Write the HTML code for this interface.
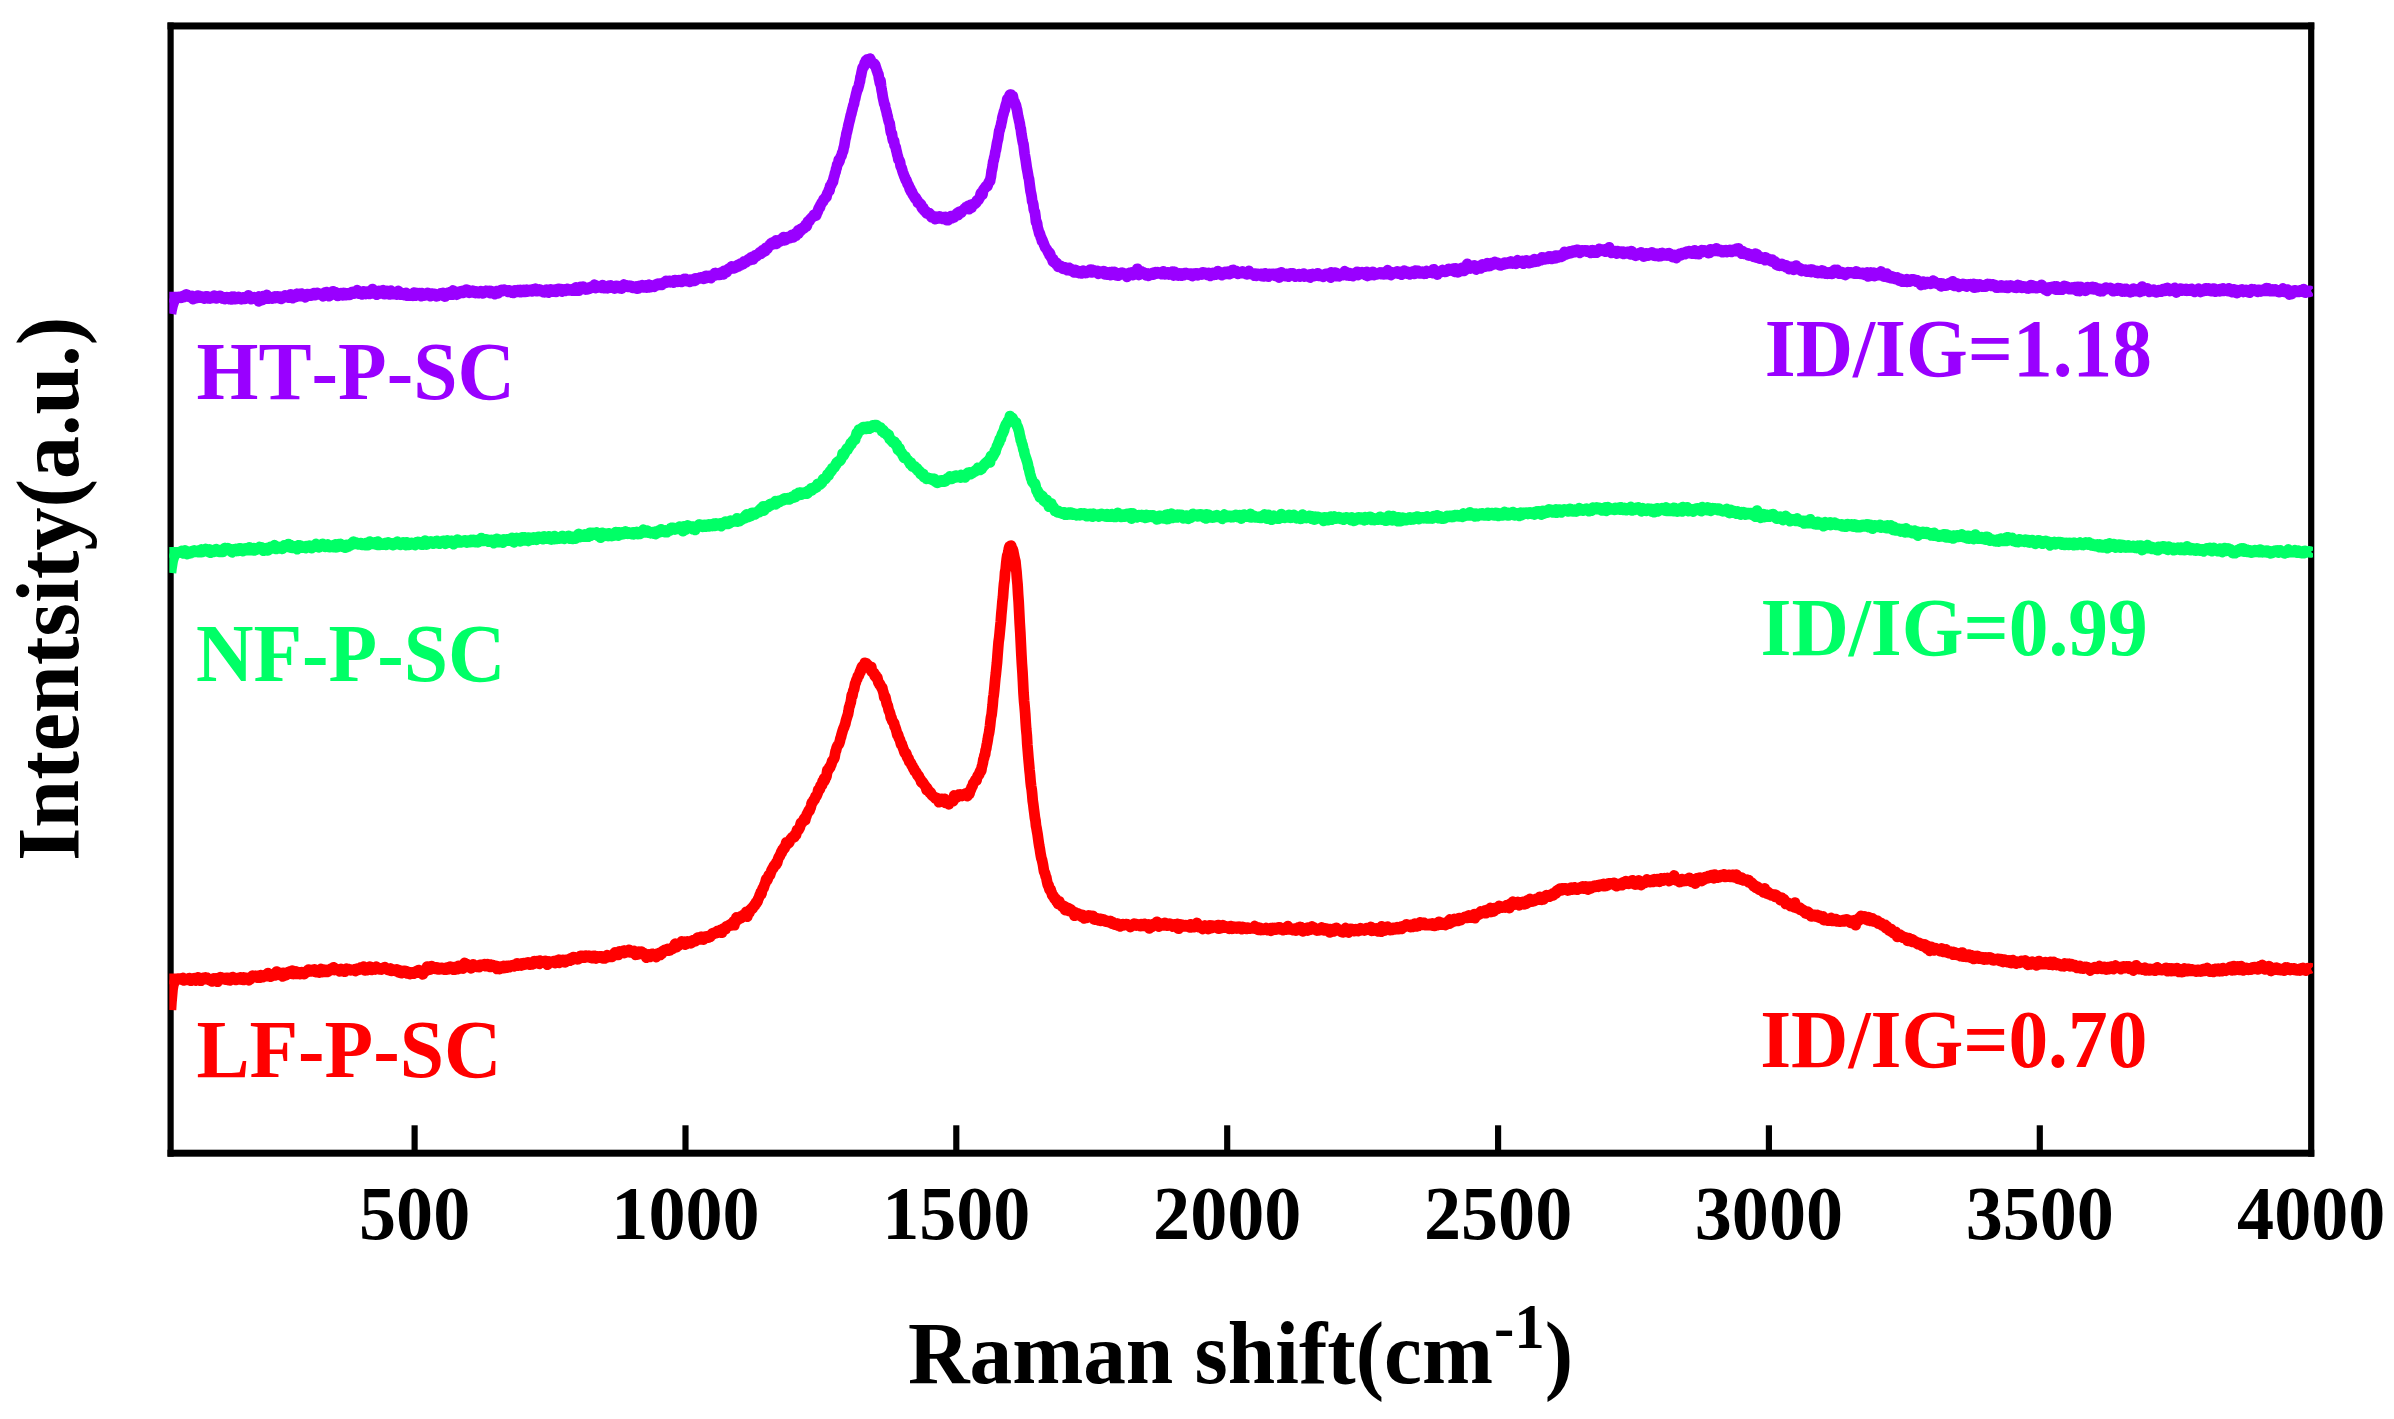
<!DOCTYPE html>
<html lang="en">
<head>
<meta charset="utf-8">
<title>Raman spectra</title>
<style>
html,body{margin:0;padding:0;background:#fff;}
body{width:2394px;height:1419px;overflow:hidden;}
svg{display:block;}
svg text{font-family:"Liberation Serif",serif;font-weight:bold;font-kerning:none;}
</style>
</head>
<body>
<svg width="2394" height="1419" viewBox="0 0 2394 1419">
<rect x="0" y="0" width="2394" height="1419" fill="#ffffff"/>
<rect x="167.50" y="22.45" width="2146.80" height="7.0" fill="#000"/>
<rect x="167.50" y="1149.70" width="2146.80" height="7.0" fill="#000"/>
<rect x="167.50" y="22.45" width="6.2" height="1134.25" fill="#000"/>
<rect x="2308.10" y="22.45" width="6.2" height="1134.25" fill="#000"/>
<rect x="411.53" y="1125.3" width="6.15" height="27.90" fill="#000"/>
<rect x="682.42" y="1125.3" width="6.15" height="27.90" fill="#000"/>
<rect x="953.22" y="1125.3" width="6.15" height="27.90" fill="#000"/>
<rect x="1224.12" y="1125.3" width="6.15" height="27.90" fill="#000"/>
<rect x="1495.02" y="1125.3" width="6.15" height="27.90" fill="#000"/>
<rect x="1765.83" y="1125.3" width="6.15" height="27.90" fill="#000"/>
<rect x="2036.72" y="1125.3" width="6.15" height="27.90" fill="#000"/>
<defs><clipPath id="plotclip"><rect x="169.3" y="20" width="2143.7" height="1140"/></clipPath></defs>
<g clip-path="url(#plotclip)">
<polyline id="red" fill="none" stroke="#ff0000" stroke-width="10.8" stroke-linejoin="round" stroke-linecap="butt" points="170.9,1010.0 171.4,1002.2 172.0,995.2 172.5,989.5 173.1,985.8 173.6,984.1 174.2,982.7 174.7,981.5 175.2,980.7 175.8,980.1 176.3,979.7 176.9,979.5 177.4,979.2 177.9,979.1 178.5,978.9 179.0,978.8 179.6,978.8 180.1,978.8 180.7,978.8 181.2,979.3 181.7,978.9 182.3,978.7 182.8,978.0 183.4,978.9 183.9,980.4 184.4,980.0 185.0,978.9 185.5,979.7 186.1,979.8 186.6,979.8 187.2,979.1 187.7,979.1 188.2,979.3 188.8,978.8 189.3,978.1 189.9,978.1 190.4,979.0 190.9,980.7 191.5,978.8 192.0,979.6 192.6,979.6 193.1,979.3 193.7,978.7 194.2,978.2 194.7,979.3 195.3,978.7 195.8,980.6 196.4,979.2 196.9,978.8 197.4,978.1 198.0,977.3 198.5,979.9 199.1,980.0 199.6,978.9 200.2,980.6 200.7,979.5 201.2,980.7 201.8,978.5 202.3,978.3 202.9,978.0 203.4,979.3 203.9,978.6 204.5,978.1 205.0,978.2 205.6,977.5 206.1,977.6 206.7,977.6 207.2,979.4 207.7,978.9 208.3,979.1 208.8,980.0 209.4,980.1 209.9,979.8 210.4,980.2 211.0,980.6 211.5,980.1 212.1,981.4 212.6,979.9 213.2,980.2 213.7,978.5 214.2,980.0 214.8,978.8 215.3,979.0 215.9,978.5 216.4,979.5 216.9,979.6 217.5,981.7 218.0,978.9 218.6,978.0 219.1,980.1 219.7,978.3 220.2,977.2 220.7,979.2 221.3,979.3 221.8,979.2 222.4,979.2 222.9,977.9 223.4,978.1 224.0,978.8 224.5,979.2 225.1,979.5 225.6,979.2 226.2,979.2 226.7,977.9 227.2,977.8 227.8,977.8 228.3,980.0 228.9,979.8 229.4,979.1 229.9,980.4 230.5,979.4 231.0,979.3 231.6,977.6 232.1,977.5 232.7,977.1 233.2,977.8 233.7,978.3 234.3,978.3 234.8,978.2 235.4,979.7 235.9,979.9 236.4,979.7 237.0,978.2 237.5,979.0 238.1,978.9 238.6,979.4 239.2,978.8 239.7,978.2 240.2,977.4 240.8,977.5 241.3,978.4 241.9,979.7 242.4,979.0 242.9,979.7 243.5,977.4 244.0,979.9 244.6,978.3 245.1,979.3 245.7,978.8 246.2,978.4 246.7,978.0 247.3,978.1 247.8,978.8 248.4,979.8 248.9,980.3 249.4,977.8 250.0,977.4 250.5,979.2 251.1,976.8 251.6,977.1 252.2,976.0 252.7,975.7 253.2,976.4 253.8,977.1 254.3,976.1 254.9,976.0 255.4,976.9 255.9,975.8 256.5,976.8 257.0,976.3 257.6,977.6 258.1,976.8 258.7,975.6 259.2,976.8 259.7,977.7 260.3,977.2 260.8,975.2 261.4,975.9 261.9,977.0 262.4,976.7 263.0,977.0 263.5,976.6 264.1,975.5 264.6,975.2 265.2,975.2 265.7,975.9 266.2,975.2 266.8,976.2 267.3,974.7 267.9,973.1 268.4,975.6 268.9,975.3 269.5,976.0 270.0,976.3 270.6,976.6 271.1,975.5 271.7,976.3 272.2,974.8 272.7,975.1 273.3,975.4 273.8,974.4 274.4,974.4 274.9,973.6 275.4,975.4 276.0,974.4 276.5,971.6 277.1,974.4 277.6,973.8 278.2,973.2 278.7,972.6 279.2,973.0 279.8,974.6 280.3,975.0 280.9,974.5 281.4,975.4 281.9,974.6 282.5,976.4 283.0,972.9 283.6,974.3 284.1,974.5 284.7,974.3 285.2,973.1 285.7,975.3 286.3,974.2 286.8,974.3 287.4,974.3 287.9,973.7 288.4,972.9 289.0,971.7 289.5,971.6 290.1,973.0 290.6,972.7 291.2,972.6 291.7,972.5 292.2,970.7 292.8,973.9 293.3,974.0 293.9,973.9 294.4,973.9 294.9,972.8 295.5,972.6 296.0,971.4 296.6,973.4 297.1,973.8 297.7,972.8 298.2,973.5 298.7,972.6 299.3,973.0 299.8,972.4 300.4,974.0 300.9,973.2 301.4,973.4 302.0,972.2 302.5,972.3 303.1,972.3 303.6,973.1 304.2,974.1 304.7,972.2 305.2,972.7 305.8,972.1 306.3,972.3 306.9,972.1 307.4,971.9 308.0,970.0 308.5,969.6 309.0,970.8 309.6,970.5 310.1,971.0 310.7,971.4 311.2,971.3 311.7,970.1 312.3,969.9 312.8,971.1 313.4,970.7 313.9,970.5 314.5,969.5 315.0,971.3 315.5,972.0 316.1,970.7 316.6,970.5 317.2,970.7 317.7,970.3 318.2,971.3 318.8,972.3 319.3,972.6 319.9,970.3 320.4,971.9 321.0,969.0 321.5,971.0 322.0,969.4 322.6,972.0 323.1,970.3 323.7,969.6 324.2,970.2 324.7,970.8 325.3,971.9 325.8,970.3 326.4,970.8 326.9,970.0 327.5,971.9 328.0,970.0 328.5,971.2 329.1,970.1 329.6,970.0 330.2,969.4 330.7,969.4 331.2,968.7 331.8,969.8 332.3,969.2 332.9,969.2 333.4,967.3 334.0,969.4 334.5,970.0 335.0,969.9 335.6,969.7 336.1,969.0 336.7,969.6 337.2,969.4 337.7,969.5 338.3,969.9 338.8,970.7 339.4,971.2 339.9,971.4 340.5,969.3 341.0,968.8 341.5,970.3 342.1,971.0 342.6,970.7 343.2,970.9 343.7,970.6 344.2,971.3 344.8,971.7 345.3,969.4 345.9,970.4 346.4,968.7 347.0,969.0 347.5,969.9 348.0,968.9 348.6,969.1 349.1,969.7 349.7,969.5 350.2,969.9 350.7,970.2 351.3,969.8 351.8,969.8 352.4,970.1 352.9,969.8 353.5,970.0 354.0,969.6 354.5,970.3 355.1,969.1 355.6,971.1 356.2,968.9 356.7,969.4 357.2,969.1 357.8,968.7 358.3,969.2 358.9,969.8 359.4,969.2 360.0,968.8 360.5,968.9 361.0,967.3 361.6,969.2 362.1,968.4 362.7,969.2 363.2,967.4 363.7,966.7 364.3,968.3 364.8,970.4 365.4,968.6 365.9,970.1 366.5,969.0 367.0,969.8 367.5,970.2 368.1,969.2 368.6,968.8 369.2,968.4 369.7,966.6 370.2,969.3 370.8,969.0 371.3,969.5 371.9,969.8 372.4,968.9 373.0,968.3 373.5,969.4 374.0,968.2 374.6,967.4 375.1,969.5 375.7,967.5 376.2,966.6 376.7,967.8 377.3,968.3 377.8,968.1 378.4,968.6 378.9,968.8 379.5,969.3 380.0,968.4 380.5,969.4 381.1,969.5 381.6,969.1 382.2,968.7 382.7,967.9 383.2,968.1 383.8,968.6 384.3,967.5 384.9,967.2 385.4,968.1 386.0,968.1 386.5,969.1 387.0,969.0 387.6,969.7 388.1,969.9 388.7,969.1 389.2,969.0 389.7,968.7 390.3,968.5 390.8,969.3 391.4,970.9 391.9,970.9 392.5,970.0 393.0,970.1 393.5,969.8 394.1,969.6 394.6,970.9 395.2,970.5 395.7,971.0 396.2,970.5 396.8,969.4 397.3,969.7 397.9,970.7 398.4,972.3 399.0,971.2 399.5,972.2 400.0,972.0 400.6,970.7 401.1,973.0 401.7,973.1 402.2,973.0 402.7,971.4 403.3,972.4 403.8,970.9 404.4,970.9 404.9,970.9 405.5,972.7 406.0,971.2 406.5,971.6 407.1,973.3 407.6,972.9 408.2,973.6 408.7,973.0 409.2,972.1 409.8,974.0 410.3,973.1 410.9,972.4 411.4,973.4 412.0,973.2 412.5,972.5 413.0,972.3 413.6,973.7 414.1,972.2 414.7,973.0 415.2,972.0 415.7,972.4 416.3,971.3 416.8,971.8 417.4,971.9 417.9,972.6 418.5,970.1 419.0,971.1 419.5,970.3 420.1,971.2 420.6,971.4 421.2,971.9 421.7,972.1 422.2,973.0 422.8,974.4 423.3,972.3 423.9,971.3 424.4,972.1 425.0,971.1 425.5,971.3 426.0,969.8 426.6,969.7 427.1,966.7 427.7,968.9 428.2,969.8 428.7,969.8 429.3,968.2 429.8,968.0 430.4,969.5 430.9,967.8 431.5,966.1 432.0,968.6 432.5,966.6 433.1,968.2 433.6,968.5 434.2,967.5 434.7,968.6 435.2,968.0 435.8,968.9 436.3,968.4 436.9,967.3 437.4,968.8 438.0,969.3 438.5,969.2 439.0,969.2 439.6,969.3 440.1,968.6 440.7,968.9 441.2,967.9 441.7,968.4 442.3,967.8 442.8,968.7 443.4,969.1 443.9,968.3 444.5,969.6 445.0,968.7 445.5,969.5 446.1,969.6 446.6,967.7 447.2,968.9 447.7,969.4 448.3,968.2 448.8,968.2 449.3,967.2 449.9,967.7 450.4,966.6 451.0,967.3 451.5,967.5 452.0,968.4 452.6,968.7 453.1,969.6 453.7,969.3 454.2,967.1 454.8,968.5 455.3,969.5 455.8,967.2 456.4,968.7 456.9,968.0 457.5,968.8 458.0,969.2 458.5,965.8 459.1,967.2 459.6,968.3 460.2,967.6 460.7,967.9 461.3,967.5 461.8,967.8 462.3,968.4 462.9,968.5 463.4,966.2 464.0,965.2 464.5,963.0 465.0,966.4 465.6,966.4 466.1,965.6 466.7,964.1 467.2,965.2 467.8,965.1 468.3,967.1 468.8,966.3 469.4,966.5 469.9,966.1 470.5,966.1 471.0,968.3 471.5,967.4 472.1,966.4 472.6,965.6 473.2,964.4 473.7,966.8 474.3,965.4 474.8,965.5 475.3,966.1 475.9,966.2 476.4,965.8 477.0,966.9 477.5,966.2 478.0,965.5 478.6,966.6 479.1,967.1 479.7,965.6 480.2,965.0 480.8,966.0 481.3,965.9 481.8,964.8 482.4,965.3 482.9,965.6 483.5,965.3 484.0,964.6 484.5,964.3 485.1,964.7 485.6,966.2 486.2,965.2 486.7,964.5 487.3,964.2 487.8,965.6 488.3,965.2 488.9,965.6 489.4,966.0 490.0,966.9 490.5,964.6 491.0,965.7 491.6,965.7 492.1,964.8 492.7,965.1 493.2,965.3 493.8,966.8 494.3,966.9 494.8,966.2 495.4,966.5 495.9,965.8 496.5,966.4 497.0,968.9 497.5,966.4 498.1,968.4 498.6,966.7 499.2,969.0 499.7,969.0 500.3,966.6 500.8,968.4 501.3,967.1 501.9,966.7 502.4,967.7 503.0,966.8 503.5,966.0 504.0,968.1 504.6,966.3 505.1,967.9 505.7,966.1 506.2,967.5 506.8,967.7 507.3,966.3 507.8,965.9 508.4,966.8 508.9,966.0 509.5,967.2 510.0,966.0 510.5,965.7 511.1,965.5 511.6,965.5 512.2,965.5 512.7,966.0 513.3,965.1 513.8,966.4 514.3,965.6 514.9,965.4 515.4,965.0 516.0,964.9 516.5,964.7 517.0,963.3 517.6,965.7 518.1,964.3 518.7,965.1 519.2,964.9 519.8,964.5 520.3,964.2 520.8,963.7 521.4,965.5 521.9,964.2 522.5,963.5 523.0,964.9 523.5,963.2 524.1,964.3 524.6,964.5 525.2,963.7 525.7,963.7 526.3,962.9 526.8,963.9 527.3,963.9 527.9,962.3 528.4,964.1 529.0,963.6 529.5,963.1 530.0,964.6 530.6,963.0 531.1,964.3 531.7,963.3 532.2,964.4 532.8,962.9 533.3,964.1 533.8,963.1 534.4,961.1 534.9,961.4 535.5,963.1 536.0,961.5 536.5,961.3 537.1,962.2 537.6,963.1 538.2,962.6 538.7,962.4 539.3,963.9 539.8,960.6 540.3,960.9 540.9,962.5 541.4,961.2 542.0,962.7 542.5,962.0 543.0,962.3 543.6,961.5 544.1,961.9 544.7,962.4 545.2,960.8 545.8,961.1 546.3,961.2 546.8,961.8 547.4,964.6 547.9,961.6 548.5,961.7 549.0,961.4 549.5,962.3 550.1,962.1 550.6,962.5 551.2,962.3 551.7,961.7 552.3,961.7 552.8,961.5 553.3,961.3 553.9,961.2 554.4,961.1 555.0,963.1 555.5,962.1 556.0,961.4 556.6,960.5 557.1,961.1 557.7,960.7 558.2,961.1 558.8,959.7 559.3,962.8 559.8,962.3 560.4,960.3 560.9,960.6 561.5,960.5 562.0,960.5 562.5,960.0 563.1,960.0 563.6,962.1 564.2,960.3 564.7,961.9 565.3,962.3 565.8,960.0 566.3,961.1 566.9,959.8 567.4,960.8 568.0,960.8 568.5,959.5 569.0,960.4 569.6,958.9 570.1,960.7 570.7,958.5 571.2,958.2 571.8,959.9 572.3,958.2 572.8,957.8 573.4,957.1 573.9,958.5 574.5,958.7 575.0,957.6 575.5,958.2 576.1,957.7 576.6,958.6 577.2,959.2 577.7,958.8 578.3,959.1 578.8,957.4 579.3,956.9 579.9,956.7 580.4,955.9 581.0,956.5 581.5,957.2 582.1,955.8 582.6,956.1 583.1,956.9 583.7,956.5 584.2,957.7 584.8,957.3 585.3,956.1 585.8,955.7 586.4,957.0 586.9,957.0 587.5,957.2 588.0,956.9 588.6,955.9 589.1,956.5 589.6,955.8 590.2,957.5 590.7,957.2 591.3,958.0 591.8,956.2 592.3,956.1 592.9,956.0 593.4,958.1 594.0,957.8 594.5,955.8 595.1,958.2 595.6,957.0 596.1,958.5 596.7,957.2 597.2,957.4 597.8,956.3 598.3,956.9 598.8,956.8 599.4,956.9 599.9,956.3 600.5,957.0 601.0,957.8 601.6,956.3 602.1,957.9 602.6,958.2 603.2,957.6 603.7,957.2 604.3,957.3 604.8,958.3 605.3,956.9 605.9,956.1 606.4,957.1 607.0,955.2 607.5,957.3 608.1,955.6 608.6,955.6 609.1,956.5 609.7,956.5 610.2,956.7 610.8,956.2 611.3,955.4 611.8,956.9 612.4,956.2 612.9,954.3 613.5,955.1 614.0,953.6 614.6,954.6 615.1,952.4 615.6,952.7 616.2,953.5 616.7,954.8 617.3,953.0 617.8,954.6 618.3,954.7 618.9,952.7 619.4,951.3 620.0,952.9 620.5,952.5 621.1,951.8 621.6,951.6 622.1,952.1 622.7,952.7 623.2,952.5 623.8,950.7 624.3,953.0 624.8,950.7 625.4,951.3 625.9,951.1 626.5,952.1 627.0,951.1 627.6,951.4 628.1,950.6 628.6,950.8 629.2,949.8 629.7,952.0 630.3,952.0 630.8,952.3 631.3,951.8 631.9,950.9 632.4,952.4 633.0,951.2 633.5,953.1 634.1,951.0 634.6,952.6 635.1,953.0 635.7,954.7 636.2,954.6 636.8,952.2 637.3,954.5 637.8,954.1 638.4,953.9 638.9,951.7 639.5,952.6 640.0,952.2 640.6,953.8 641.1,953.6 641.6,951.7 642.2,952.5 642.7,953.2 643.3,953.3 643.8,953.0 644.3,955.1 644.9,954.0 645.4,954.1 646.0,955.5 646.5,957.7 647.1,956.5 647.6,955.2 648.1,954.5 648.7,955.0 649.2,956.0 649.8,956.9 650.3,956.0 650.8,955.0 651.4,955.9 651.9,953.8 652.5,954.0 653.0,955.5 653.6,954.2 654.1,955.1 654.6,954.8 655.2,955.0 655.7,955.9 656.3,957.0 656.8,954.0 657.3,954.8 657.9,953.4 658.4,955.5 659.0,954.7 659.5,952.8 660.1,953.7 660.6,954.9 661.1,953.1 661.7,953.8 662.2,952.9 662.8,951.0 663.3,950.8 663.8,950.6 664.4,950.6 664.9,950.0 665.5,950.8 666.0,949.8 666.6,949.9 667.1,950.7 667.6,948.9 668.2,949.6 668.7,950.6 669.3,950.4 669.8,949.8 670.3,950.3 670.9,949.7 671.4,948.7 672.0,948.9 672.5,948.9 673.1,947.1 673.6,947.2 674.1,946.7 674.7,944.9 675.2,943.7 675.8,947.3 676.3,947.3 676.8,944.7 677.4,945.9 677.9,945.0 678.5,945.7 679.0,944.5 679.6,944.6 680.1,943.3 680.6,943.9 681.2,943.3 681.7,941.4 682.3,942.2 682.8,942.4 683.3,943.8 683.9,943.0 684.4,941.7 685.0,944.6 685.5,944.0 686.1,944.1 686.6,942.8 687.1,941.9 687.7,941.5 688.2,941.6 688.8,941.7 689.3,942.3 689.8,941.8 690.4,942.0 690.9,943.3 691.5,941.9 692.0,940.6 692.6,941.9 693.1,940.2 693.6,941.4 694.2,939.9 694.7,940.7 695.3,941.2 695.8,941.0 696.3,940.2 696.9,939.5 697.4,937.9 698.0,937.6 698.5,937.5 699.1,938.4 699.6,939.4 700.1,938.0 700.7,936.9 701.2,937.7 701.8,936.9 702.3,937.9 702.8,937.2 703.4,939.6 703.9,937.0 704.5,937.9 705.0,938.2 705.6,938.1 706.1,936.7 706.6,936.3 707.2,936.3 707.7,937.1 708.3,936.2 708.8,937.5 709.3,936.6 709.9,936.4 710.4,936.7 711.0,936.0 711.5,934.5 712.1,933.6 712.6,933.8 713.1,933.1 713.7,933.8 714.2,932.9 714.8,933.1 715.3,932.8 715.9,933.0 716.4,931.7 716.9,932.4 717.5,930.8 718.0,932.5 718.6,932.3 719.1,930.7 719.6,931.4 720.2,930.0 720.7,930.7 721.3,930.0 721.8,932.7 722.4,929.3 722.9,929.3 723.4,928.7 724.0,928.4 724.5,928.8 725.1,927.9 725.6,929.2 726.1,926.7 726.7,926.1 727.2,926.8 727.8,926.7 728.3,925.7 728.9,925.4 729.4,925.2 729.9,924.5 730.5,925.1 731.0,925.4 731.6,923.5 732.1,923.3 732.6,923.0 733.2,922.8 733.7,921.3 734.3,925.2 734.8,921.3 735.4,922.4 735.9,921.0 736.4,917.5 737.0,919.8 737.5,919.5 738.1,918.3 738.6,919.4 739.1,918.0 739.7,917.5 740.2,916.5 740.8,917.6 741.3,917.8 741.9,917.5 742.4,917.0 742.9,915.1 743.5,915.8 744.0,915.0 744.6,915.7 745.1,916.4 745.6,915.5 746.2,912.0 746.7,915.4 747.3,916.6 747.8,914.1 748.4,912.9 748.9,911.9 749.4,912.7 750.0,910.2 750.5,910.4 751.1,908.9 751.6,908.4 752.1,908.3 752.7,908.4 753.2,906.4 753.8,906.7 754.3,905.0 754.9,905.5 755.4,903.9 755.9,902.5 756.5,903.1 757.0,901.8 757.6,901.5 758.1,899.0 758.6,898.4 759.2,896.8 759.7,895.2 760.3,895.1 760.8,892.2 761.4,894.0 761.9,891.2 762.4,889.4 763.0,887.8 763.5,888.2 764.1,886.4 764.6,884.3 765.1,883.6 765.7,881.3 766.2,879.2 766.8,878.9 767.3,880.2 767.9,878.3 768.4,876.2 768.9,875.1 769.5,874.5 770.0,875.1 770.6,872.8 771.1,871.8 771.6,870.3 772.2,869.3 772.7,868.1 773.3,868.3 773.8,865.9 774.4,866.3 774.9,864.7 775.4,864.7 776.0,864.8 776.5,862.1 777.1,862.9 777.6,860.8 778.1,859.2 778.7,857.4 779.2,856.7 779.8,856.2 780.3,854.6 780.9,853.6 781.4,851.5 781.9,852.5 782.5,849.6 783.0,849.9 783.6,849.4 784.1,847.4 784.6,848.0 785.2,846.1 785.7,845.0 786.3,842.4 786.8,843.7 787.4,844.3 787.9,843.2 788.4,841.8 789.0,842.8 789.5,841.8 790.1,840.5 790.6,839.2 791.1,838.8 791.7,838.1 792.2,837.3 792.8,836.9 793.3,837.5 793.9,836.9 794.4,836.9 794.9,834.6 795.5,834.2 796.0,834.9 796.6,831.8 797.1,830.1 797.6,830.8 798.2,830.3 798.7,829.8 799.3,828.1 799.8,827.6 800.4,825.0 800.9,822.9 801.4,823.1 802.0,823.0 802.5,822.2 803.1,820.9 803.6,820.2 804.1,818.7 804.7,818.1 805.2,820.2 805.8,817.3 806.3,816.5 806.9,813.9 807.4,813.7 807.9,812.3 808.5,811.1 809.0,810.2 809.6,810.5 810.1,808.6 810.6,807.8 811.2,805.5 811.7,802.9 812.3,802.7 812.8,802.1 813.4,800.5 813.9,799.6 814.4,800.0 815.0,798.2 815.5,796.4 816.1,796.6 816.6,795.7 817.1,794.6 817.7,793.1 818.2,790.0 818.8,790.2 819.3,790.0 819.9,789.0 820.4,786.2 820.9,786.2 821.5,784.9 822.0,785.2 822.6,781.3 823.1,782.6 823.6,780.1 824.2,778.3 824.7,780.7 825.3,778.5 825.8,777.2 826.4,776.8 826.9,773.4 827.4,770.0 828.0,770.5 828.5,769.4 829.1,767.7 829.6,768.2 830.1,767.4 830.7,765.4 831.2,764.9 831.8,762.6 832.3,760.8 832.9,760.3 833.4,759.5 833.9,758.8 834.5,757.4 835.0,754.4 835.6,751.2 836.1,750.4 836.6,747.9 837.2,746.4 837.7,745.7 838.3,744.6 838.8,744.2 839.4,742.7 839.9,741.1 840.4,738.5 841.0,737.0 841.5,734.8 842.1,732.8 842.6,730.9 843.1,729.4 843.7,728.0 844.2,727.0 844.8,725.0 845.3,723.9 845.9,720.8 846.4,719.2 846.9,717.5 847.5,715.6 848.0,714.3 848.6,710.9 849.1,707.3 849.7,705.9 850.2,703.9 850.7,702.6 851.3,698.7 851.8,695.0 852.4,695.8 852.9,692.7 853.4,690.5 854.0,689.5 854.5,687.2 855.1,683.5 855.6,683.1 856.2,680.8 856.7,679.5 857.2,678.9 857.8,676.4 858.3,675.6 858.9,675.5 859.4,673.8 859.9,671.9 860.5,672.0 861.0,669.3 861.6,667.9 862.1,666.6 862.7,666.1 863.2,668.2 863.7,666.2 864.3,664.7 864.8,662.9 865.4,662.9 865.9,663.7 866.4,663.3 867.0,664.5 867.5,664.5 868.1,665.3 868.6,667.1 869.2,667.7 869.7,668.1 870.2,668.6 870.8,670.0 871.3,667.1 871.9,672.1 872.4,672.3 872.9,671.9 873.5,673.4 874.0,672.9 874.6,675.6 875.1,675.6 875.7,675.2 876.2,677.7 876.7,678.0 877.3,677.6 877.8,679.9 878.4,682.4 878.9,682.5 879.4,684.2 880.0,684.1 880.5,685.4 881.1,686.6 881.6,687.8 882.2,687.6 882.7,690.3 883.2,691.7 883.8,694.0 884.3,697.4 884.9,696.2 885.4,697.3 885.9,699.7 886.5,702.7 887.0,704.8 887.6,705.1 888.1,707.2 888.7,710.3 889.2,711.1 889.7,712.3 890.3,714.3 890.8,717.6 891.4,717.4 891.9,719.8 892.4,721.3 893.0,721.5 893.5,722.6 894.1,723.2 894.6,726.4 895.2,727.1 895.7,728.5 896.2,730.2 896.8,732.5 897.3,735.0 897.9,734.4 898.4,735.8 898.9,738.3 899.5,739.0 900.0,740.0 900.6,742.4 901.1,744.4 901.7,743.8 902.2,745.9 902.7,746.9 903.3,748.6 903.8,749.9 904.4,752.0 904.9,753.2 905.4,752.7 906.0,753.2 906.5,754.3 907.1,757.2 907.6,757.1 908.2,759.0 908.7,759.0 909.2,761.5 909.8,761.6 910.3,762.7 910.9,762.9 911.4,764.7 911.9,765.8 912.5,766.1 913.0,767.7 913.6,769.0 914.1,768.8 914.7,771.1 915.2,770.9 915.7,772.1 916.3,772.4 916.8,773.5 917.4,775.1 917.9,775.9 918.4,775.6 919.0,776.5 919.5,778.1 920.1,778.9 920.6,779.5 921.2,781.8 921.7,782.7 922.2,781.6 922.8,782.5 923.3,783.0 923.9,784.5 924.4,784.7 924.9,785.7 925.5,786.3 926.0,787.7 926.6,790.0 927.1,787.9 927.7,789.7 928.2,790.2 928.7,790.6 929.3,791.6 929.8,792.8 930.4,792.3 930.9,793.0 931.4,794.5 932.0,795.3 932.5,795.9 933.1,796.0 933.6,796.7 934.2,796.8 934.7,797.6 935.2,798.5 935.8,798.5 936.3,798.4 936.9,797.8 937.4,798.9 937.9,800.5 938.5,799.5 939.0,802.2 939.6,799.2 940.1,800.0 940.7,800.7 941.2,798.8 941.7,800.1 942.3,800.8 942.8,801.1 943.4,801.0 943.9,801.7 944.4,798.8 945.0,801.4 945.5,802.7 946.1,802.6 946.6,803.0 947.2,803.0 947.7,803.3 948.2,802.9 948.8,804.3 949.3,800.8 949.9,801.3 950.4,801.1 950.9,800.7 951.5,800.5 952.0,800.5 952.6,800.2 953.1,801.2 953.7,799.9 954.2,795.5 954.7,797.0 955.3,797.5 955.8,797.4 956.4,795.9 956.9,797.3 957.4,796.0 958.0,795.1 958.5,794.7 959.1,794.6 959.6,795.6 960.2,794.5 960.7,795.0 961.2,794.7 961.8,795.2 962.3,795.8 962.9,795.4 963.4,795.2 963.9,795.4 964.5,794.0 965.0,794.2 965.6,793.6 966.1,793.9 966.7,793.6 967.2,796.1 967.7,793.2 968.3,792.5 968.8,791.9 969.4,793.9 969.9,791.9 970.4,790.4 971.0,789.5 971.5,787.6 972.1,786.6 972.6,785.8 973.2,783.5 973.7,782.8 974.2,782.3 974.8,781.7 975.3,779.8 975.9,779.6 976.4,780.7 976.9,778.6 977.5,776.5 978.0,775.5 978.6,774.5 979.1,774.7 979.7,772.4 980.2,771.0 980.7,771.7 981.3,770.3 981.8,767.0 982.4,764.8 982.9,762.7 983.4,759.3 984.0,758.1 984.5,755.1 985.1,754.6 985.6,750.4 986.2,748.7 986.7,745.2 987.2,743.0 987.8,739.5 988.3,736.0 988.9,733.7 989.4,730.6 990.0,726.1 990.5,721.4 991.0,717.4 991.6,714.8 992.1,710.1 992.7,704.6 993.2,698.0 993.7,695.2 994.3,689.7 994.8,684.1 995.4,677.6 995.9,673.5 996.5,667.4 997.0,662.6 997.5,655.8 998.1,648.1 998.6,641.9 999.2,637.7 999.7,632.7 1000.2,627.2 1000.8,621.5 1001.3,614.4 1001.9,608.3 1002.4,601.8 1003.0,597.0 1003.5,589.5 1004.0,584.1 1004.6,579.7 1005.1,572.2 1005.7,569.2 1006.2,563.7 1006.7,559.4 1007.3,555.3 1007.8,554.4 1008.4,551.8 1008.9,548.6 1009.5,546.6 1010.0,546.4 1010.5,545.9 1011.1,545.6 1011.6,547.5 1012.2,548.5 1012.7,549.4 1013.2,551.1 1013.8,554.4 1014.3,556.8 1014.9,559.6 1015.4,561.3 1016.0,567.5 1016.5,571.9 1017.0,578.6 1017.6,585.1 1018.1,594.2 1018.7,602.4 1019.2,612.5 1019.7,622.8 1020.3,632.3 1020.8,642.7 1021.4,654.9 1021.9,664.0 1022.5,672.5 1023.0,682.0 1023.5,692.7 1024.1,701.2 1024.6,706.3 1025.2,713.6 1025.7,722.2 1026.2,729.3 1026.8,735.3 1027.3,744.4 1027.9,751.2 1028.4,757.7 1029.0,764.0 1029.5,769.8 1030.0,774.3 1030.6,781.6 1031.1,786.1 1031.7,789.6 1032.2,794.4 1032.7,800.6 1033.3,804.5 1033.8,808.8 1034.4,813.4 1034.9,817.6 1035.5,820.6 1036.0,825.8 1036.5,828.0 1037.1,831.6 1037.6,834.4 1038.2,838.9 1038.7,842.4 1039.2,845.7 1039.8,848.8 1040.3,852.2 1040.9,855.9 1041.4,858.4 1042.0,860.0 1042.5,862.3 1043.0,864.8 1043.6,868.7 1044.1,871.6 1044.7,872.7 1045.2,874.0 1045.7,876.6 1046.3,877.3 1046.8,880.3 1047.4,883.2 1047.9,885.2 1048.5,885.0 1049.0,887.4 1049.5,889.4 1050.1,890.2 1050.6,889.4 1051.2,892.2 1051.7,892.8 1052.2,895.1 1052.8,896.0 1053.3,895.6 1053.9,897.1 1054.4,898.6 1055.0,898.6 1055.5,899.5 1056.0,898.8 1056.6,901.6 1057.1,902.0 1057.7,902.9 1058.2,904.0 1058.7,901.6 1059.3,901.4 1059.8,903.4 1060.4,903.6 1060.9,904.7 1061.5,905.9 1062.0,906.4 1062.5,906.7 1063.1,907.0 1063.6,907.8 1064.2,906.0 1064.7,907.7 1065.2,910.0 1065.8,907.6 1066.3,908.1 1066.9,908.3 1067.4,908.6 1068.0,909.9 1068.5,908.2 1069.0,909.1 1069.6,911.1 1070.1,911.1 1070.7,909.3 1071.2,910.3 1071.7,910.4 1072.3,911.6 1072.8,912.7 1073.4,913.0 1073.9,913.6 1074.5,915.7 1075.0,912.3 1075.5,914.3 1076.1,915.0 1076.6,915.1 1077.2,915.0 1077.7,913.4 1078.2,913.9 1078.8,914.2 1079.3,914.2 1079.9,915.0 1080.4,915.7 1081.0,915.1 1081.5,916.7 1082.0,915.5 1082.6,914.9 1083.1,916.5 1083.7,916.8 1084.2,918.4 1084.7,917.6 1085.3,918.0 1085.8,917.0 1086.4,916.9 1086.9,917.8 1087.5,916.0 1088.0,917.0 1088.5,915.5 1089.1,915.9 1089.6,916.9 1090.2,916.0 1090.7,917.3 1091.2,915.8 1091.8,917.2 1092.3,917.3 1092.9,916.0 1093.4,917.7 1094.0,919.3 1094.5,919.5 1095.0,918.1 1095.6,918.8 1096.1,919.1 1096.7,919.0 1097.2,919.1 1097.7,918.7 1098.3,919.3 1098.8,920.4 1099.4,919.6 1099.9,918.8 1100.5,920.9 1101.0,919.0 1101.5,919.7 1102.1,919.8 1102.6,919.9 1103.2,919.5 1103.7,919.6 1104.2,919.9 1104.8,920.5 1105.3,921.5 1105.9,920.6 1106.4,920.8 1107.0,921.0 1107.5,921.4 1108.0,921.6 1108.6,922.1 1109.1,921.3 1109.7,921.2 1110.2,922.6 1110.7,921.2 1111.3,922.7 1111.8,923.6 1112.4,922.0 1112.9,922.3 1113.5,923.7 1114.0,924.0 1114.5,924.6 1115.1,923.8 1115.6,924.1 1116.2,923.7 1116.7,923.6 1117.2,925.0 1117.8,923.7 1118.3,925.5 1118.9,925.5 1119.4,925.1 1120.0,926.3 1120.5,925.7 1121.0,925.0 1121.6,925.5 1122.1,924.9 1122.7,924.2 1123.2,924.2 1123.8,925.3 1124.3,925.0 1124.8,925.1 1125.4,924.4 1125.9,924.1 1126.5,924.2 1127.0,924.2 1127.5,924.6 1128.1,925.2 1128.6,925.3 1129.2,924.8 1129.7,925.5 1130.3,927.0 1130.8,925.3 1131.3,925.3 1131.9,925.5 1132.4,925.3 1133.0,924.6 1133.5,925.3 1134.0,923.7 1134.6,924.0 1135.1,924.0 1135.7,924.8 1136.2,925.6 1136.8,924.2 1137.3,925.1 1137.8,925.2 1138.4,925.1 1138.9,925.4 1139.5,925.2 1140.0,925.7 1140.5,926.2 1141.1,924.2 1141.6,924.8 1142.2,924.9 1142.7,925.2 1143.3,925.6 1143.8,925.8 1144.3,923.8 1144.9,924.5 1145.4,925.4 1146.0,925.3 1146.5,926.3 1147.0,925.3 1147.6,925.7 1148.1,924.4 1148.7,925.2 1149.2,928.4 1149.8,925.2 1150.3,925.0 1150.8,925.2 1151.4,926.1 1151.9,926.8 1152.5,925.1 1153.0,924.7 1153.5,923.9 1154.1,925.2 1154.6,924.6 1155.2,923.6 1155.7,924.4 1156.3,924.8 1156.8,921.8 1157.3,925.1 1157.9,924.9 1158.4,926.1 1159.0,926.6 1159.5,924.3 1160.0,924.5 1160.6,924.0 1161.1,923.8 1161.7,924.3 1162.2,924.6 1162.8,924.4 1163.3,925.4 1163.8,924.2 1164.4,923.8 1164.9,922.8 1165.5,924.3 1166.0,924.8 1166.5,924.4 1167.1,925.6 1167.6,923.7 1168.2,924.8 1168.7,924.6 1169.3,925.1 1169.8,924.8 1170.3,923.8 1170.9,924.0 1171.4,924.9 1172.0,925.6 1172.5,926.5 1173.0,924.9 1173.6,925.1 1174.1,924.4 1174.7,924.4 1175.2,925.8 1175.8,925.6 1176.3,924.2 1176.8,925.3 1177.4,925.5 1177.9,924.0 1178.5,928.7 1179.0,926.9 1179.5,926.6 1180.1,924.4 1180.6,925.9 1181.2,926.2 1181.7,926.6 1182.3,925.0 1182.8,926.5 1183.3,925.1 1183.9,926.0 1184.4,926.0 1185.0,926.4 1185.5,925.1 1186.0,925.4 1186.6,925.3 1187.1,926.1 1187.7,926.3 1188.2,926.4 1188.8,927.1 1189.3,926.7 1189.8,927.4 1190.4,924.4 1190.9,927.4 1191.5,926.2 1192.0,926.6 1192.5,926.5 1193.1,926.3 1193.6,925.0 1194.2,927.0 1194.7,926.4 1195.3,926.6 1195.8,925.3 1196.3,926.4 1196.9,923.0 1197.4,926.4 1198.0,926.5 1198.5,926.0 1199.0,927.2 1199.6,925.4 1200.1,926.0 1200.7,926.7 1201.2,926.3 1201.8,926.9 1202.3,926.7 1202.8,929.0 1203.4,927.2 1203.9,927.1 1204.5,927.0 1205.0,925.5 1205.5,926.1 1206.1,926.7 1206.6,928.1 1207.2,927.4 1207.7,926.2 1208.3,929.0 1208.8,926.6 1209.3,926.8 1209.9,925.3 1210.4,925.6 1211.0,928.1 1211.5,928.0 1212.0,927.8 1212.6,925.6 1213.1,927.6 1213.7,926.4 1214.2,926.7 1214.8,926.4 1215.3,927.4 1215.8,927.1 1216.4,926.8 1216.9,925.4 1217.5,927.5 1218.0,925.1 1218.5,928.7 1219.1,926.2 1219.6,925.9 1220.2,928.3 1220.7,927.0 1221.3,928.1 1221.8,926.1 1222.3,925.7 1222.9,925.1 1223.4,926.2 1224.0,927.5 1224.5,926.3 1225.0,927.1 1225.6,926.8 1226.1,926.6 1226.7,927.4 1227.2,926.7 1227.8,928.2 1228.3,928.3 1228.8,928.0 1229.4,928.8 1229.9,928.7 1230.5,926.1 1231.0,927.0 1231.5,927.9 1232.1,928.7 1232.6,928.6 1233.2,927.7 1233.7,926.7 1234.3,927.8 1234.8,927.2 1235.3,927.8 1235.9,928.3 1236.4,926.8 1237.0,928.5 1237.5,927.7 1238.0,927.1 1238.6,927.5 1239.1,926.8 1239.7,927.4 1240.2,926.8 1240.8,928.0 1241.3,927.7 1241.8,929.2 1242.4,927.7 1242.9,927.0 1243.5,927.3 1244.0,927.3 1244.5,928.1 1245.1,928.5 1245.6,928.3 1246.2,927.8 1246.7,928.9 1247.3,928.3 1247.8,927.8 1248.3,928.2 1248.9,928.7 1249.4,928.7 1250.0,928.5 1250.5,928.6 1251.0,928.4 1251.6,928.1 1252.1,928.2 1252.7,928.2 1253.2,928.3 1253.8,927.4 1254.3,928.6 1254.8,926.0 1255.4,927.8 1255.9,928.1 1256.5,927.3 1257.0,928.0 1257.6,928.1 1258.1,929.8 1258.6,927.6 1259.2,928.1 1259.7,928.1 1260.3,928.0 1260.8,930.1 1261.3,928.6 1261.9,929.4 1262.4,929.2 1263.0,929.1 1263.5,929.8 1264.1,929.0 1264.6,928.6 1265.1,928.8 1265.7,928.0 1266.2,928.9 1266.8,929.1 1267.3,930.0 1267.8,929.3 1268.4,929.4 1268.9,928.7 1269.5,929.2 1270.0,928.5 1270.6,928.1 1271.1,930.8 1271.6,929.3 1272.2,928.3 1272.7,928.0 1273.3,928.7 1273.8,928.3 1274.3,928.6 1274.9,928.0 1275.4,928.5 1276.0,929.5 1276.5,928.1 1277.1,928.0 1277.6,928.7 1278.1,927.5 1278.7,928.9 1279.2,927.5 1279.8,927.5 1280.3,927.9 1280.8,929.3 1281.4,928.3 1281.9,929.0 1282.5,928.8 1283.0,930.2 1283.6,929.0 1284.1,928.8 1284.6,928.4 1285.2,928.8 1285.7,928.7 1286.3,929.6 1286.8,927.0 1287.3,926.6 1287.9,926.1 1288.4,927.1 1289.0,929.2 1289.5,927.6 1290.1,929.3 1290.6,929.1 1291.1,929.5 1291.7,928.6 1292.2,928.9 1292.8,930.0 1293.3,928.8 1293.8,929.4 1294.4,928.8 1294.9,928.6 1295.5,928.5 1296.0,930.6 1296.6,928.7 1297.1,929.1 1297.6,928.2 1298.2,928.4 1298.7,927.4 1299.3,927.6 1299.8,927.4 1300.3,927.0 1300.9,927.2 1301.4,927.7 1302.0,929.7 1302.5,930.2 1303.1,931.3 1303.6,929.9 1304.1,930.7 1304.7,929.6 1305.2,929.0 1305.8,928.7 1306.3,928.1 1306.8,929.1 1307.4,927.7 1307.9,930.5 1308.5,929.7 1309.0,929.2 1309.6,928.5 1310.1,929.7 1310.6,929.1 1311.2,927.2 1311.7,926.5 1312.3,927.4 1312.8,927.3 1313.3,928.3 1313.9,927.4 1314.4,928.6 1315.0,928.6 1315.5,929.5 1316.1,930.0 1316.6,929.9 1317.1,930.5 1317.7,930.2 1318.2,929.4 1318.8,930.3 1319.3,928.7 1319.8,929.1 1320.4,928.8 1320.9,928.5 1321.5,927.5 1322.0,929.0 1322.6,928.8 1323.1,929.2 1323.6,930.3 1324.2,928.7 1324.7,929.5 1325.3,928.5 1325.8,930.2 1326.3,929.1 1326.9,928.9 1327.4,930.8 1328.0,929.0 1328.5,929.4 1329.1,929.8 1329.6,932.4 1330.1,929.2 1330.7,929.4 1331.2,930.2 1331.8,930.9 1332.3,931.6 1332.8,929.9 1333.4,929.8 1333.9,931.3 1334.5,930.6 1335.0,928.4 1335.6,929.3 1336.1,929.0 1336.6,927.9 1337.2,930.3 1337.7,928.9 1338.3,929.4 1338.8,930.1 1339.3,929.8 1339.9,930.4 1340.4,930.9 1341.0,931.6 1341.5,931.9 1342.1,932.0 1342.6,932.0 1343.1,932.4 1343.7,930.6 1344.2,930.3 1344.8,930.7 1345.3,930.7 1345.8,928.0 1346.4,929.7 1346.9,930.8 1347.5,931.0 1348.0,931.6 1348.6,932.5 1349.1,931.6 1349.6,929.5 1350.2,929.0 1350.7,929.0 1351.3,929.9 1351.8,930.9 1352.3,929.2 1352.9,930.1 1353.4,930.3 1354.0,930.4 1354.5,931.2 1355.1,929.5 1355.6,929.3 1356.1,930.1 1356.7,930.3 1357.2,930.4 1357.8,930.7 1358.3,931.0 1358.8,929.9 1359.4,930.6 1359.9,929.2 1360.5,928.3 1361.0,928.5 1361.6,929.1 1362.1,929.4 1362.6,929.0 1363.2,929.5 1363.7,930.3 1364.3,930.5 1364.8,930.3 1365.3,930.1 1365.9,929.9 1366.4,928.1 1367.0,929.5 1367.5,929.6 1368.1,928.8 1368.6,929.6 1369.1,928.9 1369.7,928.7 1370.2,930.0 1370.8,927.0 1371.3,930.8 1371.8,930.0 1372.4,927.9 1372.9,928.2 1373.5,930.6 1374.0,929.9 1374.6,930.0 1375.1,930.4 1375.6,930.3 1376.2,928.4 1376.7,930.1 1377.3,930.4 1377.8,931.3 1378.3,929.5 1378.9,930.6 1379.4,929.8 1380.0,929.3 1380.5,930.8 1381.1,931.7 1381.6,926.5 1382.1,929.8 1382.7,929.8 1383.2,928.1 1383.8,928.6 1384.3,930.3 1384.8,930.5 1385.4,927.9 1385.9,928.2 1386.5,928.6 1387.0,928.3 1387.6,926.6 1388.1,928.5 1388.6,927.6 1389.2,929.7 1389.7,929.9 1390.3,930.1 1390.8,929.3 1391.4,928.9 1391.9,929.9 1392.4,929.0 1393.0,927.9 1393.5,928.0 1394.1,928.5 1394.6,928.5 1395.1,929.3 1395.7,928.7 1396.2,927.5 1396.8,927.3 1397.3,927.9 1397.9,927.5 1398.4,929.1 1398.9,928.4 1399.5,928.2 1400.0,928.2 1400.6,927.1 1401.1,926.7 1401.6,928.9 1402.2,928.1 1402.7,926.8 1403.3,927.3 1403.8,925.8 1404.4,926.5 1404.9,926.9 1405.4,926.0 1406.0,925.9 1406.5,924.3 1407.1,925.5 1407.6,925.6 1408.1,925.7 1408.7,926.0 1409.2,925.8 1409.8,925.4 1410.3,927.0 1410.9,924.8 1411.4,924.9 1411.9,924.6 1412.5,926.9 1413.0,925.8 1413.6,926.0 1414.1,923.9 1414.6,923.7 1415.2,925.8 1415.7,925.3 1416.3,924.0 1416.8,926.4 1417.4,923.7 1417.9,925.7 1418.4,925.8 1419.0,924.7 1419.5,923.2 1420.1,922.4 1420.6,925.0 1421.1,923.6 1421.7,923.9 1422.2,923.8 1422.8,922.9 1423.3,924.9 1423.9,922.8 1424.4,923.0 1424.9,924.2 1425.5,925.1 1426.0,923.9 1426.6,923.8 1427.1,924.0 1427.6,924.6 1428.2,925.2 1428.7,924.2 1429.3,923.9 1429.8,924.2 1430.4,924.1 1430.9,924.0 1431.4,924.7 1432.0,925.5 1432.5,923.4 1433.1,924.3 1433.6,925.1 1434.1,925.9 1434.7,925.9 1435.2,924.3 1435.8,923.9 1436.3,924.4 1436.9,924.8 1437.4,925.1 1437.9,924.4 1438.5,922.4 1439.0,921.8 1439.6,922.4 1440.1,924.5 1440.6,923.1 1441.2,924.2 1441.7,924.3 1442.3,923.0 1442.8,924.7 1443.4,924.5 1443.9,923.5 1444.4,923.9 1445.0,923.1 1445.5,925.1 1446.1,922.8 1446.6,923.8 1447.1,922.8 1447.7,923.3 1448.2,921.6 1448.8,920.6 1449.3,923.6 1449.9,919.5 1450.4,920.0 1450.9,921.4 1451.5,922.5 1452.0,921.1 1452.6,921.6 1453.1,920.5 1453.6,920.3 1454.2,918.9 1454.7,921.3 1455.3,920.4 1455.8,920.6 1456.4,920.3 1456.9,920.4 1457.4,919.5 1458.0,918.8 1458.5,920.8 1459.1,918.1 1459.6,918.9 1460.1,919.7 1460.7,920.2 1461.2,919.6 1461.8,918.5 1462.3,918.6 1462.9,918.3 1463.4,917.8 1463.9,917.9 1464.5,917.4 1465.0,916.8 1465.6,917.4 1466.1,917.5 1466.6,917.7 1467.2,917.0 1467.7,917.8 1468.3,915.7 1468.8,915.5 1469.4,917.3 1469.9,916.6 1470.4,915.9 1471.0,916.7 1471.5,917.7 1472.1,917.1 1472.6,916.6 1473.1,915.9 1473.7,915.4 1474.2,914.1 1474.8,918.2 1475.3,916.1 1475.9,915.1 1476.4,915.0 1476.9,915.2 1477.5,914.0 1478.0,915.1 1478.6,913.4 1479.1,914.4 1479.6,913.6 1480.2,913.8 1480.7,911.5 1481.3,913.3 1481.8,912.9 1482.4,912.5 1482.9,912.2 1483.4,912.8 1484.0,911.7 1484.5,912.1 1485.1,910.4 1485.6,913.2 1486.1,911.0 1486.7,911.2 1487.2,911.1 1487.8,911.5 1488.3,909.5 1488.9,911.8 1489.4,910.4 1489.9,911.3 1490.5,908.0 1491.0,912.0 1491.6,909.9 1492.1,909.4 1492.6,910.1 1493.2,908.9 1493.7,911.4 1494.3,908.1 1494.8,908.9 1495.4,909.5 1495.9,908.9 1496.4,908.7 1497.0,908.0 1497.5,909.0 1498.1,907.6 1498.6,907.8 1499.1,905.9 1499.7,907.7 1500.2,907.7 1500.8,907.0 1501.3,907.1 1501.9,906.9 1502.4,907.4 1502.9,907.5 1503.5,907.4 1504.0,906.7 1504.6,906.8 1505.1,907.6 1505.6,906.0 1506.2,907.1 1506.7,905.1 1507.3,905.7 1507.8,905.3 1508.4,904.8 1508.9,905.7 1509.4,908.0 1510.0,904.7 1510.5,903.7 1511.1,904.0 1511.6,903.9 1512.1,902.7 1512.7,901.7 1513.2,904.1 1513.8,903.1 1514.3,904.3 1514.9,904.5 1515.4,903.3 1515.9,902.9 1516.5,903.0 1517.0,902.3 1517.6,902.1 1518.1,902.9 1518.6,902.2 1519.2,905.3 1519.7,902.4 1520.3,903.0 1520.8,903.2 1521.4,904.3 1521.9,902.9 1522.4,902.6 1523.0,901.9 1523.5,903.6 1524.1,904.3 1524.6,903.0 1525.1,903.6 1525.7,903.8 1526.2,903.0 1526.8,903.3 1527.3,900.5 1527.9,901.1 1528.4,900.0 1528.9,902.2 1529.5,900.8 1530.0,899.0 1530.6,900.9 1531.1,901.0 1531.7,901.6 1532.2,900.7 1532.7,900.3 1533.3,900.3 1533.8,900.6 1534.4,901.0 1534.9,899.6 1535.4,899.4 1536.0,899.0 1536.5,899.0 1537.1,899.5 1537.6,898.8 1538.2,899.5 1538.7,899.2 1539.2,898.6 1539.8,896.8 1540.3,897.9 1540.9,898.4 1541.4,897.2 1541.9,899.8 1542.5,898.9 1543.0,899.0 1543.6,899.3 1544.1,898.3 1544.7,898.1 1545.2,896.8 1545.7,896.5 1546.3,895.2 1546.8,896.0 1547.4,896.1 1547.9,895.8 1548.4,895.7 1549.0,896.4 1549.5,896.7 1550.1,895.0 1550.6,894.8 1551.2,895.7 1551.7,895.3 1552.2,894.1 1552.8,893.5 1553.3,895.3 1553.9,894.5 1554.4,893.0 1554.9,893.4 1555.5,893.1 1556.0,893.4 1556.6,890.9 1557.1,891.0 1557.7,891.6 1558.2,889.9 1558.7,889.4 1559.3,890.4 1559.8,888.7 1560.4,890.0 1560.9,889.1 1561.4,888.7 1562.0,890.3 1562.5,888.4 1563.1,888.3 1563.6,888.5 1564.2,889.7 1564.7,888.5 1565.2,888.7 1565.8,888.4 1566.3,889.7 1566.9,889.8 1567.4,889.5 1567.9,890.5 1568.5,890.3 1569.0,889.7 1569.6,888.9 1570.1,888.5 1570.7,889.2 1571.2,887.7 1571.7,889.5 1572.3,889.6 1572.8,888.9 1573.4,887.9 1573.9,889.4 1574.4,887.3 1575.0,888.3 1575.5,888.6 1576.1,887.8 1576.6,888.3 1577.2,889.7 1577.7,888.9 1578.2,888.0 1578.8,888.4 1579.3,887.8 1579.9,888.2 1580.4,888.5 1580.9,887.3 1581.5,887.1 1582.0,888.0 1582.6,886.4 1583.1,887.8 1583.7,888.6 1584.2,887.8 1584.7,887.9 1585.3,886.3 1585.8,887.1 1586.4,887.7 1586.9,887.1 1587.4,887.3 1588.0,889.5 1588.5,888.4 1589.1,887.4 1589.6,886.7 1590.2,888.7 1590.7,888.1 1591.2,887.6 1591.8,887.8 1592.3,886.3 1592.9,886.8 1593.4,887.0 1593.9,886.0 1594.5,885.7 1595.0,886.4 1595.6,886.9 1596.1,885.6 1596.7,886.4 1597.2,885.7 1597.7,886.6 1598.3,886.7 1598.8,885.7 1599.4,885.0 1599.9,885.5 1600.4,885.0 1601.0,885.5 1601.5,885.3 1602.1,885.0 1602.6,885.6 1603.2,885.9 1603.7,884.0 1604.2,886.2 1604.8,885.8 1605.3,885.6 1605.9,884.2 1606.4,885.9 1606.9,884.7 1607.5,884.1 1608.0,885.2 1608.6,883.3 1609.1,883.8 1609.7,884.1 1610.2,883.4 1610.7,884.2 1611.3,883.5 1611.8,884.2 1612.4,883.8 1612.9,883.7 1613.4,883.3 1614.0,882.8 1614.5,883.6 1615.1,885.3 1615.6,884.1 1616.2,884.7 1616.7,886.2 1617.2,884.9 1617.8,884.6 1618.3,884.6 1618.9,884.4 1619.4,883.8 1619.9,884.3 1620.5,884.4 1621.0,883.4 1621.6,884.1 1622.1,885.1 1622.7,883.1 1623.2,882.4 1623.7,883.3 1624.3,882.3 1624.8,883.7 1625.4,883.1 1625.9,881.2 1626.4,883.5 1627.0,882.3 1627.5,883.6 1628.1,883.7 1628.6,882.0 1629.2,883.0 1629.7,883.5 1630.2,882.3 1630.8,883.3 1631.3,883.0 1631.9,882.9 1632.4,880.3 1632.9,882.8 1633.5,883.4 1634.0,883.5 1634.6,884.3 1635.1,884.5 1635.7,883.0 1636.2,884.4 1636.7,882.8 1637.3,881.7 1637.8,881.0 1638.4,881.9 1638.9,880.5 1639.4,881.2 1640.0,882.1 1640.5,882.8 1641.1,885.0 1641.6,882.8 1642.2,882.2 1642.7,882.7 1643.2,882.7 1643.8,882.8 1644.3,881.6 1644.9,882.9 1645.4,881.2 1645.9,880.9 1646.5,881.4 1647.0,879.4 1647.6,881.5 1648.1,881.2 1648.7,881.0 1649.2,881.3 1649.7,882.1 1650.3,882.1 1650.8,881.3 1651.4,880.2 1651.9,881.1 1652.4,881.5 1653.0,881.4 1653.5,881.8 1654.1,880.2 1654.6,879.3 1655.2,879.5 1655.7,881.0 1656.2,881.4 1656.8,880.3 1657.3,879.1 1657.9,881.0 1658.4,880.5 1658.9,881.2 1659.5,881.8 1660.0,879.7 1660.6,879.5 1661.1,879.4 1661.7,878.3 1662.2,878.7 1662.7,879.4 1663.3,880.5 1663.8,879.5 1664.4,878.2 1664.9,879.0 1665.5,878.9 1666.0,878.3 1666.5,878.3 1667.1,878.1 1667.6,879.1 1668.2,879.5 1668.7,879.6 1669.2,881.0 1669.8,879.0 1670.3,878.7 1670.9,878.5 1671.4,878.7 1672.0,879.4 1672.5,879.2 1673.0,879.7 1673.6,879.2 1674.1,875.5 1674.7,879.8 1675.2,879.1 1675.7,879.2 1676.3,880.4 1676.8,879.9 1677.4,880.8 1677.9,880.0 1678.5,880.5 1679.0,879.4 1679.5,882.0 1680.1,880.0 1680.6,881.8 1681.2,881.1 1681.7,879.1 1682.2,881.1 1682.8,881.1 1683.3,880.0 1683.9,881.1 1684.4,880.6 1685.0,880.2 1685.5,879.5 1686.0,879.8 1686.6,880.8 1687.1,880.7 1687.7,879.4 1688.2,880.2 1688.7,879.1 1689.3,877.9 1689.8,879.3 1690.4,879.5 1690.9,881.4 1691.5,881.8 1692.0,880.6 1692.5,881.4 1693.1,881.3 1693.6,881.2 1694.2,880.3 1694.7,881.2 1695.2,883.5 1695.8,878.9 1696.3,878.5 1696.9,878.3 1697.4,878.2 1698.0,879.4 1698.5,879.5 1699.0,878.3 1699.6,878.5 1700.1,877.6 1700.7,878.8 1701.2,880.0 1701.7,881.0 1702.3,879.5 1702.8,878.7 1703.4,879.9 1703.9,879.1 1704.5,878.1 1705.0,877.1 1705.5,877.4 1706.1,876.9 1706.6,877.2 1707.2,877.1 1707.7,878.3 1708.2,877.9 1708.8,875.8 1709.3,876.6 1709.9,876.4 1710.4,876.8 1711.0,877.5 1711.5,875.1 1712.0,877.0 1712.6,877.0 1713.1,877.4 1713.7,878.3 1714.2,875.8 1714.7,874.6 1715.3,876.0 1715.8,875.1 1716.4,875.6 1716.9,875.5 1717.5,877.2 1718.0,877.6 1718.5,876.6 1719.1,876.0 1719.6,877.1 1720.2,875.9 1720.7,875.3 1721.2,875.5 1721.8,875.9 1722.3,875.4 1722.9,875.2 1723.4,875.1 1724.0,874.3 1724.5,876.8 1725.0,875.5 1725.6,875.5 1726.1,876.8 1726.7,875.4 1727.2,875.9 1727.7,875.4 1728.3,875.1 1728.8,875.7 1729.4,874.8 1729.9,876.9 1730.5,876.0 1731.0,876.0 1731.5,875.2 1732.1,874.9 1732.6,876.9 1733.2,875.5 1733.7,874.8 1734.2,876.6 1734.8,877.4 1735.3,874.8 1735.9,876.5 1736.4,874.6 1737.0,875.5 1737.5,877.0 1738.0,878.8 1738.6,877.6 1739.1,878.4 1739.7,878.3 1740.2,879.0 1740.7,879.6 1741.3,878.5 1741.8,877.6 1742.4,879.4 1742.9,880.0 1743.5,880.3 1744.0,880.3 1744.5,879.8 1745.1,880.0 1745.6,880.2 1746.2,879.8 1746.7,879.7 1747.2,880.7 1747.8,880.6 1748.3,882.1 1748.9,880.2 1749.4,882.1 1750.0,881.6 1750.5,882.8 1751.0,882.8 1751.6,882.6 1752.1,884.4 1752.7,884.9 1753.2,884.1 1753.7,886.1 1754.3,886.2 1754.8,886.3 1755.4,885.9 1755.9,887.7 1756.5,886.5 1757.0,887.0 1757.5,886.8 1758.1,888.8 1758.6,888.4 1759.2,889.7 1759.7,888.4 1760.2,889.3 1760.8,889.4 1761.3,890.0 1761.9,889.0 1762.4,891.2 1763.0,891.6 1763.5,892.3 1764.0,890.5 1764.6,888.5 1765.1,892.0 1765.7,892.4 1766.2,891.1 1766.7,893.4 1767.3,892.0 1767.8,892.0 1768.4,893.7 1768.9,892.8 1769.5,894.4 1770.0,894.3 1770.5,894.8 1771.1,895.2 1771.6,894.9 1772.2,895.2 1772.7,894.3 1773.2,895.2 1773.8,894.7 1774.3,894.8 1774.9,896.8 1775.4,894.7 1776.0,896.0 1776.5,895.3 1777.0,895.9 1777.6,897.2 1778.1,896.9 1778.7,898.1 1779.2,898.3 1779.7,898.6 1780.3,900.2 1780.8,898.5 1781.4,897.6 1781.9,898.1 1782.5,898.6 1783.0,899.6 1783.5,900.0 1784.1,899.3 1784.6,901.0 1785.2,901.4 1785.7,903.9 1786.2,902.5 1786.8,902.3 1787.3,903.6 1787.9,903.8 1788.4,903.0 1789.0,904.3 1789.5,904.3 1790.0,905.5 1790.6,906.0 1791.1,904.7 1791.7,905.2 1792.2,903.8 1792.7,905.7 1793.3,905.2 1793.8,903.4 1794.4,907.3 1794.9,902.6 1795.5,905.6 1796.0,907.5 1796.5,908.0 1797.1,907.6 1797.6,907.8 1798.2,907.9 1798.7,908.9 1799.3,908.4 1799.8,907.7 1800.3,909.8 1800.9,908.4 1801.4,909.0 1802.0,909.7 1802.5,909.8 1803.0,909.8 1803.6,911.5 1804.1,912.1 1804.7,911.6 1805.2,912.3 1805.8,913.5 1806.3,912.5 1806.8,912.5 1807.4,912.2 1807.9,911.7 1808.5,913.6 1809.0,912.7 1809.5,913.4 1810.1,914.3 1810.6,914.1 1811.2,916.4 1811.7,915.9 1812.3,915.3 1812.8,914.7 1813.3,914.9 1813.9,914.9 1814.4,915.1 1815.0,914.8 1815.5,916.3 1816.0,915.5 1816.6,915.7 1817.1,915.0 1817.7,917.1 1818.2,915.7 1818.8,916.7 1819.3,915.7 1819.8,917.8 1820.4,916.9 1820.9,916.5 1821.5,916.3 1822.0,918.1 1822.5,917.8 1823.1,916.5 1823.6,920.0 1824.2,918.2 1824.7,920.1 1825.3,918.7 1825.8,919.4 1826.3,919.4 1826.9,920.0 1827.4,919.0 1828.0,920.7 1828.5,919.5 1829.0,920.5 1829.6,920.5 1830.1,919.7 1830.7,919.9 1831.2,918.0 1831.8,919.0 1832.3,918.6 1832.8,920.9 1833.4,919.3 1833.9,920.8 1834.5,919.6 1835.0,920.7 1835.5,920.0 1836.1,919.2 1836.6,920.0 1837.2,921.4 1837.7,921.0 1838.3,920.8 1838.8,921.0 1839.3,921.6 1839.9,920.6 1840.4,920.8 1841.0,921.5 1841.5,921.3 1842.0,920.5 1842.6,920.2 1843.1,920.1 1843.7,920.0 1844.2,920.4 1844.8,921.4 1845.3,920.2 1845.8,920.1 1846.4,920.4 1846.9,919.3 1847.5,920.1 1848.0,920.6 1848.5,920.1 1849.1,921.1 1849.6,920.4 1850.2,920.9 1850.7,922.9 1851.3,921.4 1851.8,921.3 1852.3,921.4 1852.9,921.2 1853.4,920.5 1854.0,920.3 1854.5,920.7 1855.0,921.0 1855.6,925.2 1856.1,920.2 1856.7,921.0 1857.2,921.1 1857.8,920.0 1858.3,919.7 1858.8,920.7 1859.4,917.8 1859.9,917.2 1860.5,918.0 1861.0,916.0 1861.5,918.6 1862.1,917.9 1862.6,916.4 1863.2,916.7 1863.7,918.1 1864.3,916.3 1864.8,916.8 1865.3,917.7 1865.9,919.5 1866.4,918.1 1867.0,918.8 1867.5,917.3 1868.0,920.4 1868.6,917.2 1869.1,917.4 1869.7,918.6 1870.2,917.9 1870.8,920.9 1871.3,919.0 1871.8,919.0 1872.4,918.5 1872.9,919.9 1873.5,921.4 1874.0,921.5 1874.5,919.7 1875.1,921.4 1875.6,921.0 1876.2,920.9 1876.7,922.4 1877.3,920.6 1877.8,922.0 1878.3,923.5 1878.9,923.5 1879.4,922.3 1880.0,924.1 1880.5,924.1 1881.0,922.9 1881.6,923.8 1882.1,925.5 1882.7,925.6 1883.2,924.7 1883.8,925.3 1884.3,925.0 1884.8,925.7 1885.4,925.0 1885.9,928.1 1886.5,927.5 1887.0,926.2 1887.5,927.5 1888.1,928.6 1888.6,930.2 1889.2,929.1 1889.7,929.8 1890.3,931.1 1890.8,928.9 1891.3,929.2 1891.9,930.8 1892.4,931.2 1893.0,932.6 1893.5,932.5 1894.0,933.5 1894.6,933.0 1895.1,932.5 1895.7,931.8 1896.2,933.2 1896.8,933.6 1897.3,936.8 1897.8,934.4 1898.4,934.7 1898.9,935.7 1899.5,934.9 1900.0,934.7 1900.5,935.1 1901.1,935.9 1901.6,936.7 1902.2,936.2 1902.7,937.5 1903.3,937.3 1903.8,937.7 1904.3,937.9 1904.9,937.2 1905.4,937.4 1906.0,938.2 1906.5,939.6 1907.0,939.4 1907.6,940.9 1908.1,940.3 1908.7,938.2 1909.2,938.2 1909.8,938.8 1910.3,939.3 1910.8,939.6 1911.4,941.3 1911.9,941.9 1912.5,939.5 1913.0,941.3 1913.5,941.6 1914.1,941.2 1914.6,942.1 1915.2,941.3 1915.7,942.2 1916.3,943.1 1916.8,942.6 1917.3,943.2 1917.9,944.2 1918.4,943.7 1919.0,942.9 1919.5,944.5 1920.0,944.6 1920.6,944.9 1921.1,943.7 1921.7,945.6 1922.2,944.5 1922.8,944.7 1923.3,944.4 1923.8,946.3 1924.4,946.6 1924.9,944.5 1925.5,945.8 1926.0,946.8 1926.5,948.3 1927.1,947.7 1927.6,946.0 1928.2,948.2 1928.7,949.1 1929.3,947.5 1929.8,950.8 1930.3,948.3 1930.9,947.6 1931.4,946.9 1932.0,949.4 1932.5,948.1 1933.1,949.7 1933.6,948.9 1934.1,950.3 1934.7,949.8 1935.2,948.8 1935.8,948.2 1936.3,948.9 1936.8,949.2 1937.4,949.9 1937.9,949.9 1938.5,950.1 1939.0,949.9 1939.6,950.4 1940.1,951.1 1940.6,950.5 1941.2,951.1 1941.7,948.5 1942.3,951.2 1942.8,951.8 1943.3,950.1 1943.9,950.9 1944.4,951.2 1945.0,951.9 1945.5,951.4 1946.1,949.5 1946.6,952.3 1947.1,951.7 1947.7,952.7 1948.2,951.3 1948.8,951.5 1949.3,953.2 1949.8,951.7 1950.4,952.1 1950.9,952.2 1951.5,952.0 1952.0,952.6 1952.6,953.0 1953.1,954.6 1953.6,952.0 1954.2,952.3 1954.7,952.3 1955.3,954.2 1955.8,954.6 1956.3,953.8 1956.9,954.9 1957.4,954.5 1958.0,955.2 1958.5,953.6 1959.1,954.7 1959.6,954.7 1960.1,953.2 1960.7,956.2 1961.2,954.3 1961.8,956.0 1962.3,952.7 1962.8,956.1 1963.4,956.7 1963.9,955.7 1964.5,956.4 1965.0,955.9 1965.6,956.1 1966.1,955.8 1966.6,956.9 1967.2,956.2 1967.7,956.6 1968.3,955.8 1968.8,954.6 1969.3,956.4 1969.9,956.2 1970.4,955.6 1971.0,957.8 1971.5,955.4 1972.1,957.5 1972.6,957.3 1973.1,956.0 1973.7,958.9 1974.2,956.9 1974.8,956.6 1975.3,956.2 1975.8,956.8 1976.4,956.5 1976.9,957.5 1977.5,956.0 1978.0,956.4 1978.6,958.7 1979.1,957.2 1979.6,957.1 1980.2,957.4 1980.7,957.7 1981.3,957.7 1981.8,957.2 1982.3,958.9 1982.9,957.8 1983.4,957.4 1984.0,959.6 1984.5,958.6 1985.1,957.6 1985.6,957.5 1986.1,959.3 1986.7,958.4 1987.2,958.2 1987.8,959.3 1988.3,959.2 1988.8,957.5 1989.4,958.9 1989.9,957.9 1990.5,957.6 1991.0,957.7 1991.6,958.7 1992.1,958.8 1992.6,960.0 1993.2,959.9 1993.7,960.3 1994.3,959.2 1994.8,959.2 1995.3,960.1 1995.9,959.3 1996.4,959.4 1997.0,959.0 1997.5,959.6 1998.1,958.9 1998.6,959.0 1999.1,960.0 1999.7,960.8 2000.2,959.8 2000.8,959.1 2001.3,959.8 2001.8,960.5 2002.4,961.0 2002.9,962.0 2003.5,960.9 2004.0,960.6 2004.6,959.6 2005.1,960.1 2005.6,960.2 2006.2,961.1 2006.7,961.0 2007.3,962.1 2007.8,961.4 2008.3,961.4 2008.9,960.4 2009.4,962.2 2010.0,962.8 2010.5,962.1 2011.1,963.0 2011.6,961.4 2012.1,962.7 2012.7,960.1 2013.2,960.5 2013.8,962.1 2014.3,962.9 2014.8,961.8 2015.4,962.4 2015.9,963.5 2016.5,961.7 2017.0,961.7 2017.6,963.1 2018.1,961.8 2018.6,962.3 2019.2,961.9 2019.7,962.8 2020.3,962.2 2020.8,961.8 2021.3,960.9 2021.9,961.4 2022.4,961.9 2023.0,962.1 2023.5,962.0 2024.1,962.3 2024.6,961.6 2025.1,960.5 2025.7,960.8 2026.2,962.3 2026.8,961.4 2027.3,964.0 2027.8,964.9 2028.4,963.8 2028.9,964.6 2029.5,963.7 2030.0,964.1 2030.6,964.3 2031.1,963.0 2031.6,963.7 2032.2,961.6 2032.7,962.6 2033.3,962.4 2033.8,962.2 2034.3,963.4 2034.9,962.9 2035.4,963.7 2036.0,964.7 2036.5,965.4 2037.1,963.8 2037.6,964.5 2038.1,963.6 2038.7,961.1 2039.2,964.4 2039.8,962.0 2040.3,962.0 2040.8,962.8 2041.4,962.8 2041.9,964.2 2042.5,963.7 2043.0,963.7 2043.6,964.0 2044.1,964.1 2044.6,962.9 2045.2,962.1 2045.7,962.1 2046.3,962.9 2046.8,963.2 2047.3,963.1 2047.9,963.5 2048.4,963.5 2049.0,964.6 2049.5,963.3 2050.1,962.6 2050.6,961.9 2051.1,964.7 2051.7,963.6 2052.2,963.3 2052.8,965.0 2053.3,962.8 2053.8,962.0 2054.4,962.9 2054.9,964.5 2055.5,964.2 2056.0,964.3 2056.6,965.0 2057.1,964.2 2057.6,963.7 2058.2,964.8 2058.7,964.0 2059.3,964.8 2059.8,965.2 2060.3,964.6 2060.9,965.6 2061.4,966.2 2062.0,964.5 2062.5,965.7 2063.1,965.1 2063.6,964.4 2064.1,966.3 2064.7,963.5 2065.2,964.2 2065.8,963.9 2066.3,965.5 2066.8,965.0 2067.4,963.8 2067.9,964.2 2068.5,963.8 2069.0,965.2 2069.6,964.0 2070.1,966.3 2070.6,966.1 2071.2,965.1 2071.7,964.2 2072.3,965.0 2072.8,966.3 2073.4,966.0 2073.9,965.6 2074.4,966.0 2075.0,965.2 2075.5,966.4 2076.1,966.2 2076.6,966.2 2077.1,967.9 2077.7,966.5 2078.2,967.7 2078.8,966.8 2079.3,967.0 2079.9,965.9 2080.4,967.3 2080.9,968.3 2081.5,967.8 2082.0,966.9 2082.6,967.6 2083.1,968.6 2083.6,967.6 2084.2,967.4 2084.7,966.8 2085.3,968.0 2085.8,967.5 2086.4,967.2 2086.9,968.0 2087.4,967.1 2088.0,967.8 2088.5,969.0 2089.1,968.1 2089.6,969.6 2090.1,970.5 2090.7,969.4 2091.2,968.3 2091.8,969.2 2092.3,968.7 2092.9,968.0 2093.4,968.8 2093.9,967.7 2094.5,968.2 2095.0,967.1 2095.6,968.5 2096.1,967.7 2096.6,968.1 2097.2,968.8 2097.7,967.2 2098.3,968.0 2098.8,966.9 2099.4,966.2 2099.9,966.5 2100.4,968.1 2101.0,968.0 2101.5,968.6 2102.1,968.8 2102.6,968.5 2103.1,968.2 2103.7,967.6 2104.2,967.2 2104.8,967.7 2105.3,968.6 2105.9,967.2 2106.4,969.5 2106.9,969.4 2107.5,967.2 2108.0,968.6 2108.6,968.7 2109.1,969.1 2109.6,968.3 2110.2,967.9 2110.7,966.6 2111.3,968.6 2111.8,966.6 2112.4,967.7 2112.9,967.2 2113.4,969.2 2114.0,967.2 2114.5,968.2 2115.1,967.0 2115.6,965.5 2116.1,966.9 2116.7,966.9 2117.2,967.3 2117.8,967.9 2118.3,967.8 2118.9,967.2 2119.4,967.2 2119.9,967.6 2120.5,967.6 2121.0,969.1 2121.6,968.7 2122.1,967.3 2122.6,966.7 2123.2,967.0 2123.7,966.4 2124.3,967.8 2124.8,968.2 2125.4,967.2 2125.9,966.7 2126.4,966.4 2127.0,966.4 2127.5,966.9 2128.1,966.7 2128.6,967.5 2129.1,966.5 2129.7,968.8 2130.2,968.8 2130.8,967.9 2131.3,967.9 2131.9,967.7 2132.4,969.0 2132.9,968.2 2133.5,970.5 2134.0,968.2 2134.6,968.3 2135.1,967.8 2135.6,968.4 2136.2,965.3 2136.7,966.0 2137.3,967.4 2137.8,967.5 2138.4,968.7 2138.9,969.0 2139.4,969.1 2140.0,968.0 2140.5,968.6 2141.1,968.8 2141.6,968.9 2142.1,968.7 2142.7,969.7 2143.2,968.9 2143.8,968.1 2144.3,969.2 2144.9,967.7 2145.4,968.8 2145.9,970.4 2146.5,968.6 2147.0,969.3 2147.6,968.6 2148.1,969.9 2148.6,968.8 2149.2,970.4 2149.7,969.6 2150.3,969.8 2150.8,969.1 2151.4,969.3 2151.9,969.9 2152.4,969.7 2153.0,969.7 2153.5,969.0 2154.1,970.0 2154.6,970.5 2155.1,970.7 2155.7,969.0 2156.2,968.8 2156.8,970.0 2157.3,967.4 2157.9,969.0 2158.4,969.0 2158.9,969.5 2159.5,969.0 2160.0,969.9 2160.6,969.4 2161.1,969.4 2161.6,969.2 2162.2,970.2 2162.7,969.2 2163.3,969.3 2163.8,969.6 2164.4,968.8 2164.9,969.1 2165.4,969.7 2166.0,967.9 2166.5,970.0 2167.1,969.5 2167.6,971.2 2168.1,970.2 2168.7,970.0 2169.2,969.3 2169.8,968.3 2170.3,969.1 2170.9,970.6 2171.4,971.2 2171.9,968.5 2172.5,969.8 2173.0,969.6 2173.6,968.7 2174.1,969.3 2174.6,970.1 2175.2,970.4 2175.7,970.9 2176.3,969.4 2176.8,968.1 2177.4,968.7 2177.9,969.8 2178.4,969.0 2179.0,971.9 2179.5,971.2 2180.1,971.7 2180.6,969.5 2181.1,970.6 2181.7,972.0 2182.2,972.0 2182.8,971.0 2183.3,971.9 2183.9,970.7 2184.4,968.5 2184.9,971.1 2185.5,970.4 2186.0,969.7 2186.6,969.2 2187.1,969.1 2187.6,971.1 2188.2,969.8 2188.7,969.0 2189.3,969.9 2189.8,970.1 2190.4,969.4 2190.9,970.9 2191.4,969.3 2192.0,970.9 2192.5,969.5 2193.1,970.7 2193.6,970.6 2194.1,970.0 2194.7,970.7 2195.2,970.2 2195.8,971.5 2196.3,971.1 2196.9,970.7 2197.4,969.9 2197.9,970.2 2198.5,969.9 2199.0,971.4 2199.6,970.9 2200.1,971.4 2200.6,971.5 2201.2,970.6 2201.7,971.4 2202.3,970.0 2202.8,969.2 2203.4,970.4 2203.9,969.3 2204.4,970.8 2205.0,968.9 2205.5,968.9 2206.1,970.5 2206.6,969.4 2207.2,967.9 2207.7,969.4 2208.2,969.3 2208.8,970.7 2209.3,971.4 2209.9,971.6 2210.4,971.5 2210.9,970.6 2211.5,970.3 2212.0,971.3 2212.6,971.3 2213.1,970.0 2213.7,971.8 2214.2,969.1 2214.7,969.7 2215.3,969.6 2215.8,968.8 2216.4,970.0 2216.9,970.0 2217.4,970.8 2218.0,971.1 2218.5,968.7 2219.1,970.8 2219.6,971.3 2220.2,970.7 2220.7,970.4 2221.2,970.7 2221.8,971.1 2222.3,970.8 2222.9,968.1 2223.4,969.0 2223.9,969.5 2224.5,969.3 2225.0,970.1 2225.6,970.6 2226.1,970.7 2226.7,969.6 2227.2,969.7 2227.7,969.7 2228.3,968.6 2228.8,968.5 2229.4,968.9 2229.9,967.2 2230.4,966.9 2231.0,969.3 2231.5,969.9 2232.1,970.4 2232.6,969.6 2233.2,970.1 2233.7,966.1 2234.2,969.9 2234.8,970.0 2235.3,967.7 2235.9,967.1 2236.4,968.0 2236.9,967.8 2237.5,966.5 2238.0,968.3 2238.6,968.9 2239.1,969.0 2239.7,969.9 2240.2,967.6 2240.7,968.1 2241.3,966.1 2241.8,968.0 2242.4,969.7 2242.9,968.8 2243.4,970.3 2244.0,968.4 2244.5,968.9 2245.1,968.5 2245.6,969.7 2246.2,967.9 2246.7,968.5 2247.2,968.3 2247.8,969.0 2248.3,969.8 2248.9,968.4 2249.4,968.6 2249.9,969.3 2250.5,969.1 2251.0,969.7 2251.6,968.1 2252.1,968.2 2252.7,967.5 2253.2,968.4 2253.7,967.5 2254.3,967.1 2254.8,968.1 2255.4,968.9 2255.9,967.8 2256.4,968.2 2257.0,967.6 2257.5,968.5 2258.1,969.4 2258.6,969.1 2259.2,968.3 2259.7,966.2 2260.2,966.7 2260.8,967.6 2261.3,967.6 2261.9,966.4 2262.4,965.0 2262.9,968.3 2263.5,967.7 2264.0,967.9 2264.6,968.3 2265.1,969.4 2265.7,966.9 2266.2,968.5 2266.7,968.7 2267.3,967.6 2267.8,966.9 2268.4,968.2 2268.9,966.2 2269.4,968.6 2270.0,968.9 2270.5,970.2 2271.1,971.0 2271.6,970.4 2272.2,969.8 2272.7,968.3 2273.2,968.1 2273.8,968.3 2274.3,968.8 2274.9,968.7 2275.4,968.2 2275.9,969.6 2276.5,967.6 2277.0,968.5 2277.6,968.5 2278.1,968.2 2278.7,969.8 2279.2,969.1 2279.7,968.6 2280.3,969.4 2280.8,969.8 2281.4,970.2 2281.9,970.1 2282.4,969.6 2283.0,969.3 2283.5,970.0 2284.1,970.7 2284.6,968.4 2285.2,967.9 2285.7,967.5 2286.2,968.1 2286.8,968.8 2287.3,967.5 2287.9,968.4 2288.4,968.3 2288.9,969.1 2289.5,969.0 2290.0,970.0 2290.6,968.9 2291.1,969.6 2291.7,968.4 2292.2,968.8 2292.7,969.7 2293.3,968.5 2293.8,969.8 2294.4,968.4 2294.9,969.4 2295.4,969.0 2296.0,970.3 2296.5,969.8 2297.1,970.4 2297.6,969.9 2298.2,970.4 2298.7,969.9 2299.2,970.3 2299.8,970.5 2300.3,968.7 2300.9,969.7 2301.4,970.1 2301.9,969.2 2302.5,968.4 2303.0,967.9 2303.6,968.6 2304.1,969.4 2304.7,968.4 2305.2,968.8 2305.7,970.7 2306.3,969.3 2306.8,968.5 2307.4,968.6 2307.9,968.2 2308.4,968.6 2309.0,968.6 2309.5,968.5 2310.1,968.5 2310.6,968.2 2311.2,968.7"/>
<polyline fill="none" stroke="#ff0000" stroke-width="10.8" points="168,978.8 181,978.8"/>
<polyline id="green" fill="none" stroke="#00ff66" stroke-width="10.8" stroke-linejoin="round" stroke-linecap="butt" points="170.9,573.0 171.4,568.7 172.0,564.9 172.5,561.6 173.1,559.2 173.6,557.7 174.2,556.3 174.7,555.2 175.2,554.3 175.8,553.6 176.3,553.2 176.9,553.0 177.4,552.7 177.9,552.6 178.5,552.4 179.0,552.3 179.6,552.3 180.1,552.3 180.7,552.3 181.2,551.8 181.7,550.9 182.3,552.5 182.8,551.7 183.4,553.4 183.9,551.3 184.4,551.0 185.0,550.4 185.5,552.3 186.1,551.8 186.6,553.0 187.2,554.1 187.7,551.5 188.2,553.5 188.8,551.9 189.3,553.3 189.9,552.4 190.4,552.7 190.9,553.0 191.5,552.5 192.0,552.5 192.6,551.0 193.1,551.9 193.7,550.7 194.2,550.5 194.7,551.7 195.3,551.9 195.8,551.5 196.4,551.9 196.9,551.7 197.4,551.8 198.0,552.0 198.5,552.1 199.1,550.5 199.6,551.1 200.2,552.2 200.7,550.5 201.2,549.5 201.8,552.1 202.3,551.6 202.9,551.6 203.4,551.3 203.9,549.7 204.5,550.4 205.0,549.6 205.6,549.0 206.1,550.1 206.7,551.1 207.2,550.9 207.7,551.1 208.3,549.8 208.8,552.0 209.4,549.4 209.9,551.8 210.4,552.7 211.0,551.2 211.5,551.4 212.1,550.6 212.6,551.1 213.2,550.2 213.7,551.5 214.2,551.7 214.8,551.2 215.3,551.1 215.9,551.1 216.4,549.2 216.9,550.4 217.5,551.0 218.0,551.2 218.6,551.5 219.1,551.8 219.7,550.2 220.2,551.8 220.7,550.8 221.3,550.4 221.8,550.5 222.4,551.0 222.9,551.8 223.4,549.5 224.0,549.8 224.5,548.2 225.1,549.2 225.6,548.2 226.2,549.3 226.7,550.0 227.2,549.5 227.8,548.2 228.3,549.7 228.9,548.9 229.4,549.9 229.9,549.7 230.5,549.7 231.0,551.1 231.6,551.2 232.1,552.3 232.7,551.0 233.2,549.4 233.7,549.6 234.3,550.0 234.8,549.6 235.4,549.4 235.9,548.9 236.4,551.0 237.0,550.4 237.5,550.5 238.1,550.6 238.6,550.8 239.2,548.5 239.7,548.8 240.2,548.6 240.8,549.5 241.3,549.9 241.9,548.7 242.4,550.5 242.9,551.2 243.5,549.1 244.0,549.9 244.6,550.5 245.1,549.6 245.7,548.4 246.2,550.2 246.7,549.0 247.3,549.2 247.8,548.8 248.4,550.1 248.9,548.4 249.4,547.4 250.0,549.0 250.5,550.2 251.1,549.5 251.6,549.3 252.2,549.3 252.7,549.7 253.2,550.1 253.8,548.2 254.3,550.4 254.9,549.9 255.4,550.0 255.9,549.2 256.5,548.9 257.0,549.2 257.6,549.1 258.1,549.0 258.7,548.7 259.2,547.4 259.7,547.0 260.3,548.5 260.8,547.9 261.4,547.4 261.9,549.2 262.4,549.0 263.0,549.0 263.5,550.7 264.1,549.3 264.6,549.1 265.2,549.2 265.7,548.4 266.2,548.3 266.8,549.3 267.3,549.4 267.9,550.4 268.4,548.0 268.9,549.1 269.5,548.7 270.0,548.8 270.6,547.0 271.1,547.0 271.7,548.3 272.2,547.4 272.7,548.4 273.3,547.9 273.8,546.6 274.4,545.2 274.9,546.2 275.4,548.0 276.0,548.9 276.5,546.6 277.1,547.4 277.6,546.6 278.2,548.1 278.7,546.9 279.2,548.1 279.8,548.2 280.3,547.2 280.9,547.9 281.4,548.2 281.9,547.2 282.5,548.8 283.0,547.8 283.6,545.9 284.1,545.5 284.7,546.5 285.2,546.3 285.7,546.3 286.3,545.9 286.8,544.9 287.4,544.9 287.9,545.3 288.4,544.1 289.0,547.0 289.5,545.9 290.1,544.8 290.6,547.6 291.2,545.8 291.7,547.4 292.2,547.9 292.8,546.8 293.3,547.2 293.9,547.5 294.4,546.5 294.9,547.0 295.5,548.1 296.0,547.6 296.6,548.3 297.1,549.2 297.7,547.3 298.2,546.2 298.7,545.3 299.3,546.3 299.8,546.7 300.4,545.7 300.9,546.2 301.4,547.5 302.0,547.6 302.5,546.4 303.1,547.1 303.6,547.3 304.2,546.8 304.7,546.9 305.2,547.7 305.8,548.1 306.3,546.2 306.9,546.5 307.4,546.7 308.0,547.0 308.5,546.1 309.0,546.9 309.6,545.7 310.1,547.0 310.7,547.5 311.2,547.6 311.7,548.2 312.3,546.4 312.8,546.5 313.4,546.5 313.9,545.5 314.5,545.8 315.0,545.0 315.5,546.3 316.1,543.9 316.6,545.4 317.2,545.6 317.7,546.9 318.2,545.3 318.8,547.3 319.3,545.3 319.9,546.9 320.4,545.6 321.0,545.5 321.5,546.2 322.0,545.6 322.6,543.8 323.1,544.4 323.7,546.0 324.2,545.0 324.7,546.4 325.3,546.9 325.8,546.1 326.4,545.3 326.9,545.3 327.5,544.5 328.0,545.2 328.5,545.8 329.1,546.1 329.6,547.1 330.2,546.9 330.7,546.4 331.2,546.7 331.8,546.2 332.3,545.7 332.9,545.3 333.4,547.0 334.0,547.0 334.5,544.9 335.0,545.2 335.6,544.4 336.1,547.3 336.7,546.9 337.2,545.6 337.7,547.0 338.3,546.3 338.8,544.1 339.4,544.2 339.9,544.3 340.5,544.0 341.0,544.8 341.5,545.2 342.1,545.2 342.6,546.7 343.2,545.5 343.7,545.5 344.2,545.7 344.8,546.0 345.3,547.6 345.9,547.5 346.4,544.8 347.0,546.0 347.5,546.4 348.0,546.5 348.6,545.2 349.1,545.6 349.7,545.0 350.2,545.5 350.7,545.3 351.3,544.0 351.8,543.3 352.4,542.9 352.9,542.2 353.5,541.6 354.0,544.0 354.5,543.9 355.1,543.1 355.6,542.3 356.2,543.4 356.7,543.4 357.2,543.2 357.8,543.3 358.3,544.3 358.9,543.8 359.4,544.0 360.0,543.2 360.5,543.2 361.0,543.1 361.6,543.5 362.1,544.7 362.7,544.6 363.2,544.4 363.7,544.8 364.3,544.4 364.8,544.3 365.4,545.1 365.9,544.6 366.5,543.0 367.0,545.0 367.5,545.0 368.1,545.0 368.6,543.5 369.2,543.7 369.7,541.6 370.2,543.3 370.8,543.2 371.3,543.6 371.9,543.5 372.4,543.6 373.0,543.8 373.5,543.3 374.0,544.0 374.6,542.5 375.1,544.1 375.7,542.9 376.2,544.6 376.7,542.1 377.3,544.8 377.8,541.7 378.4,542.0 378.9,543.5 379.5,543.9 380.0,543.8 380.5,544.6 381.1,544.3 381.6,544.6 382.2,544.6 382.7,544.5 383.2,544.4 383.8,543.6 384.3,544.7 384.9,543.2 385.4,544.2 386.0,544.9 386.5,542.8 387.0,543.6 387.6,544.1 388.1,542.5 388.7,543.8 389.2,544.0 389.7,544.0 390.3,543.2 390.8,544.0 391.4,543.6 391.9,544.6 392.5,544.8 393.0,543.6 393.5,545.0 394.1,544.0 394.6,544.1 395.2,543.8 395.7,543.9 396.2,544.1 396.8,542.8 397.3,541.7 397.9,544.0 398.4,543.4 399.0,544.1 399.5,543.3 400.0,544.3 400.6,544.8 401.1,543.4 401.7,543.8 402.2,542.6 402.7,543.6 403.3,542.4 403.8,543.9 404.4,544.5 404.9,544.1 405.5,544.2 406.0,545.1 406.5,542.4 407.1,543.1 407.6,543.6 408.2,543.1 408.7,544.9 409.2,543.1 409.8,544.7 410.3,544.2 410.9,544.3 411.4,542.8 412.0,543.0 412.5,543.4 413.0,543.5 413.6,543.6 414.1,543.4 414.7,543.2 415.2,545.0 415.7,543.0 416.3,542.5 416.8,542.1 417.4,542.8 417.9,541.9 418.5,542.1 419.0,543.5 419.5,542.7 420.1,543.5 420.6,542.4 421.2,544.6 421.7,543.2 422.2,544.0 422.8,544.6 423.3,544.5 423.9,542.8 424.4,542.7 425.0,540.6 425.5,543.3 426.0,541.4 426.6,544.5 427.1,541.5 427.7,541.8 428.2,542.0 428.7,542.1 429.3,543.0 429.8,541.9 430.4,542.0 430.9,541.5 431.5,543.2 432.0,542.1 432.5,543.5 433.1,543.7 433.6,541.9 434.2,542.6 434.7,542.9 435.2,543.0 435.8,541.7 436.3,542.6 436.9,540.9 437.4,542.4 438.0,543.1 438.5,542.2 439.0,541.6 439.6,543.7 440.1,542.8 440.7,542.2 441.2,542.3 441.7,541.6 442.3,541.3 442.8,541.1 443.4,541.9 443.9,541.7 444.5,541.2 445.0,541.3 445.5,543.8 446.1,542.3 446.6,541.5 447.2,540.5 447.7,541.7 448.3,542.6 448.8,541.6 449.3,541.5 449.9,542.0 450.4,542.0 451.0,540.9 451.5,541.9 452.0,541.0 452.6,542.5 453.1,541.3 453.7,544.1 454.2,541.5 454.8,542.9 455.3,541.6 455.8,540.9 456.4,541.4 456.9,540.8 457.5,539.6 458.0,542.1 458.5,542.2 459.1,540.3 459.6,542.0 460.2,541.4 460.7,542.4 461.3,541.5 461.8,541.6 462.3,541.1 462.9,541.8 463.4,541.9 464.0,541.8 464.5,540.8 465.0,540.4 465.6,541.1 466.1,541.6 466.7,542.5 467.2,542.0 467.8,540.7 468.3,541.5 468.8,541.7 469.4,542.1 469.9,542.2 470.5,541.5 471.0,540.0 471.5,541.7 472.1,541.4 472.6,541.7 473.2,540.9 473.7,539.9 474.3,541.3 474.8,542.0 475.3,541.2 475.9,540.8 476.4,540.5 477.0,540.1 477.5,541.5 478.0,542.1 478.6,541.8 479.1,540.6 479.7,541.1 480.2,539.1 480.8,539.3 481.3,538.1 481.8,540.9 482.4,540.6 482.9,540.2 483.5,540.9 484.0,540.8 484.5,539.5 485.1,540.4 485.6,539.3 486.2,539.3 486.7,540.6 487.3,540.3 487.8,540.7 488.3,541.7 488.9,541.3 489.4,541.6 490.0,541.3 490.5,540.1 491.0,540.0 491.6,541.4 492.1,540.4 492.7,541.0 493.2,541.3 493.8,543.1 494.3,541.2 494.8,541.7 495.4,539.4 495.9,539.6 496.5,539.5 497.0,538.8 497.5,539.1 498.1,540.7 498.6,540.7 499.2,542.2 499.7,539.8 500.3,540.8 500.8,541.2 501.3,541.5 501.9,541.3 502.4,541.7 503.0,542.6 503.5,540.5 504.0,539.4 504.6,540.5 505.1,540.6 505.7,540.9 506.2,539.5 506.8,540.3 507.3,540.5 507.8,539.4 508.4,540.6 508.9,539.6 509.5,540.3 510.0,539.8 510.5,538.7 511.1,540.1 511.6,539.1 512.2,537.8 512.7,540.1 513.3,538.7 513.8,542.3 514.3,539.5 514.9,538.6 515.4,539.0 516.0,539.1 516.5,538.0 517.0,538.5 517.6,540.6 518.1,538.7 518.7,539.0 519.2,539.8 519.8,538.9 520.3,541.3 520.8,538.4 521.4,538.3 521.9,537.5 522.5,538.1 523.0,537.5 523.5,537.6 524.1,540.4 524.6,537.4 525.2,538.7 525.7,537.8 526.3,538.2 526.8,539.1 527.3,540.0 527.9,537.6 528.4,541.0 529.0,539.4 529.5,538.5 530.0,539.4 530.6,539.5 531.1,538.8 531.7,537.9 532.2,538.4 532.8,539.6 533.3,538.4 533.8,537.5 534.4,537.8 534.9,538.7 535.5,538.2 536.0,539.3 536.5,539.6 537.1,539.0 537.6,539.1 538.2,536.8 538.7,536.9 539.3,537.2 539.8,537.7 540.3,537.5 540.9,537.8 541.4,537.7 542.0,538.6 542.5,538.0 543.0,539.1 543.6,538.0 544.1,536.4 544.7,538.0 545.2,537.5 545.8,537.5 546.3,538.7 546.8,537.5 547.4,538.6 547.9,538.0 548.5,537.0 549.0,536.3 549.5,537.1 550.1,536.8 550.6,539.3 551.2,539.5 551.7,537.4 552.3,538.1 552.8,538.0 553.3,537.7 553.9,539.2 554.4,536.2 555.0,538.1 555.5,538.4 556.0,536.8 556.6,538.8 557.1,538.6 557.7,537.4 558.2,538.1 558.8,538.3 559.3,538.6 559.8,537.7 560.4,538.4 560.9,537.0 561.5,536.9 562.0,536.2 562.5,537.3 563.1,536.2 563.6,536.8 564.2,538.8 564.7,538.4 565.3,537.0 565.8,537.2 566.3,537.9 566.9,537.2 567.4,537.2 568.0,537.3 568.5,535.9 569.0,537.1 569.6,537.0 570.1,538.7 570.7,537.9 571.2,537.2 571.8,536.8 572.3,538.9 572.8,537.8 573.4,537.4 573.9,537.6 574.5,537.4 575.0,537.9 575.5,538.6 576.1,537.7 576.6,537.4 577.2,536.7 577.7,536.3 578.3,534.3 578.8,533.8 579.3,535.9 579.9,535.5 580.4,537.0 581.0,536.2 581.5,535.6 582.1,536.3 582.6,535.8 583.1,535.1 583.7,536.5 584.2,534.8 584.8,534.5 585.3,535.9 585.8,536.4 586.4,536.0 586.9,534.8 587.5,535.8 588.0,535.0 588.6,536.7 589.1,534.7 589.6,532.8 590.2,534.0 590.7,535.7 591.3,535.1 591.8,533.3 592.3,534.6 592.9,532.9 593.4,533.2 594.0,534.1 594.5,533.2 595.1,534.6 595.6,534.8 596.1,534.7 596.7,532.5 597.2,534.7 597.8,535.0 598.3,535.8 598.8,535.7 599.4,534.1 599.9,534.0 600.5,537.7 601.0,534.4 601.6,535.1 602.1,532.8 602.6,533.5 603.2,534.1 603.7,533.6 604.3,533.5 604.8,535.8 605.3,535.2 605.9,534.2 606.4,534.5 607.0,534.9 607.5,534.6 608.1,536.1 608.6,533.4 609.1,535.3 609.7,534.7 610.2,535.1 610.8,534.1 611.3,534.8 611.8,536.0 612.4,534.5 612.9,535.6 613.5,535.6 614.0,533.5 614.6,533.6 615.1,533.4 615.6,532.1 616.2,533.5 616.7,533.2 617.3,534.1 617.8,532.4 618.3,535.6 618.9,534.4 619.4,532.5 620.0,533.2 620.5,533.1 621.1,532.7 621.6,534.4 622.1,532.5 622.7,534.0 623.2,533.3 623.8,534.0 624.3,532.7 624.8,532.8 625.4,531.4 625.9,532.4 626.5,532.0 627.0,533.5 627.6,533.7 628.1,532.8 628.6,532.8 629.2,532.5 629.7,533.7 630.3,533.0 630.8,533.3 631.3,534.0 631.9,533.1 632.4,533.6 633.0,532.4 633.5,534.3 634.1,532.4 634.6,532.9 635.1,532.8 635.7,533.1 636.2,532.5 636.8,531.9 637.3,533.9 637.8,534.0 638.4,533.6 638.9,533.0 639.5,532.5 640.0,533.9 640.6,532.6 641.1,531.9 641.6,531.8 642.2,532.5 642.7,532.4 643.3,529.7 643.8,530.2 644.3,532.4 644.9,532.3 645.4,531.5 646.0,531.2 646.5,532.4 647.1,530.6 647.6,532.4 648.1,531.0 648.7,532.0 649.2,532.8 649.8,533.0 650.3,532.5 650.8,533.2 651.4,533.0 651.9,533.1 652.5,532.2 653.0,533.2 653.6,532.6 654.1,533.6 654.6,533.4 655.2,532.1 655.7,534.0 656.3,531.3 656.8,531.5 657.3,532.4 657.9,531.7 658.4,531.6 659.0,530.5 659.5,532.2 660.1,530.7 660.6,530.1 661.1,529.5 661.7,531.2 662.2,531.7 662.8,531.1 663.3,530.8 663.8,530.6 664.4,532.1 664.9,530.8 665.5,530.4 666.0,530.6 666.6,531.0 667.1,532.2 667.6,531.2 668.2,530.3 668.7,530.0 669.3,529.8 669.8,530.5 670.3,530.1 670.9,528.0 671.4,527.9 672.0,528.7 672.5,528.7 673.1,527.9 673.6,528.5 674.1,529.1 674.7,529.4 675.2,528.6 675.8,529.2 676.3,529.0 676.8,528.9 677.4,528.7 677.9,527.7 678.5,528.2 679.0,527.5 679.6,526.7 680.1,527.9 680.6,528.6 681.2,528.0 681.7,528.1 682.3,528.2 682.8,531.2 683.3,527.6 683.9,526.4 684.4,528.1 685.0,527.4 685.5,527.9 686.1,529.4 686.6,528.1 687.1,528.4 687.7,525.5 688.2,527.6 688.8,526.3 689.3,527.1 689.8,527.1 690.4,526.8 690.9,528.2 691.5,526.6 692.0,527.4 692.6,529.0 693.1,526.6 693.6,528.1 694.2,527.8 694.7,527.1 695.3,529.9 695.8,528.0 696.3,526.9 696.9,526.8 697.4,526.8 698.0,526.3 698.5,525.6 699.1,524.6 699.6,525.6 700.1,524.7 700.7,526.0 701.2,524.8 701.8,526.5 702.3,526.7 702.8,526.3 703.4,526.2 703.9,525.6 704.5,525.0 705.0,525.0 705.6,526.6 706.1,526.0 706.6,525.2 707.2,526.2 707.7,525.7 708.3,525.9 708.8,524.4 709.3,526.3 709.9,525.6 710.4,525.2 711.0,525.8 711.5,524.8 712.1,526.0 712.6,524.2 713.1,524.7 713.7,523.7 714.2,525.7 714.8,525.8 715.3,524.8 715.9,523.5 716.4,523.8 716.9,524.1 717.5,525.2 718.0,524.8 718.6,525.1 719.1,524.3 719.6,525.4 720.2,523.5 720.7,524.8 721.3,526.1 721.8,524.8 722.4,524.7 722.9,523.5 723.4,522.7 724.0,523.3 724.5,524.1 725.1,523.4 725.6,521.7 726.1,521.7 726.7,522.7 727.2,523.8 727.8,522.3 728.3,523.9 728.9,521.5 729.4,521.6 729.9,523.1 730.5,522.0 731.0,520.8 731.6,520.9 732.1,521.2 732.6,521.7 733.2,521.4 733.7,521.4 734.3,520.8 734.8,520.6 735.4,519.9 735.9,521.2 736.4,519.7 737.0,518.3 737.5,521.7 738.1,520.2 738.6,519.0 739.1,520.2 739.7,521.1 740.2,518.9 740.8,520.2 741.3,519.9 741.9,518.9 742.4,519.3 742.9,518.1 743.5,518.6 744.0,518.3 744.6,517.6 745.1,518.2 745.6,515.5 746.2,516.2 746.7,514.5 747.3,517.2 747.8,515.8 748.4,516.5 748.9,516.9 749.4,515.5 750.0,515.0 750.5,515.6 751.1,515.7 751.6,514.5 752.1,512.8 752.7,513.0 753.2,513.0 753.8,512.9 754.3,513.7 754.9,512.6 755.4,514.4 755.9,513.1 756.5,512.4 757.0,512.3 757.6,511.9 758.1,511.3 758.6,511.5 759.2,512.1 759.7,509.7 760.3,509.8 760.8,508.8 761.4,508.0 761.9,509.0 762.4,508.0 763.0,506.4 763.5,508.9 764.1,510.5 764.6,509.0 765.1,506.7 765.7,507.6 766.2,507.7 766.8,506.4 767.3,506.5 767.9,507.3 768.4,505.6 768.9,505.8 769.5,504.5 770.0,504.1 770.6,505.6 771.1,504.2 771.6,503.6 772.2,504.1 772.7,503.5 773.3,503.9 773.8,503.2 774.4,504.2 774.9,503.7 775.4,501.2 776.0,504.3 776.5,502.8 777.1,501.7 777.6,501.3 778.1,500.8 778.7,501.8 779.2,501.6 779.8,501.9 780.3,501.3 780.9,501.0 781.4,500.9 781.9,499.9 782.5,499.7 783.0,499.7 783.6,500.1 784.1,498.6 784.6,498.5 785.2,499.1 785.7,498.6 786.3,498.4 786.8,498.9 787.4,499.4 787.9,499.2 788.4,498.1 789.0,497.8 789.5,499.4 790.1,498.0 790.6,497.8 791.1,497.4 791.7,497.6 792.2,496.8 792.8,497.7 793.3,497.0 793.9,497.4 794.4,496.9 794.9,496.9 795.5,496.8 796.0,494.4 796.6,494.3 797.1,494.2 797.6,493.9 798.2,494.0 798.7,492.8 799.3,494.8 799.8,493.5 800.4,493.4 800.9,492.6 801.4,494.6 802.0,494.2 802.5,493.5 803.1,493.6 803.6,492.7 804.1,493.6 804.7,493.2 805.2,492.6 805.8,493.1 806.3,492.4 806.9,493.7 807.4,493.4 807.9,491.3 808.5,490.6 809.0,491.2 809.6,490.9 810.1,489.8 810.6,489.6 811.2,488.4 811.7,490.6 812.3,489.3 812.8,489.4 813.4,489.0 813.9,488.1 814.4,487.4 815.0,488.1 815.5,486.8 816.1,486.1 816.6,487.3 817.1,486.2 817.7,484.0 818.2,484.4 818.8,484.7 819.3,483.9 819.9,484.6 820.4,483.5 820.9,483.9 821.5,482.1 822.0,482.6 822.6,481.2 823.1,479.1 823.6,479.6 824.2,478.8 824.7,479.3 825.3,479.2 825.8,478.3 826.4,476.8 826.9,476.5 827.4,474.5 828.0,475.3 828.5,475.7 829.1,473.3 829.6,473.1 830.1,471.1 830.7,472.1 831.2,470.3 831.8,470.6 832.3,468.4 832.9,468.4 833.4,468.1 833.9,467.4 834.5,467.4 835.0,466.1 835.6,464.7 836.1,464.7 836.6,462.7 837.2,463.0 837.7,461.9 838.3,461.9 838.8,461.1 839.4,460.7 839.9,461.0 840.4,460.0 841.0,459.4 841.5,457.9 842.1,457.1 842.6,453.7 843.1,453.8 843.7,455.4 844.2,454.0 844.8,453.3 845.3,451.9 845.9,450.9 846.4,449.8 846.9,448.6 847.5,449.9 848.0,448.3 848.6,447.7 849.1,447.0 849.7,445.6 850.2,445.1 850.7,443.3 851.3,444.3 851.8,442.8 852.4,441.5 852.9,441.5 853.4,440.2 854.0,440.0 854.5,439.3 855.1,439.8 855.6,437.0 856.2,435.6 856.7,433.0 857.2,434.8 857.8,432.5 858.3,432.3 858.9,429.7 859.4,431.4 859.9,429.6 860.5,429.8 861.0,429.9 861.6,429.2 862.1,427.8 862.7,429.1 863.2,427.1 863.7,427.4 864.3,427.7 864.8,427.3 865.4,427.1 865.9,428.5 866.4,428.8 867.0,427.7 867.5,426.6 868.1,426.6 868.6,427.9 869.2,427.2 869.7,428.6 870.2,427.1 870.8,427.9 871.3,427.3 871.9,426.6 872.4,425.9 872.9,425.3 873.5,425.8 874.0,426.1 874.6,425.2 875.1,425.2 875.7,425.2 876.2,425.2 876.7,427.2 877.3,425.9 877.8,426.2 878.4,426.7 878.9,427.5 879.4,427.4 880.0,427.7 880.5,427.6 881.1,428.9 881.6,429.3 882.2,431.4 882.7,430.3 883.2,430.0 883.8,432.0 884.3,433.0 884.9,432.3 885.4,433.3 885.9,433.2 886.5,434.3 887.0,433.7 887.6,435.6 888.1,435.9 888.7,434.9 889.2,436.7 889.7,439.0 890.3,438.7 890.8,440.0 891.4,439.8 891.9,441.3 892.4,441.5 893.0,442.4 893.5,442.7 894.1,442.7 894.6,441.9 895.2,443.5 895.7,444.9 896.2,445.3 896.8,444.4 897.3,447.0 897.9,449.7 898.4,449.0 898.9,449.7 899.5,448.2 900.0,450.5 900.6,452.0 901.1,452.0 901.7,452.9 902.2,453.6 902.7,455.3 903.3,456.1 903.8,457.6 904.4,457.4 904.9,457.9 905.4,456.6 906.0,458.3 906.5,458.8 907.1,459.6 907.6,459.7 908.2,460.4 908.7,461.6 909.2,461.7 909.8,462.7 910.3,464.3 910.9,462.6 911.4,464.3 911.9,464.5 912.5,466.6 913.0,465.6 913.6,465.9 914.1,466.2 914.7,466.3 915.2,467.5 915.7,467.7 916.3,469.0 916.8,468.1 917.4,469.1 917.9,470.9 918.4,470.6 919.0,471.4 919.5,471.1 920.1,472.7 920.6,474.0 921.2,473.1 921.7,473.3 922.2,473.9 922.8,475.6 923.3,473.9 923.9,477.1 924.4,476.1 924.9,476.7 925.5,476.9 926.0,477.7 926.6,478.8 927.1,478.1 927.7,478.4 928.2,477.9 928.7,478.0 929.3,478.2 929.8,478.9 930.4,479.0 930.9,478.7 931.4,479.1 932.0,479.7 932.5,479.3 933.1,478.9 933.6,480.5 934.2,478.8 934.7,479.9 935.2,479.5 935.8,482.0 936.3,480.3 936.9,482.5 937.4,482.8 937.9,482.5 938.5,481.6 939.0,480.9 939.6,482.0 940.1,480.9 940.7,480.9 941.2,480.6 941.7,481.1 942.3,480.8 942.8,481.5 943.4,481.0 943.9,480.5 944.4,481.2 945.0,481.5 945.5,480.4 946.1,480.4 946.6,480.0 947.2,478.4 947.7,479.7 948.2,478.9 948.8,478.1 949.3,478.9 949.9,476.4 950.4,477.3 950.9,477.9 951.5,477.9 952.0,478.8 952.6,477.9 953.1,476.7 953.7,476.9 954.2,476.9 954.7,476.1 955.3,477.6 955.8,475.6 956.4,477.2 956.9,477.1 957.4,476.8 958.0,477.1 958.5,476.0 959.1,476.8 959.6,477.0 960.2,476.7 960.7,477.6 961.2,475.0 961.8,475.7 962.3,475.5 962.9,476.8 963.4,476.0 963.9,476.1 964.5,476.4 965.0,477.4 965.6,476.1 966.1,474.3 966.7,474.5 967.2,474.7 967.7,474.5 968.3,472.6 968.8,474.6 969.4,472.4 969.9,473.0 970.4,474.2 971.0,473.8 971.5,473.7 972.1,473.2 972.6,473.0 973.2,472.2 973.7,471.8 974.2,471.9 974.8,471.7 975.3,470.5 975.9,470.7 976.4,470.6 976.9,469.5 977.5,468.7 978.0,467.8 978.6,469.1 979.1,469.8 979.7,468.6 980.2,469.9 980.7,468.9 981.3,469.4 981.8,468.3 982.4,467.9 982.9,466.4 983.4,466.6 984.0,464.7 984.5,465.4 985.1,463.4 985.6,463.9 986.2,463.6 986.7,462.0 987.2,462.3 987.8,460.9 988.3,461.2 988.9,460.6 989.4,459.3 990.0,462.4 990.5,458.6 991.0,456.0 991.6,455.9 992.1,456.7 992.7,456.9 993.2,455.6 993.7,454.8 994.3,453.8 994.8,450.9 995.4,452.1 995.9,449.7 996.5,448.1 997.0,446.2 997.5,445.4 998.1,444.5 998.6,442.3 999.2,442.5 999.7,439.4 1000.2,439.4 1000.8,438.9 1001.3,436.5 1001.9,434.7 1002.4,433.3 1003.0,433.0 1003.5,431.2 1004.0,430.5 1004.6,427.7 1005.1,426.5 1005.7,425.0 1006.2,423.9 1006.7,423.7 1007.3,422.9 1007.8,421.3 1008.4,421.2 1008.9,420.2 1009.5,418.6 1010.0,416.1 1010.5,417.3 1011.1,418.6 1011.6,418.3 1012.2,417.8 1012.7,418.4 1013.2,420.2 1013.8,420.4 1014.3,421.8 1014.9,422.7 1015.4,422.9 1016.0,422.3 1016.5,425.0 1017.0,425.9 1017.6,426.5 1018.1,428.4 1018.7,430.1 1019.2,431.9 1019.7,435.0 1020.3,437.2 1020.8,440.3 1021.4,441.3 1021.9,444.0 1022.5,444.7 1023.0,447.5 1023.5,449.8 1024.1,450.9 1024.6,454.2 1025.2,455.9 1025.7,457.3 1026.2,458.7 1026.8,460.6 1027.3,462.1 1027.9,464.5 1028.4,467.9 1029.0,468.7 1029.5,471.5 1030.0,473.7 1030.6,475.7 1031.1,478.0 1031.7,478.9 1032.2,481.4 1032.7,482.4 1033.3,482.4 1033.8,483.6 1034.4,484.5 1034.9,483.5 1035.5,485.6 1036.0,488.0 1036.5,490.4 1037.1,491.6 1037.6,490.7 1038.2,494.2 1038.7,492.6 1039.2,494.3 1039.8,497.3 1040.3,494.7 1040.9,494.9 1041.4,497.0 1042.0,495.9 1042.5,496.2 1043.0,499.0 1043.6,500.7 1044.1,499.7 1044.7,498.9 1045.2,501.8 1045.7,501.7 1046.3,500.8 1046.8,499.9 1047.4,502.0 1047.9,502.3 1048.5,505.0 1049.0,506.7 1049.5,505.9 1050.1,505.7 1050.6,505.5 1051.2,503.4 1051.7,507.2 1052.2,505.3 1052.8,507.5 1053.3,507.1 1053.9,507.8 1054.4,509.5 1055.0,510.9 1055.5,510.8 1056.0,510.7 1056.6,511.6 1057.1,511.2 1057.7,512.3 1058.2,510.8 1058.7,511.5 1059.3,512.0 1059.8,512.0 1060.4,512.6 1060.9,513.2 1061.5,512.6 1062.0,513.5 1062.5,512.8 1063.1,512.4 1063.6,512.6 1064.2,512.4 1064.7,512.5 1065.2,514.7 1065.8,514.1 1066.3,514.5 1066.9,514.6 1067.4,512.9 1068.0,513.0 1068.5,512.7 1069.0,512.6 1069.6,512.7 1070.1,514.1 1070.7,514.4 1071.2,512.6 1071.7,513.4 1072.3,513.1 1072.8,514.6 1073.4,514.5 1073.9,514.6 1074.5,513.9 1075.0,514.4 1075.5,514.0 1076.1,514.4 1076.6,515.3 1077.2,514.3 1077.7,514.2 1078.2,514.8 1078.8,514.8 1079.3,513.8 1079.9,515.3 1080.4,513.3 1081.0,514.6 1081.5,513.8 1082.0,514.9 1082.6,514.4 1083.1,514.3 1083.7,514.4 1084.2,513.4 1084.7,514.4 1085.3,515.4 1085.8,513.8 1086.4,514.5 1086.9,516.2 1087.5,515.2 1088.0,515.5 1088.5,514.7 1089.1,514.5 1089.6,515.2 1090.2,513.8 1090.7,515.9 1091.2,515.4 1091.8,514.6 1092.3,516.7 1092.9,515.0 1093.4,513.7 1094.0,514.4 1094.5,514.7 1095.0,515.0 1095.6,515.9 1096.1,515.0 1096.7,515.5 1097.2,514.9 1097.7,515.4 1098.3,515.6 1098.8,516.5 1099.4,514.6 1099.9,514.4 1100.5,514.1 1101.0,514.2 1101.5,513.8 1102.1,515.2 1102.6,515.0 1103.2,515.9 1103.7,515.8 1104.2,514.7 1104.8,515.6 1105.3,516.4 1105.9,516.5 1106.4,514.5 1107.0,514.2 1107.5,516.7 1108.0,516.5 1108.6,515.1 1109.1,516.0 1109.7,516.5 1110.2,516.1 1110.7,516.0 1111.3,516.7 1111.8,514.2 1112.4,514.3 1112.9,514.5 1113.5,515.4 1114.0,515.2 1114.5,516.9 1115.1,515.7 1115.6,516.9 1116.2,514.6 1116.7,516.2 1117.2,515.4 1117.8,513.0 1118.3,515.5 1118.9,516.0 1119.4,515.1 1120.0,516.5 1120.5,515.8 1121.0,516.8 1121.6,515.8 1122.1,516.1 1122.7,515.8 1123.2,514.7 1123.8,514.8 1124.3,516.0 1124.8,516.7 1125.4,516.0 1125.9,515.7 1126.5,516.4 1127.0,513.8 1127.5,515.2 1128.1,513.9 1128.6,515.3 1129.2,515.6 1129.7,515.3 1130.3,513.4 1130.8,514.6 1131.3,518.6 1131.9,513.5 1132.4,514.9 1133.0,513.5 1133.5,514.7 1134.0,514.9 1134.6,515.0 1135.1,515.2 1135.7,516.9 1136.2,515.1 1136.8,517.4 1137.3,516.1 1137.8,516.8 1138.4,516.7 1138.9,515.2 1139.5,516.5 1140.0,515.9 1140.5,516.2 1141.1,515.2 1141.6,515.8 1142.2,515.1 1142.7,517.1 1143.3,515.9 1143.8,516.3 1144.3,515.8 1144.9,517.1 1145.4,517.9 1146.0,517.4 1146.5,515.0 1147.0,516.9 1147.6,517.2 1148.1,516.7 1148.7,515.4 1149.2,516.5 1149.8,516.6 1150.3,516.6 1150.8,515.3 1151.4,516.7 1151.9,516.6 1152.5,516.0 1153.0,515.4 1153.5,515.9 1154.1,516.2 1154.6,516.7 1155.2,517.2 1155.7,517.1 1156.3,518.6 1156.8,519.3 1157.3,518.4 1157.9,519.2 1158.4,517.3 1159.0,515.9 1159.5,518.3 1160.0,515.8 1160.6,517.3 1161.1,516.8 1161.7,517.7 1162.2,518.2 1162.8,516.4 1163.3,518.4 1163.8,516.5 1164.4,515.7 1164.9,517.4 1165.5,515.5 1166.0,514.9 1166.5,519.1 1167.1,514.7 1167.6,514.5 1168.2,515.1 1168.7,518.9 1169.3,517.7 1169.8,517.8 1170.3,515.6 1170.9,515.9 1171.4,513.7 1172.0,516.8 1172.5,517.9 1173.0,516.6 1173.6,516.9 1174.1,517.0 1174.7,517.3 1175.2,516.9 1175.8,516.1 1176.3,517.3 1176.8,514.8 1177.4,517.4 1177.9,515.0 1178.5,515.0 1179.0,516.8 1179.5,514.8 1180.1,515.4 1180.6,515.4 1181.2,515.1 1181.7,514.9 1182.3,515.6 1182.8,515.8 1183.3,518.3 1183.9,517.8 1184.4,516.7 1185.0,516.4 1185.5,515.9 1186.0,517.6 1186.6,516.4 1187.1,515.7 1187.7,518.5 1188.2,518.7 1188.8,518.3 1189.3,517.3 1189.8,517.5 1190.4,515.3 1190.9,517.6 1191.5,517.1 1192.0,515.7 1192.5,515.8 1193.1,513.8 1193.6,516.1 1194.2,515.8 1194.7,515.3 1195.3,515.5 1195.8,515.3 1196.3,515.1 1196.9,515.9 1197.4,515.0 1198.0,516.4 1198.5,515.9 1199.0,515.4 1199.6,515.5 1200.1,514.3 1200.7,514.3 1201.2,516.0 1201.8,515.2 1202.3,515.1 1202.8,514.8 1203.4,516.2 1203.9,514.9 1204.5,517.8 1205.0,515.7 1205.5,515.6 1206.1,518.4 1206.6,514.5 1207.2,516.2 1207.7,516.2 1208.3,514.7 1208.8,514.8 1209.3,515.8 1209.9,517.3 1210.4,516.6 1211.0,517.2 1211.5,517.4 1212.0,517.5 1212.6,516.6 1213.1,517.5 1213.7,517.4 1214.2,516.3 1214.8,516.5 1215.3,515.9 1215.8,516.5 1216.4,515.4 1216.9,515.2 1217.5,516.9 1218.0,516.6 1218.5,515.8 1219.1,516.4 1219.6,516.8 1220.2,516.9 1220.7,517.7 1221.3,516.8 1221.8,517.6 1222.3,518.9 1222.9,516.7 1223.4,517.0 1224.0,517.7 1224.5,514.5 1225.0,515.9 1225.6,515.7 1226.1,515.8 1226.7,517.0 1227.2,515.6 1227.8,516.4 1228.3,516.5 1228.8,516.9 1229.4,515.9 1229.9,515.8 1230.5,516.5 1231.0,517.2 1231.5,517.1 1232.1,516.5 1232.6,516.0 1233.2,516.9 1233.7,516.7 1234.3,515.7 1234.8,515.6 1235.3,516.0 1235.9,514.8 1236.4,515.1 1237.0,515.5 1237.5,516.6 1238.0,517.0 1238.6,516.9 1239.1,516.3 1239.7,515.2 1240.2,517.0 1240.8,516.1 1241.3,518.5 1241.8,517.1 1242.4,516.2 1242.9,515.9 1243.5,516.8 1244.0,514.6 1244.5,516.3 1245.1,515.3 1245.6,516.6 1246.2,516.7 1246.7,516.2 1247.3,515.7 1247.8,515.4 1248.3,516.1 1248.9,516.1 1249.4,516.4 1250.0,516.8 1250.5,514.0 1251.0,517.4 1251.6,517.4 1252.1,515.6 1252.7,516.8 1253.2,516.1 1253.8,516.1 1254.3,516.0 1254.8,516.5 1255.4,517.3 1255.9,516.7 1256.5,516.6 1257.0,517.0 1257.6,516.9 1258.1,517.5 1258.6,517.2 1259.2,516.8 1259.7,516.8 1260.3,517.9 1260.8,516.4 1261.3,517.9 1261.9,516.6 1262.4,515.9 1263.0,516.6 1263.5,516.5 1264.1,515.8 1264.6,514.5 1265.1,515.6 1265.7,515.6 1266.2,516.2 1266.8,518.5 1267.3,517.8 1267.8,516.3 1268.4,514.8 1268.9,516.0 1269.5,515.9 1270.0,516.5 1270.6,516.9 1271.1,517.2 1271.6,519.7 1272.2,517.3 1272.7,517.1 1273.3,516.9 1273.8,515.7 1274.3,517.8 1274.9,518.4 1275.4,518.3 1276.0,518.1 1276.5,518.2 1277.1,518.6 1277.6,517.0 1278.1,517.6 1278.7,516.9 1279.2,518.5 1279.8,517.2 1280.3,516.3 1280.8,516.0 1281.4,514.1 1281.9,515.9 1282.5,517.2 1283.0,516.0 1283.6,517.6 1284.1,516.1 1284.6,517.9 1285.2,517.3 1285.7,517.4 1286.3,516.0 1286.8,516.8 1287.3,516.3 1287.9,517.1 1288.4,517.2 1289.0,515.0 1289.5,517.5 1290.1,515.6 1290.6,517.8 1291.1,517.5 1291.7,517.0 1292.2,516.9 1292.8,517.3 1293.3,516.5 1293.8,514.9 1294.4,517.0 1294.9,516.4 1295.5,516.0 1296.0,517.7 1296.6,518.3 1297.1,516.7 1297.6,516.9 1298.2,517.1 1298.7,517.9 1299.3,517.3 1299.8,517.2 1300.3,516.8 1300.9,518.8 1301.4,518.7 1302.0,517.2 1302.5,514.6 1303.1,516.6 1303.6,517.7 1304.1,517.3 1304.7,516.7 1305.2,517.7 1305.8,516.8 1306.3,518.0 1306.8,516.8 1307.4,517.7 1307.9,516.3 1308.5,516.3 1309.0,516.7 1309.6,515.8 1310.1,517.7 1310.6,517.5 1311.2,517.6 1311.7,518.9 1312.3,516.4 1312.8,517.2 1313.3,517.5 1313.9,517.5 1314.4,519.6 1315.0,517.9 1315.5,516.7 1316.1,517.1 1316.6,518.0 1317.1,518.1 1317.7,517.0 1318.2,517.0 1318.8,517.6 1319.3,517.4 1319.8,518.4 1320.4,518.6 1320.9,518.6 1321.5,519.1 1322.0,518.4 1322.6,519.6 1323.1,520.1 1323.6,520.8 1324.2,518.6 1324.7,517.3 1325.3,519.0 1325.8,517.8 1326.3,518.5 1326.9,518.8 1327.4,518.8 1328.0,520.1 1328.5,517.3 1329.1,519.1 1329.6,517.9 1330.1,517.0 1330.7,516.6 1331.2,518.3 1331.8,519.6 1332.3,517.0 1332.8,518.8 1333.4,517.2 1333.9,516.5 1334.5,517.9 1335.0,518.4 1335.6,517.8 1336.1,518.6 1336.6,517.4 1337.2,517.7 1337.7,517.5 1338.3,518.4 1338.8,517.2 1339.3,517.2 1339.9,518.3 1340.4,518.9 1341.0,518.3 1341.5,517.9 1342.1,518.6 1342.6,518.6 1343.1,519.4 1343.7,519.7 1344.2,518.7 1344.8,517.8 1345.3,518.5 1345.8,518.1 1346.4,517.3 1346.9,518.1 1347.5,518.6 1348.0,517.7 1348.6,518.4 1349.1,518.4 1349.6,518.1 1350.2,518.4 1350.7,520.0 1351.3,518.4 1351.8,517.5 1352.3,518.9 1352.9,519.2 1353.4,519.5 1354.0,520.9 1354.5,518.8 1355.1,519.8 1355.6,518.1 1356.1,519.7 1356.7,519.3 1357.2,519.1 1357.8,518.9 1358.3,517.3 1358.8,518.8 1359.4,518.5 1359.9,519.0 1360.5,517.6 1361.0,519.3 1361.6,517.6 1362.1,518.6 1362.6,519.1 1363.2,518.8 1363.7,519.6 1364.3,520.2 1364.8,519.9 1365.3,517.2 1365.9,517.5 1366.4,519.7 1367.0,518.5 1367.5,519.0 1368.1,518.8 1368.6,517.5 1369.1,517.2 1369.7,516.8 1370.2,516.8 1370.8,517.2 1371.3,518.3 1371.8,519.8 1372.4,518.9 1372.9,518.2 1373.5,518.8 1374.0,519.6 1374.6,520.1 1375.1,519.2 1375.6,518.8 1376.2,519.7 1376.7,518.4 1377.3,519.4 1377.8,518.9 1378.3,519.5 1378.9,517.7 1379.4,519.3 1380.0,516.8 1380.5,518.7 1381.1,518.7 1381.6,518.3 1382.1,519.7 1382.7,519.3 1383.2,519.8 1383.8,518.0 1384.3,519.3 1384.8,520.0 1385.4,520.7 1385.9,519.0 1386.5,519.7 1387.0,520.4 1387.6,520.1 1388.1,519.1 1388.6,515.9 1389.2,519.0 1389.7,519.6 1390.3,519.0 1390.8,517.4 1391.4,518.4 1391.9,518.2 1392.4,520.3 1393.0,516.1 1393.5,518.1 1394.1,519.4 1394.6,518.8 1395.1,519.6 1395.7,519.4 1396.2,517.5 1396.8,518.7 1397.3,520.1 1397.9,521.2 1398.4,518.2 1398.9,517.3 1399.5,518.3 1400.0,517.6 1400.6,518.5 1401.1,521.0 1401.6,518.9 1402.2,519.5 1402.7,517.6 1403.3,517.9 1403.8,519.2 1404.4,519.4 1404.9,520.1 1405.4,519.0 1406.0,519.8 1406.5,520.1 1407.1,519.7 1407.6,518.7 1408.1,518.0 1408.7,517.9 1409.2,519.3 1409.8,517.3 1410.3,518.9 1410.9,519.7 1411.4,518.6 1411.9,518.0 1412.5,519.0 1413.0,519.0 1413.6,519.2 1414.1,518.4 1414.6,518.3 1415.2,517.3 1415.7,517.5 1416.3,517.6 1416.8,516.7 1417.4,516.6 1417.9,518.1 1418.4,518.0 1419.0,519.1 1419.5,518.6 1420.1,518.4 1420.6,517.4 1421.1,517.6 1421.7,517.8 1422.2,518.2 1422.8,517.5 1423.3,517.4 1423.9,518.0 1424.4,517.6 1424.9,517.2 1425.5,517.3 1426.0,517.3 1426.6,518.3 1427.1,516.5 1427.6,517.9 1428.2,518.3 1428.7,517.4 1429.3,518.0 1429.8,517.9 1430.4,517.6 1430.9,518.4 1431.4,518.1 1432.0,517.6 1432.5,518.4 1433.1,518.2 1433.6,516.1 1434.1,517.4 1434.7,516.8 1435.2,517.4 1435.8,516.2 1436.3,515.8 1436.9,515.4 1437.4,517.4 1437.9,516.6 1438.5,518.2 1439.0,517.2 1439.6,516.4 1440.1,516.7 1440.6,516.4 1441.2,518.1 1441.7,518.7 1442.3,518.0 1442.8,517.6 1443.4,518.2 1443.9,517.4 1444.4,518.4 1445.0,518.2 1445.5,517.2 1446.1,517.1 1446.6,517.3 1447.1,516.0 1447.7,516.5 1448.2,516.3 1448.8,516.8 1449.3,515.8 1449.9,515.8 1450.4,515.9 1450.9,516.1 1451.5,515.8 1452.0,517.0 1452.6,515.8 1453.1,516.8 1453.6,515.5 1454.2,516.5 1454.7,516.0 1455.3,515.1 1455.8,516.2 1456.4,515.8 1456.9,516.0 1457.4,515.1 1458.0,515.4 1458.5,515.7 1459.1,516.4 1459.6,516.4 1460.1,516.3 1460.7,515.6 1461.2,515.8 1461.8,515.1 1462.3,516.8 1462.9,515.0 1463.4,513.5 1463.9,516.1 1464.5,513.9 1465.0,514.6 1465.6,514.5 1466.1,515.5 1466.6,515.0 1467.2,514.4 1467.7,515.2 1468.3,514.6 1468.8,515.3 1469.4,513.7 1469.9,512.3 1470.4,513.9 1471.0,515.4 1471.5,514.6 1472.1,514.3 1472.6,513.8 1473.1,514.7 1473.7,514.0 1474.2,514.7 1474.8,516.4 1475.3,513.9 1475.9,513.7 1476.4,514.5 1476.9,514.7 1477.5,516.0 1478.0,514.4 1478.6,514.3 1479.1,514.0 1479.6,514.7 1480.2,514.4 1480.7,514.0 1481.3,515.1 1481.8,513.3 1482.4,514.7 1482.9,514.0 1483.4,514.8 1484.0,515.3 1484.5,515.2 1485.1,515.0 1485.6,515.2 1486.1,514.9 1486.7,514.2 1487.2,513.5 1487.8,513.0 1488.3,515.6 1488.9,513.8 1489.4,514.9 1489.9,513.5 1490.5,514.6 1491.0,513.5 1491.6,513.1 1492.1,514.1 1492.6,513.4 1493.2,515.1 1493.7,515.2 1494.3,513.5 1494.8,514.0 1495.4,513.0 1495.9,514.4 1496.4,513.9 1497.0,514.0 1497.5,513.2 1498.1,513.4 1498.6,515.9 1499.1,514.8 1499.7,513.7 1500.2,513.7 1500.8,514.0 1501.3,514.1 1501.9,515.3 1502.4,515.3 1502.9,515.3 1503.5,514.0 1504.0,514.9 1504.6,512.0 1505.1,512.2 1505.6,514.7 1506.2,513.4 1506.7,512.7 1507.3,515.3 1507.8,514.8 1508.4,514.7 1508.9,515.4 1509.4,513.3 1510.0,514.2 1510.5,514.2 1511.1,512.6 1511.6,513.5 1512.1,514.5 1512.7,512.1 1513.2,513.1 1513.8,514.2 1514.3,515.3 1514.9,513.7 1515.4,514.5 1515.9,514.1 1516.5,513.3 1517.0,515.1 1517.6,514.6 1518.1,513.4 1518.6,514.6 1519.2,515.8 1519.7,514.4 1520.3,513.6 1520.8,512.6 1521.4,513.0 1521.9,515.0 1522.4,514.3 1523.0,513.7 1523.5,512.8 1524.1,513.4 1524.6,512.8 1525.1,513.6 1525.7,513.1 1526.2,513.7 1526.8,512.6 1527.3,513.2 1527.9,513.8 1528.4,513.4 1528.9,512.8 1529.5,513.3 1530.0,512.5 1530.6,513.6 1531.1,513.5 1531.7,513.6 1532.2,513.8 1532.7,513.0 1533.3,513.2 1533.8,513.5 1534.4,514.1 1534.9,514.5 1535.4,511.9 1536.0,512.2 1536.5,512.7 1537.1,511.3 1537.6,512.4 1538.2,511.6 1538.7,511.5 1539.2,512.9 1539.8,512.3 1540.3,513.7 1540.9,512.6 1541.4,514.5 1541.9,513.4 1542.5,511.9 1543.0,510.8 1543.6,513.7 1544.1,512.0 1544.7,512.2 1545.2,510.9 1545.7,511.6 1546.3,511.9 1546.8,511.6 1547.4,512.6 1547.9,511.7 1548.4,511.8 1549.0,509.5 1549.5,510.2 1550.1,510.3 1550.6,511.5 1551.2,511.4 1551.7,510.0 1552.2,510.7 1552.8,512.4 1553.3,511.1 1553.9,511.1 1554.4,510.8 1554.9,510.7 1555.5,511.4 1556.0,509.5 1556.6,512.7 1557.1,510.4 1557.7,511.1 1558.2,511.5 1558.7,511.8 1559.3,510.4 1559.8,509.7 1560.4,510.8 1560.9,511.3 1561.4,512.3 1562.0,510.3 1562.5,510.4 1563.1,510.3 1563.6,510.6 1564.2,509.5 1564.7,510.2 1565.2,510.5 1565.8,509.7 1566.3,510.8 1566.9,510.5 1567.4,510.3 1567.9,511.3 1568.5,510.6 1569.0,509.1 1569.6,509.0 1570.1,508.9 1570.7,509.6 1571.2,509.9 1571.7,511.1 1572.3,510.9 1572.8,511.4 1573.4,510.0 1573.9,511.1 1574.4,509.6 1575.0,510.8 1575.5,511.3 1576.1,511.5 1576.6,511.3 1577.2,510.8 1577.7,510.0 1578.2,510.5 1578.8,510.2 1579.3,508.2 1579.9,509.3 1580.4,508.9 1580.9,510.3 1581.5,510.3 1582.0,509.6 1582.6,510.6 1583.1,510.6 1583.7,510.5 1584.2,509.7 1584.7,510.0 1585.3,510.1 1585.8,509.0 1586.4,508.7 1586.9,509.9 1587.4,509.6 1588.0,510.3 1588.5,510.8 1589.1,511.2 1589.6,509.9 1590.2,510.4 1590.7,510.1 1591.2,510.2 1591.8,510.6 1592.3,508.4 1592.9,507.6 1593.4,509.1 1593.9,508.0 1594.5,508.0 1595.0,509.2 1595.6,508.4 1596.1,507.6 1596.7,507.5 1597.2,508.3 1597.7,508.5 1598.3,509.2 1598.8,509.1 1599.4,508.0 1599.9,508.3 1600.4,508.2 1601.0,509.4 1601.5,510.3 1602.1,508.6 1602.6,509.1 1603.2,510.4 1603.7,509.2 1604.2,508.0 1604.8,509.2 1605.3,507.5 1605.9,507.7 1606.4,510.8 1606.9,508.8 1607.5,509.2 1608.0,507.2 1608.6,509.5 1609.1,509.1 1609.7,509.5 1610.2,508.7 1610.7,508.8 1611.3,508.9 1611.8,508.8 1612.4,509.2 1612.9,508.6 1613.4,509.3 1614.0,509.5 1614.5,509.9 1615.1,509.0 1615.6,507.9 1616.2,509.5 1616.7,508.7 1617.2,508.7 1617.8,509.0 1618.3,509.2 1618.9,507.6 1619.4,508.1 1619.9,507.9 1620.5,509.7 1621.0,507.4 1621.6,509.3 1622.1,507.9 1622.7,509.8 1623.2,508.7 1623.7,508.4 1624.3,508.7 1624.8,508.0 1625.4,508.2 1625.9,509.1 1626.4,510.2 1627.0,509.7 1627.5,509.0 1628.1,508.1 1628.6,508.2 1629.2,508.0 1629.7,508.8 1630.2,509.0 1630.8,507.0 1631.3,509.5 1631.9,510.4 1632.4,509.7 1632.9,508.2 1633.5,508.8 1634.0,509.2 1634.6,509.2 1635.1,509.6 1635.7,509.1 1636.2,508.6 1636.7,507.8 1637.3,508.2 1637.8,508.2 1638.4,507.7 1638.9,508.1 1639.4,508.4 1640.0,508.5 1640.5,508.2 1641.1,509.5 1641.6,511.4 1642.2,509.5 1642.7,508.2 1643.2,509.9 1643.8,510.0 1644.3,510.1 1644.9,509.2 1645.4,510.5 1645.9,510.3 1646.5,510.8 1647.0,509.3 1647.6,509.4 1648.1,508.7 1648.7,510.2 1649.2,510.4 1649.7,509.8 1650.3,509.2 1650.8,508.8 1651.4,509.6 1651.9,511.5 1652.4,509.7 1653.0,510.5 1653.5,509.4 1654.1,512.2 1654.6,510.0 1655.2,508.9 1655.7,509.5 1656.2,510.2 1656.8,509.0 1657.3,508.4 1657.9,511.4 1658.4,509.2 1658.9,508.8 1659.5,510.1 1660.0,509.4 1660.6,509.7 1661.1,508.5 1661.7,508.9 1662.2,508.3 1662.7,508.6 1663.3,509.1 1663.8,509.0 1664.4,508.9 1664.9,510.6 1665.5,508.0 1666.0,507.5 1666.5,510.8 1667.1,509.8 1667.6,509.2 1668.2,508.3 1668.7,509.8 1669.2,510.8 1669.8,509.6 1670.3,510.3 1670.9,508.8 1671.4,510.0 1672.0,510.5 1672.5,509.8 1673.0,511.1 1673.6,508.7 1674.1,507.8 1674.7,509.4 1675.2,511.1 1675.7,511.2 1676.3,510.5 1676.8,508.6 1677.4,511.5 1677.9,510.1 1678.5,510.5 1679.0,509.5 1679.5,508.5 1680.1,508.3 1680.6,510.3 1681.2,511.2 1681.7,510.3 1682.2,511.3 1682.8,507.2 1683.3,509.0 1683.9,509.9 1684.4,508.8 1685.0,509.8 1685.5,509.3 1686.0,510.3 1686.6,510.1 1687.1,507.4 1687.7,510.9 1688.2,508.9 1688.7,511.1 1689.3,510.1 1689.8,509.3 1690.4,510.4 1690.9,510.7 1691.5,509.7 1692.0,510.9 1692.5,510.5 1693.1,511.5 1693.6,510.8 1694.2,509.1 1694.7,510.0 1695.2,509.7 1695.8,509.6 1696.3,508.7 1696.9,508.7 1697.4,508.3 1698.0,509.7 1698.5,509.2 1699.0,509.9 1699.6,509.2 1700.1,510.5 1700.7,509.3 1701.2,511.2 1701.7,510.8 1702.3,507.1 1702.8,508.1 1703.4,508.7 1703.9,508.7 1704.5,508.5 1705.0,508.7 1705.5,508.6 1706.1,508.5 1706.6,509.5 1707.2,510.0 1707.7,507.5 1708.2,510.1 1708.8,510.0 1709.3,508.0 1709.9,509.7 1710.4,510.8 1711.0,508.4 1711.5,510.4 1712.0,509.5 1712.6,508.2 1713.1,508.6 1713.7,509.3 1714.2,508.9 1714.7,509.3 1715.3,508.5 1715.8,508.8 1716.4,509.1 1716.9,509.6 1717.5,509.9 1718.0,509.4 1718.5,509.6 1719.1,508.6 1719.6,510.0 1720.2,510.0 1720.7,510.5 1721.2,510.3 1721.8,510.3 1722.3,510.7 1722.9,511.3 1723.4,510.2 1724.0,510.7 1724.5,510.6 1725.0,511.1 1725.6,509.8 1726.1,509.9 1726.7,509.0 1727.2,510.1 1727.7,511.8 1728.3,512.2 1728.8,512.1 1729.4,513.0 1729.9,511.9 1730.5,511.9 1731.0,509.9 1731.5,510.9 1732.1,511.7 1732.6,510.7 1733.2,511.1 1733.7,512.6 1734.2,511.2 1734.8,512.3 1735.3,512.4 1735.9,512.9 1736.4,513.7 1737.0,512.3 1737.5,511.5 1738.0,513.7 1738.6,512.9 1739.1,513.4 1739.7,513.6 1740.2,512.8 1740.7,514.6 1741.3,512.7 1741.8,512.2 1742.4,512.8 1742.9,512.4 1743.5,512.3 1744.0,513.2 1744.5,513.0 1745.1,513.9 1745.6,514.7 1746.2,514.3 1746.7,514.0 1747.2,513.2 1747.8,513.4 1748.3,514.0 1748.9,513.1 1749.4,513.9 1750.0,513.9 1750.5,513.9 1751.0,513.2 1751.6,514.4 1752.1,514.2 1752.7,515.1 1753.2,514.7 1753.7,514.7 1754.3,514.9 1754.8,515.3 1755.4,516.7 1755.9,513.5 1756.5,513.8 1757.0,510.6 1757.5,513.6 1758.1,514.4 1758.6,514.7 1759.2,516.5 1759.7,515.7 1760.2,516.2 1760.8,517.8 1761.3,515.7 1761.9,516.3 1762.4,515.6 1763.0,515.2 1763.5,514.2 1764.0,516.9 1764.6,517.1 1765.1,516.9 1765.7,514.7 1766.2,515.5 1766.7,515.8 1767.3,516.6 1767.8,516.6 1768.4,515.2 1768.9,515.3 1769.5,516.6 1770.0,516.0 1770.5,516.1 1771.1,515.8 1771.6,514.5 1772.2,515.3 1772.7,515.2 1773.2,514.1 1773.8,515.3 1774.3,516.2 1774.9,516.4 1775.4,517.1 1776.0,516.2 1776.5,518.6 1777.0,516.8 1777.6,517.6 1778.1,516.9 1778.7,518.0 1779.2,516.8 1779.7,516.7 1780.3,518.6 1780.8,517.8 1781.4,518.0 1781.9,519.1 1782.5,518.2 1783.0,520.0 1783.5,517.4 1784.1,519.1 1784.6,517.1 1785.2,517.3 1785.7,516.0 1786.2,517.4 1786.8,517.2 1787.3,518.7 1787.9,517.9 1788.4,518.4 1789.0,518.5 1789.5,519.6 1790.0,521.2 1790.6,520.4 1791.1,519.2 1791.7,520.1 1792.2,520.0 1792.7,519.9 1793.3,520.0 1793.8,519.4 1794.4,519.5 1794.9,519.9 1795.5,519.3 1796.0,520.9 1796.5,519.9 1797.1,518.5 1797.6,519.4 1798.2,519.5 1798.7,520.7 1799.3,520.5 1799.8,521.4 1800.3,521.2 1800.9,520.6 1801.4,521.2 1802.0,521.3 1802.5,521.6 1803.0,521.0 1803.6,521.0 1804.1,523.4 1804.7,522.1 1805.2,523.3 1805.8,521.1 1806.3,522.2 1806.8,521.9 1807.4,522.8 1807.9,521.8 1808.5,523.1 1809.0,522.3 1809.5,521.8 1810.1,519.3 1810.6,523.1 1811.2,523.2 1811.7,522.7 1812.3,522.0 1812.8,522.8 1813.3,523.0 1813.9,522.2 1814.4,524.2 1815.0,522.8 1815.5,523.0 1816.0,524.1 1816.6,524.4 1817.1,522.6 1817.7,521.9 1818.2,522.9 1818.8,524.4 1819.3,523.4 1819.8,523.9 1820.4,524.0 1820.9,524.6 1821.5,522.9 1822.0,523.5 1822.5,523.9 1823.1,523.6 1823.6,526.2 1824.2,525.1 1824.7,525.0 1825.3,522.2 1825.8,523.5 1826.3,524.9 1826.9,523.7 1827.4,523.0 1828.0,522.8 1828.5,524.1 1829.0,523.4 1829.6,523.8 1830.1,522.3 1830.7,525.0 1831.2,522.8 1831.8,523.9 1832.3,522.8 1832.8,524.1 1833.4,524.1 1833.9,522.9 1834.5,522.6 1835.0,524.5 1835.5,524.8 1836.1,523.5 1836.6,524.4 1837.2,524.0 1837.7,524.6 1838.3,524.4 1838.8,524.6 1839.3,525.2 1839.9,525.3 1840.4,524.8 1841.0,524.7 1841.5,524.3 1842.0,524.9 1842.6,526.2 1843.1,526.1 1843.7,526.4 1844.2,526.6 1844.8,524.8 1845.3,525.5 1845.8,526.7 1846.4,525.4 1846.9,526.2 1847.5,524.2 1848.0,525.5 1848.5,525.2 1849.1,525.6 1849.6,525.1 1850.2,525.3 1850.7,524.6 1851.3,524.3 1851.8,524.3 1852.3,525.0 1852.9,525.4 1853.4,526.6 1854.0,526.6 1854.5,524.5 1855.0,525.2 1855.6,525.4 1856.1,526.0 1856.7,527.1 1857.2,525.2 1857.8,526.9 1858.3,527.2 1858.8,526.4 1859.4,526.5 1859.9,526.4 1860.5,527.0 1861.0,526.1 1861.5,525.1 1862.1,526.2 1862.6,525.1 1863.2,526.0 1863.7,525.0 1864.3,526.4 1864.8,526.4 1865.3,525.8 1865.9,525.1 1866.4,525.7 1867.0,524.3 1867.5,524.8 1868.0,526.2 1868.6,527.2 1869.1,526.8 1869.7,526.0 1870.2,524.8 1870.8,526.4 1871.3,526.0 1871.8,526.3 1872.4,528.7 1872.9,526.8 1873.5,526.4 1874.0,525.8 1874.5,525.4 1875.1,526.5 1875.6,526.4 1876.2,525.8 1876.7,526.1 1877.3,526.8 1877.8,526.3 1878.3,525.4 1878.9,526.7 1879.4,526.1 1880.0,524.9 1880.5,527.2 1881.0,527.6 1881.6,526.7 1882.1,527.0 1882.7,526.9 1883.2,526.3 1883.8,526.1 1884.3,527.1 1884.8,527.6 1885.4,526.6 1885.9,527.6 1886.5,528.1 1887.0,527.4 1887.5,525.5 1888.1,527.9 1888.6,528.0 1889.2,526.8 1889.7,527.0 1890.3,526.8 1890.8,525.3 1891.3,528.2 1891.9,529.1 1892.4,528.6 1893.0,529.8 1893.5,527.7 1894.0,527.0 1894.6,527.9 1895.1,529.6 1895.7,530.4 1896.2,529.6 1896.8,528.6 1897.3,529.0 1897.8,529.0 1898.4,530.0 1898.9,528.7 1899.5,529.0 1900.0,531.0 1900.5,531.4 1901.1,531.0 1901.6,529.5 1902.2,529.9 1902.7,529.2 1903.3,529.8 1903.8,529.7 1904.3,530.3 1904.9,532.3 1905.4,530.4 1906.0,528.4 1906.5,530.1 1907.0,530.2 1907.6,530.2 1908.1,532.2 1908.7,531.1 1909.2,531.5 1909.8,530.5 1910.3,531.2 1910.8,530.8 1911.4,531.4 1911.9,532.4 1912.5,533.2 1913.0,531.3 1913.5,531.3 1914.1,533.1 1914.6,530.6 1915.2,532.5 1915.7,532.2 1916.3,531.7 1916.8,531.4 1917.3,532.7 1917.9,535.6 1918.4,533.4 1919.0,534.1 1919.5,532.2 1920.0,533.2 1920.6,532.6 1921.1,533.7 1921.7,532.2 1922.2,533.7 1922.8,531.9 1923.3,533.0 1923.8,533.4 1924.4,533.6 1924.9,533.7 1925.5,533.3 1926.0,533.3 1926.5,532.1 1927.1,533.8 1927.6,532.5 1928.2,533.7 1928.7,534.1 1929.3,534.0 1929.8,533.1 1930.3,533.8 1930.9,535.4 1931.4,535.1 1932.0,535.3 1932.5,534.9 1933.1,535.5 1933.6,535.2 1934.1,532.8 1934.7,533.9 1935.2,534.2 1935.8,534.8 1936.3,535.7 1936.8,535.9 1937.4,535.6 1937.9,535.1 1938.5,535.2 1939.0,536.7 1939.6,535.3 1940.1,535.7 1940.6,535.7 1941.2,536.1 1941.7,535.6 1942.3,534.7 1942.8,536.4 1943.3,536.0 1943.9,534.4 1944.4,534.3 1945.0,534.5 1945.5,534.8 1946.1,537.4 1946.6,534.6 1947.1,536.4 1947.7,536.5 1948.2,536.3 1948.8,535.5 1949.3,537.1 1949.8,537.6 1950.4,536.5 1950.9,537.3 1951.5,537.3 1952.0,537.9 1952.6,535.9 1953.1,538.4 1953.6,536.4 1954.2,535.6 1954.7,536.2 1955.3,535.8 1955.8,537.2 1956.3,536.0 1956.9,535.4 1957.4,536.7 1958.0,536.9 1958.5,535.7 1959.1,535.8 1959.6,535.7 1960.1,535.7 1960.7,536.0 1961.2,536.7 1961.8,534.5 1962.3,536.2 1962.8,535.7 1963.4,536.2 1963.9,537.3 1964.5,536.1 1965.0,536.7 1965.6,537.2 1966.1,537.5 1966.6,537.2 1967.2,538.3 1967.7,536.0 1968.3,536.0 1968.8,538.6 1969.3,537.9 1969.9,537.2 1970.4,536.9 1971.0,536.5 1971.5,537.3 1972.1,537.8 1972.6,537.8 1973.1,536.8 1973.7,539.1 1974.2,537.6 1974.8,538.0 1975.3,534.6 1975.8,537.6 1976.4,537.4 1976.9,538.1 1977.5,537.2 1978.0,538.6 1978.6,538.2 1979.1,537.7 1979.6,537.6 1980.2,538.2 1980.7,538.6 1981.3,537.3 1981.8,537.1 1982.3,538.9 1982.9,538.5 1983.4,538.7 1984.0,537.4 1984.5,538.1 1985.1,539.1 1985.6,539.7 1986.1,536.8 1986.7,539.7 1987.2,538.5 1987.8,539.0 1988.3,537.1 1988.8,538.3 1989.4,539.6 1989.9,540.6 1990.5,539.0 1991.0,539.8 1991.6,540.2 1992.1,539.6 1992.6,539.8 1993.2,540.5 1993.7,540.0 1994.3,541.0 1994.8,540.2 1995.3,540.3 1995.9,541.3 1996.4,541.0 1997.0,540.3 1997.5,539.7 1998.1,539.6 1998.6,541.6 1999.1,540.7 1999.7,539.5 2000.2,538.9 2000.8,539.1 2001.3,538.6 2001.8,540.4 2002.4,540.9 2002.9,540.4 2003.5,539.2 2004.0,539.1 2004.6,540.9 2005.1,539.4 2005.6,539.8 2006.2,537.7 2006.7,540.9 2007.3,540.0 2007.8,537.3 2008.3,540.4 2008.9,539.6 2009.4,539.2 2010.0,539.7 2010.5,538.5 2011.1,540.2 2011.6,538.1 2012.1,538.0 2012.7,538.9 2013.2,539.9 2013.8,540.9 2014.3,540.7 2014.8,539.7 2015.4,539.9 2015.9,541.8 2016.5,540.0 2017.0,540.6 2017.6,540.4 2018.1,542.0 2018.6,540.1 2019.2,540.1 2019.7,539.3 2020.3,539.8 2020.8,540.3 2021.3,540.4 2021.9,541.2 2022.4,541.4 2023.0,541.0 2023.5,541.0 2024.1,541.8 2024.6,541.8 2025.1,541.0 2025.7,539.6 2026.2,540.6 2026.8,540.6 2027.3,541.2 2027.8,541.1 2028.4,540.2 2028.9,542.4 2029.5,542.5 2030.0,541.2 2030.6,542.0 2031.1,541.8 2031.6,540.9 2032.2,540.2 2032.7,541.9 2033.3,542.1 2033.8,542.6 2034.3,543.0 2034.9,541.9 2035.4,543.8 2036.0,542.9 2036.5,542.2 2037.1,542.3 2037.6,540.9 2038.1,540.5 2038.7,540.5 2039.2,540.9 2039.8,541.2 2040.3,541.1 2040.8,541.3 2041.4,541.1 2041.9,541.6 2042.5,543.7 2043.0,543.1 2043.6,541.5 2044.1,542.9 2044.6,541.6 2045.2,542.4 2045.7,540.8 2046.3,541.8 2046.8,542.2 2047.3,541.4 2047.9,542.5 2048.4,542.9 2049.0,542.1 2049.5,543.5 2050.1,545.4 2050.6,543.9 2051.1,543.0 2051.7,542.6 2052.2,542.4 2052.8,542.8 2053.3,543.1 2053.8,543.7 2054.4,542.0 2054.9,543.7 2055.5,544.3 2056.0,543.1 2056.6,543.3 2057.1,543.6 2057.6,543.4 2058.2,542.1 2058.7,542.1 2059.3,543.1 2059.8,542.3 2060.3,542.1 2060.9,543.8 2061.4,544.4 2062.0,544.1 2062.5,542.7 2063.1,544.5 2063.6,544.5 2064.1,543.3 2064.7,544.9 2065.2,544.6 2065.8,544.1 2066.3,542.8 2066.8,543.3 2067.4,544.4 2067.9,543.8 2068.5,544.1 2069.0,544.9 2069.6,544.0 2070.1,543.0 2070.6,543.1 2071.2,543.1 2071.7,543.7 2072.3,543.7 2072.8,543.4 2073.4,542.9 2073.9,545.2 2074.4,542.9 2075.0,544.0 2075.5,543.6 2076.1,543.4 2076.6,543.8 2077.1,544.8 2077.7,544.3 2078.2,544.5 2078.8,544.1 2079.3,543.7 2079.9,542.5 2080.4,544.0 2080.9,543.0 2081.5,544.1 2082.0,544.5 2082.6,544.9 2083.1,543.5 2083.6,545.0 2084.2,544.1 2084.7,544.0 2085.3,542.9 2085.8,542.4 2086.4,543.3 2086.9,543.3 2087.4,543.8 2088.0,544.5 2088.5,544.0 2089.1,542.5 2089.6,543.8 2090.1,544.5 2090.7,544.4 2091.2,545.3 2091.8,543.8 2092.3,544.4 2092.9,545.5 2093.4,544.8 2093.9,545.2 2094.5,545.3 2095.0,544.6 2095.6,546.2 2096.1,546.2 2096.6,545.3 2097.2,544.5 2097.7,545.7 2098.3,545.0 2098.8,546.8 2099.4,547.1 2099.9,544.5 2100.4,545.7 2101.0,544.9 2101.5,545.2 2102.1,547.4 2102.6,547.4 2103.1,547.4 2103.7,546.1 2104.2,547.2 2104.8,547.2 2105.3,546.5 2105.9,544.4 2106.4,546.0 2106.9,546.2 2107.5,548.2 2108.0,547.1 2108.6,544.2 2109.1,543.8 2109.6,543.5 2110.2,546.4 2110.7,546.7 2111.3,545.3 2111.8,545.0 2112.4,545.3 2112.9,544.5 2113.4,545.1 2114.0,544.1 2114.5,544.8 2115.1,546.7 2115.6,547.6 2116.1,545.1 2116.7,546.4 2117.2,546.0 2117.8,545.6 2118.3,544.8 2118.9,545.4 2119.4,546.7 2119.9,544.7 2120.5,547.6 2121.0,544.9 2121.6,545.4 2122.1,545.3 2122.6,545.6 2123.2,545.3 2123.7,545.7 2124.3,546.0 2124.8,547.3 2125.4,547.4 2125.9,547.6 2126.4,545.9 2127.0,547.1 2127.5,547.1 2128.1,545.4 2128.6,547.3 2129.1,547.3 2129.7,545.9 2130.2,546.1 2130.8,546.6 2131.3,546.7 2131.9,547.4 2132.4,546.6 2132.9,546.0 2133.5,545.9 2134.0,546.5 2134.6,547.8 2135.1,547.5 2135.6,546.9 2136.2,546.8 2136.7,548.0 2137.3,546.8 2137.8,545.7 2138.4,546.8 2138.9,547.8 2139.4,547.1 2140.0,545.8 2140.5,546.6 2141.1,545.6 2141.6,547.0 2142.1,550.0 2142.7,546.8 2143.2,547.0 2143.8,547.3 2144.3,546.3 2144.9,547.2 2145.4,547.3 2145.9,548.0 2146.5,546.5 2147.0,546.1 2147.6,545.1 2148.1,548.1 2148.6,547.9 2149.2,547.2 2149.7,546.6 2150.3,547.0 2150.8,547.8 2151.4,548.8 2151.9,548.0 2152.4,547.2 2153.0,548.7 2153.5,548.9 2154.1,549.0 2154.6,548.2 2155.1,548.4 2155.7,548.0 2156.2,549.7 2156.8,547.6 2157.3,548.7 2157.9,550.2 2158.4,546.9 2158.9,548.1 2159.5,547.6 2160.0,548.1 2160.6,547.3 2161.1,548.4 2161.6,546.6 2162.2,547.8 2162.7,546.4 2163.3,547.2 2163.8,546.3 2164.4,548.7 2164.9,548.5 2165.4,548.8 2166.0,547.2 2166.5,548.7 2167.1,548.7 2167.6,549.8 2168.1,548.5 2168.7,546.7 2169.2,549.0 2169.8,547.2 2170.3,548.1 2170.9,548.3 2171.4,548.7 2171.9,548.7 2172.5,549.1 2173.0,550.0 2173.6,548.0 2174.1,549.5 2174.6,550.0 2175.2,548.6 2175.7,548.3 2176.3,548.1 2176.8,548.5 2177.4,548.5 2177.9,547.7 2178.4,548.9 2179.0,548.7 2179.5,548.8 2180.1,549.9 2180.6,547.6 2181.1,547.7 2181.7,548.8 2182.2,548.9 2182.8,548.0 2183.3,548.6 2183.9,549.7 2184.4,550.2 2184.9,548.6 2185.5,548.4 2186.0,548.1 2186.6,548.4 2187.1,546.4 2187.6,548.7 2188.2,548.5 2188.7,549.8 2189.3,548.9 2189.8,549.9 2190.4,550.1 2190.9,548.1 2191.4,548.2 2192.0,549.8 2192.5,548.4 2193.1,548.9 2193.6,550.0 2194.1,549.4 2194.7,550.4 2195.2,550.5 2195.8,549.0 2196.3,550.5 2196.9,548.5 2197.4,549.2 2197.9,548.8 2198.5,549.2 2199.0,549.7 2199.6,550.5 2200.1,550.5 2200.6,550.1 2201.2,550.5 2201.7,549.4 2202.3,549.6 2202.8,550.0 2203.4,549.8 2203.9,551.3 2204.4,549.1 2205.0,549.7 2205.5,550.4 2206.1,549.3 2206.6,548.4 2207.2,549.0 2207.7,549.0 2208.2,549.3 2208.8,549.7 2209.3,549.8 2209.9,547.9 2210.4,550.5 2210.9,549.5 2211.5,550.1 2212.0,551.2 2212.6,549.7 2213.1,549.0 2213.7,548.0 2214.2,550.0 2214.7,549.7 2215.3,549.4 2215.8,550.5 2216.4,550.7 2216.9,550.1 2217.4,551.0 2218.0,550.1 2218.5,551.2 2219.1,550.0 2219.6,549.5 2220.2,548.6 2220.7,549.9 2221.2,549.2 2221.8,550.3 2222.3,552.0 2222.9,551.5 2223.4,548.9 2223.9,551.3 2224.5,548.9 2225.0,548.1 2225.6,549.4 2226.1,550.0 2226.7,550.8 2227.2,550.4 2227.7,549.5 2228.3,548.5 2228.8,548.7 2229.4,550.0 2229.9,549.8 2230.4,549.3 2231.0,549.8 2231.5,551.7 2232.1,551.8 2232.6,552.9 2233.2,551.7 2233.7,553.2 2234.2,551.7 2234.8,552.2 2235.3,553.2 2235.9,551.5 2236.4,550.7 2236.9,550.9 2237.5,552.0 2238.0,550.0 2238.6,551.4 2239.1,551.3 2239.7,551.2 2240.2,548.8 2240.7,550.1 2241.3,548.4 2241.8,549.5 2242.4,551.1 2242.9,550.6 2243.4,548.5 2244.0,551.6 2244.5,550.3 2245.1,551.3 2245.6,550.5 2246.2,550.7 2246.7,551.8 2247.2,549.8 2247.8,550.8 2248.3,551.3 2248.9,550.8 2249.4,552.1 2249.9,552.3 2250.5,550.5 2251.0,551.7 2251.6,552.6 2252.1,551.2 2252.7,551.2 2253.2,551.4 2253.7,552.2 2254.3,551.5 2254.8,550.1 2255.4,551.8 2255.9,551.1 2256.4,550.4 2257.0,550.3 2257.5,550.3 2258.1,550.9 2258.6,550.9 2259.2,552.2 2259.7,550.2 2260.2,549.6 2260.8,551.3 2261.3,551.7 2261.9,551.3 2262.4,552.3 2262.9,552.1 2263.5,550.7 2264.0,551.6 2264.6,550.8 2265.1,552.1 2265.7,551.2 2266.2,552.3 2266.7,550.7 2267.3,551.5 2267.8,552.2 2268.4,551.5 2268.9,551.1 2269.4,552.9 2270.0,552.6 2270.5,553.3 2271.1,552.3 2271.6,553.0 2272.2,552.6 2272.7,551.4 2273.2,552.4 2273.8,552.3 2274.3,550.9 2274.9,550.8 2275.4,551.7 2275.9,550.9 2276.5,550.6 2277.0,550.4 2277.6,550.8 2278.1,552.0 2278.7,552.5 2279.2,551.3 2279.7,551.2 2280.3,550.5 2280.8,552.0 2281.4,551.1 2281.9,552.0 2282.4,551.3 2283.0,552.3 2283.5,552.4 2284.1,553.1 2284.6,553.4 2285.2,552.3 2285.7,551.2 2286.2,552.3 2286.8,551.9 2287.3,552.5 2287.9,550.8 2288.4,549.5 2288.9,552.3 2289.5,550.8 2290.0,551.3 2290.6,552.0 2291.1,551.1 2291.7,552.0 2292.2,551.7 2292.7,552.1 2293.3,550.8 2293.8,552.1 2294.4,551.0 2294.9,550.1 2295.4,551.0 2296.0,551.1 2296.5,551.3 2297.1,552.6 2297.6,552.5 2298.2,550.7 2298.7,551.7 2299.2,552.3 2299.8,551.7 2300.3,551.3 2300.9,552.3 2301.4,553.2 2301.9,553.2 2302.5,552.0 2303.0,553.1 2303.6,553.2 2304.1,551.1 2304.7,551.0 2305.2,552.2 2305.7,552.7 2306.3,551.9 2306.8,552.2 2307.4,551.8 2307.9,552.1 2308.4,552.2 2309.0,552.2 2309.5,551.3 2310.1,552.3 2310.6,552.4 2311.2,551.9"/>
<polyline fill="none" stroke="#00ff66" stroke-width="10.8" points="168,552.3 181,552.3"/>
<polyline id="purple" fill="none" stroke="#9900ff" stroke-width="10.8" stroke-linejoin="round" stroke-linecap="butt" points="170.9,313.8 171.4,310.9 172.0,308.2 172.5,305.8 173.1,304.0 173.6,302.5 174.2,301.2 174.7,300.1 175.2,299.1 175.8,298.4 176.3,298.0 176.9,297.8 177.4,297.5 177.9,297.4 178.5,297.2 179.0,297.1 179.6,297.1 180.1,297.1 180.7,297.1 181.2,297.8 181.7,297.7 182.3,296.2 182.8,296.1 183.4,296.5 183.9,297.2 184.4,296.2 185.0,295.5 185.5,294.8 186.1,294.5 186.6,295.1 187.2,295.5 187.7,295.0 188.2,295.9 188.8,296.8 189.3,296.4 189.9,296.4 190.4,295.8 190.9,296.2 191.5,297.5 192.0,295.9 192.6,298.4 193.1,299.1 193.7,298.3 194.2,298.0 194.7,298.3 195.3,297.5 195.8,297.9 196.4,298.0 196.9,297.3 197.4,295.7 198.0,297.6 198.5,297.6 199.1,295.9 199.6,296.7 200.2,296.1 200.7,296.8 201.2,297.5 201.8,297.4 202.3,297.3 202.9,297.0 203.4,297.6 203.9,297.5 204.5,298.6 205.0,296.8 205.6,296.5 206.1,296.6 206.7,296.9 207.2,296.3 207.7,298.2 208.3,298.4 208.8,297.9 209.4,297.5 209.9,298.5 210.4,297.8 211.0,297.5 211.5,298.1 212.1,296.8 212.6,296.6 213.2,297.3 213.7,297.6 214.2,295.7 214.8,296.0 215.3,296.9 215.9,298.4 216.4,298.0 216.9,298.3 217.5,297.7 218.0,297.6 218.6,297.3 219.1,297.4 219.7,295.9 220.2,295.9 220.7,296.9 221.3,297.1 221.8,297.8 222.4,298.1 222.9,298.6 223.4,297.2 224.0,298.2 224.5,298.6 225.1,299.1 225.6,297.7 226.2,298.0 226.7,297.2 227.2,298.4 227.8,297.8 228.3,297.5 228.9,297.7 229.4,299.1 229.9,298.2 230.5,297.3 231.0,297.4 231.6,299.4 232.1,296.7 232.7,298.5 233.2,296.8 233.7,296.7 234.3,298.0 234.8,299.2 235.4,298.0 235.9,297.4 236.4,298.8 237.0,298.9 237.5,297.9 238.1,297.9 238.6,297.0 239.2,297.8 239.7,298.2 240.2,298.6 240.8,298.1 241.3,299.3 241.9,298.8 242.4,297.6 242.9,298.4 243.5,297.4 244.0,297.4 244.6,298.1 245.1,298.9 245.7,298.3 246.2,297.6 246.7,297.6 247.3,296.4 247.8,296.6 248.4,295.4 248.9,297.0 249.4,296.7 250.0,297.6 250.5,297.5 251.1,299.2 251.6,297.8 252.2,298.0 252.7,298.5 253.2,297.8 253.8,298.5 254.3,297.2 254.9,297.7 255.4,298.3 255.9,298.7 256.5,297.4 257.0,297.9 257.6,298.0 258.1,299.2 258.7,301.3 259.2,296.5 259.7,297.7 260.3,297.3 260.8,297.9 261.4,298.4 261.9,296.8 262.4,300.0 263.0,296.2 263.5,299.2 264.1,296.5 264.6,297.5 265.2,297.0 265.7,296.4 266.2,297.8 266.8,295.0 267.3,297.2 267.9,297.4 268.4,298.7 268.9,298.0 269.5,297.4 270.0,296.9 270.6,298.1 271.1,298.3 271.7,298.5 272.2,298.5 272.7,297.4 273.3,297.0 273.8,296.9 274.4,298.1 274.9,296.5 275.4,297.7 276.0,297.8 276.5,296.9 277.1,297.1 277.6,296.4 278.2,297.9 278.7,296.6 279.2,297.1 279.8,298.3 280.3,296.6 280.9,298.9 281.4,298.7 281.9,297.2 282.5,297.4 283.0,297.4 283.6,297.2 284.1,297.4 284.7,296.3 285.2,295.3 285.7,296.0 286.3,297.0 286.8,296.2 287.4,296.5 287.9,296.1 288.4,295.6 289.0,297.7 289.5,296.0 290.1,295.7 290.6,294.3 291.2,295.0 291.7,296.4 292.2,296.5 292.8,298.2 293.3,296.7 293.9,297.0 294.4,297.2 294.9,296.8 295.5,297.1 296.0,296.9 296.6,294.0 297.1,294.7 297.7,293.8 298.2,295.4 298.7,295.2 299.3,295.5 299.8,296.2 300.4,295.3 300.9,295.6 301.4,293.6 302.0,294.9 302.5,295.8 303.1,296.3 303.6,296.2 304.2,295.1 304.7,296.4 305.2,297.3 305.8,295.9 306.3,296.4 306.9,294.1 307.4,294.6 308.0,295.3 308.5,295.4 309.0,295.2 309.6,294.3 310.1,295.5 310.7,294.8 311.2,295.6 311.7,293.8 312.3,294.1 312.8,294.5 313.4,293.5 313.9,293.1 314.5,294.4 315.0,294.4 315.5,295.2 316.1,294.2 316.6,294.7 317.2,292.8 317.7,293.1 318.2,294.2 318.8,293.6 319.3,293.7 319.9,293.7 320.4,293.8 321.0,294.8 321.5,294.2 322.0,295.0 322.6,293.8 323.1,296.3 323.7,293.9 324.2,293.1 324.7,293.7 325.3,292.5 325.8,292.5 326.4,292.1 326.9,294.0 327.5,293.5 328.0,293.1 328.5,293.5 329.1,296.2 329.6,293.2 330.2,293.8 330.7,294.1 331.2,294.9 331.8,294.6 332.3,294.2 332.9,291.3 333.4,293.6 334.0,293.6 334.5,294.4 335.0,294.5 335.6,292.3 336.1,293.8 336.7,295.0 337.2,295.4 337.7,295.9 338.3,294.4 338.8,295.0 339.4,294.6 339.9,293.5 340.5,294.5 341.0,293.1 341.5,294.7 342.1,294.8 342.6,295.4 343.2,294.5 343.7,293.0 344.2,293.5 344.8,293.4 345.3,293.2 345.9,295.1 346.4,294.7 347.0,294.4 347.5,294.0 348.0,293.3 348.6,294.9 349.1,294.1 349.7,294.9 350.2,293.4 350.7,294.0 351.3,292.9 351.8,292.2 352.4,293.7 352.9,291.8 353.5,292.8 354.0,293.5 354.5,292.2 355.1,292.1 355.6,291.3 356.2,292.3 356.7,292.1 357.2,290.2 357.8,291.4 358.3,292.4 358.9,291.3 359.4,293.7 360.0,293.5 360.5,293.3 361.0,293.3 361.6,292.9 362.1,294.4 362.7,292.1 363.2,291.5 363.7,291.4 364.3,291.6 364.8,292.1 365.4,293.5 365.9,294.0 366.5,293.7 367.0,292.8 367.5,293.0 368.1,291.3 368.6,291.8 369.2,291.7 369.7,293.9 370.2,292.1 370.8,293.1 371.3,293.4 371.9,292.3 372.4,289.2 373.0,292.0 373.5,292.5 374.0,292.2 374.6,292.7 375.1,292.2 375.7,292.5 376.2,293.5 376.7,294.7 377.3,291.3 377.8,293.7 378.4,291.9 378.9,291.0 379.5,292.4 380.0,293.5 380.5,293.3 381.1,292.4 381.6,292.1 382.2,291.0 382.7,291.5 383.2,290.2 383.8,292.2 384.3,294.0 384.9,294.0 385.4,291.9 386.0,292.0 386.5,293.1 387.0,291.0 387.6,292.8 388.1,292.6 388.7,291.7 389.2,293.2 389.7,294.4 390.3,291.9 390.8,290.6 391.4,293.5 391.9,294.1 392.5,292.5 393.0,292.9 393.5,293.1 394.1,294.0 394.6,293.4 395.2,293.1 395.7,293.3 396.2,294.0 396.8,294.7 397.3,293.8 397.9,292.9 398.4,290.9 399.0,291.9 399.5,292.0 400.0,293.1 400.6,294.7 401.1,294.4 401.7,294.0 402.2,294.6 402.7,294.7 403.3,293.3 403.8,294.3 404.4,293.6 404.9,295.2 405.5,294.3 406.0,292.9 406.5,293.8 407.1,295.6 407.6,294.0 408.2,295.4 408.7,294.2 409.2,295.2 409.8,295.6 410.3,294.8 410.9,295.3 411.4,294.6 412.0,293.7 412.5,294.5 413.0,295.8 413.6,293.3 414.1,292.6 414.7,294.4 415.2,294.1 415.7,295.6 416.3,295.5 416.8,294.0 417.4,293.1 417.9,295.2 418.5,295.2 419.0,294.9 419.5,293.2 420.1,295.2 420.6,294.5 421.2,296.2 421.7,293.1 422.2,295.3 422.8,295.0 423.3,295.3 423.9,294.8 424.4,295.5 425.0,295.4 425.5,295.0 426.0,295.1 426.6,293.9 427.1,293.0 427.7,292.8 428.2,294.1 428.7,293.7 429.3,294.8 429.8,294.4 430.4,296.2 430.9,294.9 431.5,293.7 432.0,294.5 432.5,293.7 433.1,294.2 433.6,294.8 434.2,293.9 434.7,293.8 435.2,294.4 435.8,294.6 436.3,296.4 436.9,295.8 437.4,296.0 438.0,295.2 438.5,294.8 439.0,294.8 439.6,294.6 440.1,294.7 440.7,293.3 441.2,294.0 441.7,295.1 442.3,293.5 442.8,293.2 443.4,294.0 443.9,296.0 444.5,293.4 445.0,296.5 445.5,294.7 446.1,295.4 446.6,293.4 447.2,294.0 447.7,294.4 448.3,292.7 448.8,292.9 449.3,294.5 449.9,293.0 450.4,292.1 451.0,292.5 451.5,293.2 452.0,294.4 452.6,294.7 453.1,290.5 453.7,293.0 454.2,293.8 454.8,293.2 455.3,293.5 455.8,293.3 456.4,294.0 456.9,294.6 457.5,294.2 458.0,292.0 458.5,292.6 459.1,293.1 459.6,291.6 460.2,291.6 460.7,293.0 461.3,291.1 461.8,292.4 462.3,292.8 462.9,292.5 463.4,292.9 464.0,290.7 464.5,292.4 465.0,292.0 465.6,291.0 466.1,289.7 466.7,291.0 467.2,290.4 467.8,290.0 468.3,291.0 468.8,292.4 469.4,292.8 469.9,292.1 470.5,292.3 471.0,292.0 471.5,291.1 472.1,291.8 472.6,290.7 473.2,291.2 473.7,291.1 474.3,292.4 474.8,292.3 475.3,293.0 475.9,292.6 476.4,291.5 477.0,291.6 477.5,292.3 478.0,292.0 478.6,293.2 479.1,292.6 479.7,292.3 480.2,292.2 480.8,291.1 481.3,292.7 481.8,292.1 482.4,292.6 482.9,293.4 483.5,292.6 484.0,292.7 484.5,291.8 485.1,291.0 485.6,291.5 486.2,290.8 486.7,291.8 487.3,292.2 487.8,292.3 488.3,292.3 488.9,292.2 489.4,290.9 490.0,293.1 490.5,291.7 491.0,292.7 491.6,291.2 492.1,292.5 492.7,291.6 493.2,293.4 493.8,292.0 494.3,292.7 494.8,294.1 495.4,291.8 495.9,292.6 496.5,291.9 497.0,291.1 497.5,291.9 498.1,293.3 498.6,292.3 499.2,292.4 499.7,291.8 500.3,291.4 500.8,290.7 501.3,289.9 501.9,291.3 502.4,290.1 503.0,290.4 503.5,290.0 504.0,289.7 504.6,290.2 505.1,290.5 505.7,290.3 506.2,290.9 506.8,290.3 507.3,291.5 507.8,291.7 508.4,290.7 508.9,290.3 509.5,291.5 510.0,291.8 510.5,290.9 511.1,292.2 511.6,292.3 512.2,292.7 512.7,291.8 513.3,292.9 513.8,292.0 514.3,291.0 514.9,290.5 515.4,292.1 516.0,290.8 516.5,291.8 517.0,291.9 517.6,290.9 518.1,290.2 518.7,290.8 519.2,290.9 519.8,291.1 520.3,290.0 520.8,292.2 521.4,290.7 521.9,290.4 522.5,291.8 523.0,290.4 523.5,290.1 524.1,290.8 524.6,291.4 525.2,291.9 525.7,291.4 526.3,289.9 526.8,289.7 527.3,290.9 527.9,291.5 528.4,291.3 529.0,290.2 529.5,291.2 530.0,289.8 530.6,290.7 531.1,290.0 531.7,290.7 532.2,291.4 532.8,289.4 533.3,290.7 533.8,290.9 534.4,289.1 534.9,290.2 535.5,288.7 536.0,289.7 536.5,290.8 537.1,291.2 537.6,290.2 538.2,290.8 538.7,289.7 539.3,289.4 539.8,289.6 540.3,290.7 540.9,291.2 541.4,291.3 542.0,290.4 542.5,291.6 543.0,291.8 543.6,292.2 544.1,292.3 544.7,291.1 545.2,291.5 545.8,291.0 546.3,289.6 546.8,290.0 547.4,291.4 547.9,290.3 548.5,292.7 549.0,292.0 549.5,291.9 550.1,290.9 550.6,289.3 551.2,291.2 551.7,289.8 552.3,290.2 552.8,290.8 553.3,291.7 553.9,290.6 554.4,291.0 555.0,289.6 555.5,291.4 556.0,291.9 556.6,290.7 557.1,291.1 557.7,290.9 558.2,288.8 558.8,289.8 559.3,289.9 559.8,290.4 560.4,289.8 560.9,289.2 561.5,289.8 562.0,291.5 562.5,290.3 563.1,289.7 563.6,289.9 564.2,289.5 564.7,290.5 565.3,290.9 565.8,290.0 566.3,289.6 566.9,289.6 567.4,288.9 568.0,289.8 568.5,290.3 569.0,290.1 569.6,289.4 570.1,289.6 570.7,289.9 571.2,290.0 571.8,290.7 572.3,289.1 572.8,289.8 573.4,290.0 573.9,290.7 574.5,289.8 575.0,290.5 575.5,289.9 576.1,287.5 576.6,289.5 577.2,290.5 577.7,289.8 578.3,289.6 578.8,289.7 579.3,290.6 579.9,289.4 580.4,287.0 581.0,288.4 581.5,289.0 582.1,287.9 582.6,287.6 583.1,286.6 583.7,287.2 584.2,287.4 584.8,288.2 585.3,289.0 585.8,289.5 586.4,288.8 586.9,288.3 587.5,289.3 588.0,287.9 588.6,288.6 589.1,287.5 589.6,288.6 590.2,288.1 590.7,288.1 591.3,286.6 591.8,287.7 592.3,287.4 592.9,287.4 593.4,285.7 594.0,287.4 594.5,284.7 595.1,286.1 595.6,288.1 596.1,287.4 596.7,285.8 597.2,286.8 597.8,287.5 598.3,287.0 598.8,286.3 599.4,286.6 599.9,286.3 600.5,287.3 601.0,287.0 601.6,287.8 602.1,286.1 602.6,285.1 603.2,287.5 603.7,286.4 604.3,288.1 604.8,286.9 605.3,288.2 605.9,286.4 606.4,287.4 607.0,288.1 607.5,288.3 608.1,287.7 608.6,287.8 609.1,285.6 609.7,287.7 610.2,287.7 610.8,285.5 611.3,287.1 611.8,287.1 612.4,286.5 612.9,287.6 613.5,287.5 614.0,287.0 614.6,288.5 615.1,287.4 615.6,286.4 616.2,285.9 616.7,286.5 617.3,287.4 617.8,286.5 618.3,286.2 618.9,286.7 619.4,286.3 620.0,288.3 620.5,287.3 621.1,288.3 621.6,288.6 622.1,285.8 622.7,286.8 623.2,286.2 623.8,284.5 624.3,285.6 624.8,286.3 625.4,286.3 625.9,285.8 626.5,285.3 627.0,285.3 627.6,285.9 628.1,286.9 628.6,286.4 629.2,286.2 629.7,285.7 630.3,286.8 630.8,287.0 631.3,287.1 631.9,286.2 632.4,287.8 633.0,287.2 633.5,287.0 634.1,287.7 634.6,287.4 635.1,286.8 635.7,288.1 636.2,286.4 636.8,288.7 637.3,287.0 637.8,288.2 638.4,288.3 638.9,287.0 639.5,285.8 640.0,287.1 640.6,287.2 641.1,286.7 641.6,285.8 642.2,285.4 642.7,285.9 643.3,286.6 643.8,287.4 644.3,286.2 644.9,287.1 645.4,285.5 646.0,285.8 646.5,287.6 647.1,286.7 647.6,287.3 648.1,286.1 648.7,287.4 649.2,284.7 649.8,286.3 650.3,286.6 650.8,286.9 651.4,286.2 651.9,285.9 652.5,286.5 653.0,286.2 653.6,286.6 654.1,286.8 654.6,286.4 655.2,284.7 655.7,284.6 656.3,284.3 656.8,284.2 657.3,285.2 657.9,283.6 658.4,284.5 659.0,284.8 659.5,283.7 660.1,284.0 660.6,284.3 661.1,283.3 661.7,284.9 662.2,283.2 662.8,284.0 663.3,282.9 663.8,282.4 664.4,283.1 664.9,282.1 665.5,282.9 666.0,281.0 666.6,282.1 667.1,282.4 667.6,282.3 668.2,281.4 668.7,282.2 669.3,281.0 669.8,281.0 670.3,282.3 670.9,281.5 671.4,282.0 672.0,281.2 672.5,280.8 673.1,282.0 673.6,282.7 674.1,281.1 674.7,280.2 675.2,280.2 675.8,280.6 676.3,280.3 676.8,281.4 677.4,281.3 677.9,281.8 678.5,280.8 679.0,280.3 679.6,280.7 680.1,281.4 680.6,281.0 681.2,280.4 681.7,281.9 682.3,281.0 682.8,281.0 683.3,280.3 683.9,279.0 684.4,279.6 685.0,280.2 685.5,278.9 686.1,279.9 686.6,281.0 687.1,281.2 687.7,279.6 688.2,280.1 688.8,281.0 689.3,281.1 689.8,281.8 690.4,281.3 690.9,279.7 691.5,280.7 692.0,281.2 692.6,279.7 693.1,279.7 693.6,279.8 694.2,279.1 694.7,280.9 695.3,278.5 695.8,278.8 696.3,279.9 696.9,278.8 697.4,278.4 698.0,278.1 698.5,278.5 699.1,278.5 699.6,278.0 700.1,277.9 700.7,277.3 701.2,278.3 701.8,278.3 702.3,277.2 702.8,278.1 703.4,278.8 703.9,278.1 704.5,276.7 705.0,278.3 705.6,278.3 706.1,275.8 706.6,276.5 707.2,276.5 707.7,276.5 708.3,276.6 708.8,277.1 709.3,275.9 709.9,276.7 710.4,275.7 711.0,278.2 711.5,276.6 712.1,276.3 712.6,275.6 713.1,275.9 713.7,275.1 714.2,275.6 714.8,273.1 715.3,272.9 715.9,273.8 716.4,274.6 716.9,273.9 717.5,273.9 718.0,273.8 718.6,274.9 719.1,274.4 719.6,274.9 720.2,274.3 720.7,274.1 721.3,272.4 721.8,273.6 722.4,273.1 722.9,272.6 723.4,274.4 724.0,270.8 724.5,271.1 725.1,272.2 725.6,271.5 726.1,271.5 726.7,272.2 727.2,270.3 727.8,269.3 728.3,270.1 728.9,268.8 729.4,268.9 729.9,269.1 730.5,269.0 731.0,267.5 731.6,266.4 732.1,267.8 732.6,268.3 733.2,268.4 733.7,267.9 734.3,268.3 734.8,267.5 735.4,266.5 735.9,267.5 736.4,265.9 737.0,266.3 737.5,266.2 738.1,264.9 738.6,266.3 739.1,264.7 739.7,264.2 740.2,263.7 740.8,265.2 741.3,263.9 741.9,264.6 742.4,263.7 742.9,262.8 743.5,264.0 744.0,261.4 744.6,261.8 745.1,261.4 745.6,262.1 746.2,262.3 746.7,261.8 747.3,261.0 747.8,259.7 748.4,260.1 748.9,259.0 749.4,259.6 750.0,258.8 750.5,259.8 751.1,257.4 751.6,257.7 752.1,258.1 752.7,256.6 753.2,259.4 753.8,258.2 754.3,257.4 754.9,256.1 755.4,255.3 755.9,256.6 756.5,255.9 757.0,255.9 757.6,254.6 758.1,254.6 758.6,253.8 759.2,253.1 759.7,252.5 760.3,253.3 760.8,253.9 761.4,253.0 761.9,251.1 762.4,250.5 763.0,252.3 763.5,250.0 764.1,251.1 764.6,250.0 765.1,251.1 765.7,248.0 766.2,249.3 766.8,247.8 767.3,249.0 767.9,248.0 768.4,246.6 768.9,245.9 769.5,245.2 770.0,244.5 770.6,245.2 771.1,243.4 771.6,243.4 772.2,242.7 772.7,244.3 773.3,243.3 773.8,242.2 774.4,242.4 774.9,241.7 775.4,242.7 776.0,240.4 776.5,243.9 777.1,242.4 777.6,241.0 778.1,241.3 778.7,241.3 779.2,241.0 779.8,239.8 780.3,241.3 780.9,240.0 781.4,239.1 781.9,239.9 782.5,238.3 783.0,237.7 783.6,237.2 784.1,240.3 784.6,238.9 785.2,237.8 785.7,240.0 786.3,239.3 786.8,237.9 787.4,237.2 787.9,237.7 788.4,238.1 789.0,237.6 789.5,237.1 790.1,238.1 790.6,236.7 791.1,236.5 791.7,235.2 792.2,234.8 792.8,236.6 793.3,237.3 793.9,235.6 794.4,235.8 794.9,234.6 795.5,233.3 796.0,235.8 796.6,234.8 797.1,232.5 797.6,233.2 798.2,230.4 798.7,233.3 799.3,231.9 799.8,231.2 800.4,230.5 800.9,228.9 801.4,230.3 802.0,229.0 802.5,228.4 803.1,227.5 803.6,228.0 804.1,228.2 804.7,226.4 805.2,226.4 805.8,224.5 806.3,226.6 806.9,225.6 807.4,224.0 807.9,221.4 808.5,221.0 809.0,220.9 809.6,220.9 810.1,219.6 810.6,218.8 811.2,218.3 811.7,217.6 812.3,217.3 812.8,216.9 813.4,216.4 813.9,214.9 814.4,216.0 815.0,215.9 815.5,214.1 816.1,215.5 816.6,214.0 817.1,212.2 817.7,211.8 818.2,210.0 818.8,208.1 819.3,207.9 819.9,207.7 820.4,205.1 820.9,204.4 821.5,203.4 822.0,202.4 822.6,201.9 823.1,201.6 823.6,199.5 824.2,199.4 824.7,198.8 825.3,197.7 825.8,196.8 826.4,197.1 826.9,194.7 827.4,193.4 828.0,192.3 828.5,191.8 829.1,189.4 829.6,190.5 830.1,186.0 830.7,185.6 831.2,185.3 831.8,183.1 832.3,183.0 832.9,181.9 833.4,179.2 833.9,177.2 834.5,175.5 835.0,173.0 835.6,172.0 836.1,168.8 836.6,168.1 837.2,164.6 837.7,164.1 838.3,163.3 838.8,159.9 839.4,161.5 839.9,159.0 840.4,157.7 841.0,156.3 841.5,155.8 842.1,153.3 842.6,152.0 843.1,151.1 843.7,147.7 844.2,146.3 844.8,142.5 845.3,139.4 845.9,137.2 846.4,133.8 846.9,132.3 847.5,129.6 848.0,127.4 848.6,124.4 849.1,122.5 849.7,120.1 850.2,118.0 850.7,115.5 851.3,113.9 851.8,111.4 852.4,109.4 852.9,107.1 853.4,105.2 854.0,104.0 854.5,100.5 855.1,98.9 855.6,96.4 856.2,93.8 856.7,92.0 857.2,89.4 857.8,89.4 858.3,87.6 858.9,85.4 859.4,83.0 859.9,81.4 860.5,77.1 861.0,75.7 861.6,72.4 862.1,70.1 862.7,67.6 863.2,66.9 863.7,67.1 864.3,65.0 864.8,62.7 865.4,62.1 865.9,60.5 866.4,61.7 867.0,61.0 867.5,59.3 868.1,60.9 868.6,60.0 869.2,59.7 869.7,61.9 870.2,58.7 870.8,60.4 871.3,62.3 871.9,62.4 872.4,63.5 872.9,63.2 873.5,64.4 874.0,63.6 874.6,64.3 875.1,64.9 875.7,66.8 876.2,68.4 876.7,70.1 877.3,71.5 877.8,73.4 878.4,74.3 878.9,78.0 879.4,80.3 880.0,83.5 880.5,80.9 881.1,86.4 881.6,90.0 882.2,92.8 882.7,96.5 883.2,98.8 883.8,101.6 884.3,104.3 884.9,104.5 885.4,107.7 885.9,109.4 886.5,111.6 887.0,114.3 887.6,116.2 888.1,118.8 888.7,121.2 889.2,122.5 889.7,123.5 890.3,128.4 890.8,131.8 891.4,133.8 891.9,133.5 892.4,137.5 893.0,140.3 893.5,141.5 894.1,141.0 894.6,145.3 895.2,146.2 895.7,147.3 896.2,150.0 896.8,152.2 897.3,154.8 897.9,156.5 898.4,159.6 898.9,159.4 899.5,160.9 900.0,161.8 900.6,166.0 901.1,167.1 901.7,168.2 902.2,170.0 902.7,171.8 903.3,173.6 903.8,174.7 904.4,176.5 904.9,177.1 905.4,179.1 906.0,180.4 906.5,180.4 907.1,182.2 907.6,184.1 908.2,184.5 908.7,185.6 909.2,186.8 909.8,189.3 910.3,188.5 910.9,191.3 911.4,191.3 911.9,191.7 912.5,194.0 913.0,194.8 913.6,195.0 914.1,196.6 914.7,197.3 915.2,198.4 915.7,197.7 916.3,198.9 916.8,200.4 917.4,200.5 917.9,202.8 918.4,201.9 919.0,202.7 919.5,203.9 920.1,203.5 920.6,204.8 921.2,204.9 921.7,207.4 922.2,208.4 922.8,208.0 923.3,207.9 923.9,210.2 924.4,210.8 924.9,210.6 925.5,210.9 926.0,212.5 926.6,213.3 927.1,212.3 927.7,213.6 928.2,213.9 928.7,213.8 929.3,213.1 929.8,215.0 930.4,214.2 930.9,215.5 931.4,217.1 932.0,216.7 932.5,216.7 933.1,217.4 933.6,216.9 934.2,217.1 934.7,218.5 935.2,219.2 935.8,216.7 936.3,217.4 936.9,217.5 937.4,218.5 937.9,217.6 938.5,218.2 939.0,217.6 939.6,216.4 940.1,218.3 940.7,217.7 941.2,217.9 941.7,217.7 942.3,217.3 942.8,218.8 943.4,217.2 943.9,217.9 944.4,217.3 945.0,217.8 945.5,216.9 946.1,217.3 946.6,220.1 947.2,218.1 947.7,218.7 948.2,220.1 948.8,217.6 949.3,218.0 949.9,218.0 950.4,216.5 950.9,216.1 951.5,216.2 952.0,218.2 952.6,217.4 953.1,217.1 953.7,216.6 954.2,217.3 954.7,215.6 955.3,216.1 955.8,215.9 956.4,215.4 956.9,213.2 957.4,214.7 958.0,215.2 958.5,213.1 959.1,211.9 959.6,213.4 960.2,212.1 960.7,211.5 961.2,212.8 961.8,211.6 962.3,210.5 962.9,210.3 963.4,210.0 963.9,209.7 964.5,208.7 965.0,208.4 965.6,208.5 966.1,207.2 966.7,207.1 967.2,207.5 967.7,207.1 968.3,205.8 968.8,209.2 969.4,206.6 969.9,207.5 970.4,205.0 971.0,205.8 971.5,207.7 972.1,204.8 972.6,205.7 973.2,204.2 973.7,203.9 974.2,204.2 974.8,203.9 975.3,203.1 975.9,203.1 976.4,202.4 976.9,200.4 977.5,200.9 978.0,199.7 978.6,199.9 979.1,198.6 979.7,197.7 980.2,196.3 980.7,193.8 981.3,192.7 981.8,193.4 982.4,195.0 982.9,191.8 983.4,189.8 984.0,188.9 984.5,188.3 985.1,188.2 985.6,186.8 986.2,186.0 986.7,185.8 987.2,186.4 987.8,185.1 988.3,183.3 988.9,182.1 989.4,181.1 990.0,181.3 990.5,178.4 991.0,176.2 991.6,171.0 992.1,169.2 992.7,165.8 993.2,161.7 993.7,160.4 994.3,157.2 994.8,155.8 995.4,151.6 995.9,150.1 996.5,146.5 997.0,143.3 997.5,141.1 998.1,138.8 998.6,135.1 999.2,131.0 999.7,130.0 1000.2,127.5 1000.8,126.2 1001.3,123.2 1001.9,120.7 1002.4,117.6 1003.0,115.2 1003.5,113.7 1004.0,111.6 1004.6,110.3 1005.1,108.0 1005.7,105.6 1006.2,103.9 1006.7,103.0 1007.3,99.0 1007.8,98.5 1008.4,98.9 1008.9,97.4 1009.5,95.6 1010.0,94.7 1010.5,95.8 1011.1,94.6 1011.6,95.9 1012.2,97.4 1012.7,95.8 1013.2,98.5 1013.8,101.0 1014.3,101.1 1014.9,102.9 1015.4,104.3 1016.0,105.6 1016.5,108.0 1017.0,109.6 1017.6,113.3 1018.1,116.3 1018.7,118.8 1019.2,121.3 1019.7,123.1 1020.3,127.5 1020.8,128.9 1021.4,134.1 1021.9,136.8 1022.5,140.5 1023.0,143.0 1023.5,144.3 1024.1,149.6 1024.6,153.9 1025.2,157.3 1025.7,160.2 1026.2,163.6 1026.8,167.9 1027.3,170.6 1027.9,173.7 1028.4,177.1 1029.0,178.9 1029.5,183.1 1030.0,187.0 1030.6,191.5 1031.1,193.5 1031.7,196.7 1032.2,201.5 1032.7,202.4 1033.3,204.7 1033.8,209.4 1034.4,211.2 1034.9,212.2 1035.5,216.8 1036.0,222.1 1036.5,221.7 1037.1,223.3 1037.6,227.3 1038.2,229.3 1038.7,231.1 1039.2,233.5 1039.8,233.5 1040.3,235.3 1040.9,237.9 1041.4,237.8 1042.0,241.2 1042.5,240.3 1043.0,242.0 1043.6,243.2 1044.1,244.8 1044.7,246.1 1045.2,247.3 1045.7,248.1 1046.3,248.8 1046.8,249.4 1047.4,250.6 1047.9,251.6 1048.5,253.1 1049.0,252.2 1049.5,255.2 1050.1,253.6 1050.6,255.9 1051.2,257.6 1051.7,257.7 1052.2,258.7 1052.8,261.3 1053.3,259.2 1053.9,262.2 1054.4,261.1 1055.0,262.3 1055.5,262.8 1056.0,262.3 1056.6,264.7 1057.1,263.4 1057.7,265.0 1058.2,266.8 1058.7,265.1 1059.3,265.7 1059.8,266.0 1060.4,266.1 1060.9,266.0 1061.5,266.3 1062.0,267.7 1062.5,267.4 1063.1,268.9 1063.6,268.4 1064.2,267.2 1064.7,267.8 1065.2,267.6 1065.8,267.7 1066.3,268.9 1066.9,268.9 1067.4,270.2 1068.0,268.6 1068.5,269.5 1069.0,267.8 1069.6,268.9 1070.1,270.1 1070.7,270.6 1071.2,269.2 1071.7,270.0 1072.3,270.5 1072.8,270.3 1073.4,271.9 1073.9,272.3 1074.5,271.6 1075.0,272.1 1075.5,269.9 1076.1,272.4 1076.6,270.6 1077.2,271.1 1077.7,271.0 1078.2,272.9 1078.8,271.7 1079.3,273.1 1079.9,272.8 1080.4,273.2 1081.0,272.3 1081.5,273.3 1082.0,271.5 1082.6,272.5 1083.1,270.7 1083.7,271.1 1084.2,272.1 1084.7,272.7 1085.3,273.0 1085.8,272.4 1086.4,272.5 1086.9,272.9 1087.5,271.1 1088.0,271.1 1088.5,272.3 1089.1,271.1 1089.6,271.4 1090.2,269.6 1090.7,271.2 1091.2,270.6 1091.8,272.3 1092.3,269.9 1092.9,272.1 1093.4,271.2 1094.0,270.4 1094.5,271.6 1095.0,271.1 1095.6,271.5 1096.1,271.0 1096.7,271.3 1097.2,271.3 1097.7,271.0 1098.3,273.8 1098.8,271.5 1099.4,272.3 1099.9,272.3 1100.5,272.0 1101.0,272.4 1101.5,271.6 1102.1,271.5 1102.6,272.2 1103.2,272.1 1103.7,271.1 1104.2,272.0 1104.8,274.4 1105.3,271.7 1105.9,273.2 1106.4,274.1 1107.0,274.6 1107.5,273.8 1108.0,273.8 1108.6,274.4 1109.1,272.8 1109.7,272.2 1110.2,274.4 1110.7,275.2 1111.3,273.0 1111.8,272.0 1112.4,272.4 1112.9,272.9 1113.5,274.4 1114.0,273.8 1114.5,272.0 1115.1,273.2 1115.6,273.1 1116.2,275.4 1116.7,274.7 1117.2,274.5 1117.8,274.1 1118.3,275.6 1118.9,274.4 1119.4,273.5 1120.0,273.2 1120.5,274.3 1121.0,273.5 1121.6,273.9 1122.1,272.7 1122.7,273.0 1123.2,273.5 1123.8,274.0 1124.3,274.4 1124.8,273.7 1125.4,274.2 1125.9,273.7 1126.5,276.2 1127.0,276.9 1127.5,276.3 1128.1,273.8 1128.6,273.4 1129.2,273.6 1129.7,272.8 1130.3,272.6 1130.8,274.9 1131.3,273.6 1131.9,272.4 1132.4,273.9 1133.0,275.0 1133.5,273.5 1134.0,273.3 1134.6,274.0 1135.1,274.3 1135.7,271.8 1136.2,273.1 1136.8,271.6 1137.3,268.8 1137.8,274.1 1138.4,274.2 1138.9,275.0 1139.5,272.3 1140.0,273.8 1140.5,274.2 1141.1,273.1 1141.6,271.5 1142.2,273.7 1142.7,272.1 1143.3,272.4 1143.8,272.9 1144.3,274.2 1144.9,274.0 1145.4,273.3 1146.0,275.3 1146.5,274.1 1147.0,273.5 1147.6,273.6 1148.1,274.2 1148.7,275.8 1149.2,274.0 1149.8,274.0 1150.3,273.8 1150.8,273.7 1151.4,274.8 1151.9,273.6 1152.5,273.0 1153.0,273.6 1153.5,274.5 1154.1,272.9 1154.6,273.1 1155.2,272.2 1155.7,273.5 1156.3,272.6 1156.8,273.5 1157.3,272.1 1157.9,272.4 1158.4,273.0 1159.0,273.4 1159.5,273.6 1160.0,273.0 1160.6,272.5 1161.1,272.3 1161.7,274.1 1162.2,272.7 1162.8,271.5 1163.3,272.8 1163.8,271.5 1164.4,273.8 1164.9,274.4 1165.5,273.8 1166.0,274.2 1166.5,272.8 1167.1,272.9 1167.6,272.5 1168.2,272.4 1168.7,274.5 1169.3,272.6 1169.8,273.3 1170.3,273.7 1170.9,272.4 1171.4,273.5 1172.0,272.8 1172.5,271.6 1173.0,274.8 1173.6,275.5 1174.1,273.7 1174.7,271.9 1175.2,272.9 1175.8,274.0 1176.3,275.2 1176.8,273.9 1177.4,274.3 1177.9,275.1 1178.5,275.6 1179.0,274.1 1179.5,275.2 1180.1,273.5 1180.6,273.6 1181.2,274.1 1181.7,275.6 1182.3,274.5 1182.8,273.7 1183.3,273.4 1183.9,275.1 1184.4,273.1 1185.0,273.6 1185.5,273.2 1186.0,274.3 1186.6,273.2 1187.1,273.7 1187.7,273.7 1188.2,274.7 1188.8,274.7 1189.3,273.9 1189.8,273.6 1190.4,274.8 1190.9,275.3 1191.5,274.7 1192.0,274.1 1192.5,276.0 1193.1,273.6 1193.6,275.1 1194.2,275.0 1194.7,275.0 1195.3,273.4 1195.8,273.8 1196.3,274.3 1196.9,273.5 1197.4,274.3 1198.0,275.1 1198.5,274.8 1199.0,273.6 1199.6,274.0 1200.1,273.5 1200.7,273.9 1201.2,273.2 1201.8,274.6 1202.3,273.7 1202.8,272.5 1203.4,272.5 1203.9,272.7 1204.5,272.7 1205.0,273.7 1205.5,274.2 1206.1,274.2 1206.6,273.7 1207.2,274.9 1207.7,273.8 1208.3,275.0 1208.8,273.0 1209.3,273.4 1209.9,273.7 1210.4,275.9 1211.0,274.1 1211.5,274.5 1212.0,273.9 1212.6,273.0 1213.1,274.6 1213.7,274.9 1214.2,273.2 1214.8,273.0 1215.3,274.7 1215.8,273.0 1216.4,273.7 1216.9,273.6 1217.5,272.8 1218.0,271.1 1218.5,272.7 1219.1,271.9 1219.6,272.8 1220.2,272.6 1220.7,272.9 1221.3,274.2 1221.8,275.2 1222.3,274.4 1222.9,274.5 1223.4,273.4 1224.0,273.4 1224.5,273.7 1225.0,271.9 1225.6,273.4 1226.1,273.3 1226.7,273.8 1227.2,272.7 1227.8,271.9 1228.3,272.2 1228.8,272.5 1229.4,274.1 1229.9,274.0 1230.5,273.2 1231.0,273.3 1231.5,273.2 1232.1,270.1 1232.6,271.4 1233.2,269.8 1233.7,272.7 1234.3,272.0 1234.8,271.4 1235.3,272.1 1235.9,270.9 1236.4,272.5 1237.0,273.5 1237.5,273.1 1238.0,273.8 1238.6,272.9 1239.1,273.2 1239.7,273.2 1240.2,273.1 1240.8,273.2 1241.3,272.7 1241.8,272.0 1242.4,271.6 1242.9,272.2 1243.5,272.9 1244.0,272.7 1244.5,272.5 1245.1,272.5 1245.6,273.8 1246.2,273.4 1246.7,274.3 1247.3,274.3 1247.8,272.3 1248.3,273.3 1248.9,271.0 1249.4,273.4 1250.0,272.8 1250.5,273.9 1251.0,273.1 1251.6,273.8 1252.1,274.2 1252.7,273.7 1253.2,274.7 1253.8,274.1 1254.3,275.7 1254.8,275.2 1255.4,273.6 1255.9,275.3 1256.5,275.8 1257.0,273.8 1257.6,274.5 1258.1,274.5 1258.6,274.3 1259.2,274.6 1259.7,275.3 1260.3,275.5 1260.8,273.8 1261.3,275.9 1261.9,276.1 1262.4,275.2 1263.0,276.3 1263.5,276.3 1264.1,276.0 1264.6,275.5 1265.1,273.3 1265.7,275.2 1266.2,275.9 1266.8,274.9 1267.3,275.1 1267.8,276.1 1268.4,276.6 1268.9,275.3 1269.5,273.8 1270.0,275.4 1270.6,274.3 1271.1,274.1 1271.6,274.5 1272.2,273.8 1272.7,274.9 1273.3,275.2 1273.8,274.0 1274.3,274.7 1274.9,275.7 1275.4,274.8 1276.0,275.0 1276.5,276.1 1277.1,273.6 1277.6,275.1 1278.1,275.5 1278.7,274.8 1279.2,277.5 1279.8,273.0 1280.3,273.3 1280.8,273.2 1281.4,272.4 1281.9,275.1 1282.5,274.7 1283.0,274.2 1283.6,274.6 1284.1,275.9 1284.6,276.0 1285.2,274.3 1285.7,276.2 1286.3,274.0 1286.8,275.6 1287.3,275.5 1287.9,275.6 1288.4,276.6 1289.0,276.0 1289.5,274.9 1290.1,274.1 1290.6,273.5 1291.1,274.2 1291.7,273.8 1292.2,273.9 1292.8,273.4 1293.3,274.5 1293.8,275.2 1294.4,275.3 1294.9,274.7 1295.5,276.7 1296.0,274.8 1296.6,275.4 1297.1,274.7 1297.6,274.3 1298.2,275.1 1298.7,275.5 1299.3,274.1 1299.8,276.6 1300.3,275.2 1300.9,274.9 1301.4,275.8 1302.0,275.4 1302.5,275.3 1303.1,274.1 1303.6,273.7 1304.1,274.9 1304.7,276.5 1305.2,276.1 1305.8,274.8 1306.3,275.8 1306.8,274.9 1307.4,274.9 1307.9,274.8 1308.5,275.0 1309.0,275.9 1309.6,276.4 1310.1,277.5 1310.6,274.5 1311.2,275.5 1311.7,274.7 1312.3,275.5 1312.8,274.0 1313.3,275.1 1313.9,274.9 1314.4,276.1 1315.0,275.4 1315.5,275.3 1316.1,275.3 1316.6,275.3 1317.1,274.7 1317.7,273.3 1318.2,275.0 1318.8,275.8 1319.3,274.7 1319.8,275.8 1320.4,275.1 1320.9,274.6 1321.5,275.8 1322.0,276.4 1322.6,276.2 1323.1,276.8 1323.6,275.7 1324.2,275.7 1324.7,275.7 1325.3,274.0 1325.8,274.4 1326.3,274.2 1326.9,274.8 1327.4,274.4 1328.0,275.7 1328.5,274.5 1329.1,273.4 1329.6,275.5 1330.1,274.4 1330.7,277.6 1331.2,272.4 1331.8,275.1 1332.3,273.1 1332.8,273.7 1333.4,274.2 1333.9,273.0 1334.5,272.6 1335.0,274.5 1335.6,274.8 1336.1,274.6 1336.6,276.0 1337.2,273.2 1337.7,274.5 1338.3,274.5 1338.8,274.6 1339.3,276.4 1339.9,274.5 1340.4,274.4 1341.0,274.2 1341.5,273.7 1342.1,274.0 1342.6,275.1 1343.1,273.9 1343.7,274.1 1344.2,273.6 1344.8,271.2 1345.3,273.4 1345.8,274.6 1346.4,275.2 1346.9,274.8 1347.5,274.2 1348.0,274.2 1348.6,275.5 1349.1,273.1 1349.6,273.6 1350.2,274.4 1350.7,274.6 1351.3,275.2 1351.8,275.2 1352.3,273.7 1352.9,276.2 1353.4,274.7 1354.0,274.3 1354.5,273.7 1355.1,274.7 1355.6,274.0 1356.1,273.9 1356.7,273.1 1357.2,271.8 1357.8,272.8 1358.3,275.0 1358.8,273.8 1359.4,274.3 1359.9,273.3 1360.5,273.1 1361.0,273.6 1361.6,273.5 1362.1,272.2 1362.6,272.6 1363.2,272.8 1363.7,273.9 1364.3,273.7 1364.8,273.8 1365.3,275.0 1365.9,273.2 1366.4,273.2 1367.0,271.9 1367.5,276.0 1368.1,273.7 1368.6,274.3 1369.1,273.6 1369.7,274.4 1370.2,275.1 1370.8,272.6 1371.3,273.7 1371.8,272.3 1372.4,273.0 1372.9,271.9 1373.5,272.5 1374.0,275.1 1374.6,273.8 1375.1,273.9 1375.6,274.6 1376.2,273.4 1376.7,274.3 1377.3,274.3 1377.8,274.1 1378.3,273.9 1378.9,273.6 1379.4,273.1 1380.0,272.5 1380.5,272.8 1381.1,272.7 1381.6,274.1 1382.1,272.7 1382.7,273.1 1383.2,273.8 1383.8,274.4 1384.3,273.0 1384.8,273.6 1385.4,273.4 1385.9,274.0 1386.5,273.3 1387.0,273.0 1387.6,270.2 1388.1,272.8 1388.6,273.1 1389.2,273.3 1389.7,271.9 1390.3,273.9 1390.8,275.0 1391.4,272.9 1391.9,273.0 1392.4,272.3 1393.0,273.8 1393.5,273.2 1394.1,273.4 1394.6,272.4 1395.1,272.5 1395.7,272.9 1396.2,272.1 1396.8,271.7 1397.3,271.4 1397.9,273.6 1398.4,272.9 1398.9,273.3 1399.5,272.0 1400.0,271.9 1400.6,272.9 1401.1,273.6 1401.6,274.7 1402.2,273.4 1402.7,272.6 1403.3,272.2 1403.8,272.0 1404.4,270.6 1404.9,273.1 1405.4,273.0 1406.0,272.6 1406.5,272.7 1407.1,273.6 1407.6,272.3 1408.1,272.0 1408.7,273.3 1409.2,272.6 1409.8,274.3 1410.3,273.5 1410.9,273.2 1411.4,273.7 1411.9,273.6 1412.5,273.4 1413.0,271.5 1413.6,271.9 1414.1,273.1 1414.6,273.9 1415.2,271.4 1415.7,270.6 1416.3,273.1 1416.8,271.6 1417.4,272.7 1417.9,270.8 1418.4,272.3 1419.0,273.2 1419.5,273.1 1420.1,273.3 1420.6,273.3 1421.1,272.4 1421.7,273.1 1422.2,271.7 1422.8,273.1 1423.3,272.9 1423.9,273.8 1424.4,273.4 1424.9,272.2 1425.5,271.7 1426.0,273.7 1426.6,271.0 1427.1,272.8 1427.6,272.8 1428.2,271.4 1428.7,272.5 1429.3,271.5 1429.8,272.4 1430.4,272.0 1430.9,272.1 1431.4,271.7 1432.0,272.4 1432.5,273.0 1433.1,271.1 1433.6,269.3 1434.1,272.2 1434.7,272.6 1435.2,272.5 1435.8,271.2 1436.3,272.7 1436.9,271.7 1437.4,274.5 1437.9,273.0 1438.5,272.7 1439.0,271.8 1439.6,272.4 1440.1,272.5 1440.6,271.6 1441.2,270.8 1441.7,271.2 1442.3,270.0 1442.8,271.6 1443.4,271.7 1443.9,271.2 1444.4,271.7 1445.0,271.8 1445.5,270.9 1446.1,270.3 1446.6,271.5 1447.1,270.2 1447.7,270.0 1448.2,270.8 1448.8,268.8 1449.3,270.2 1449.9,270.1 1450.4,269.5 1450.9,269.6 1451.5,270.5 1452.0,270.6 1452.6,269.5 1453.1,268.6 1453.6,270.2 1454.2,271.3 1454.7,271.9 1455.3,268.3 1455.8,270.5 1456.4,269.7 1456.9,269.8 1457.4,269.7 1458.0,272.3 1458.5,270.1 1459.1,269.1 1459.6,268.6 1460.1,269.5 1460.7,269.4 1461.2,268.8 1461.8,268.5 1462.3,267.7 1462.9,269.6 1463.4,269.7 1463.9,270.9 1464.5,269.0 1465.0,269.8 1465.6,269.7 1466.1,268.2 1466.6,268.8 1467.2,263.9 1467.7,267.7 1468.3,267.9 1468.8,267.6 1469.4,267.6 1469.9,267.3 1470.4,268.5 1471.0,267.6 1471.5,268.1 1472.1,267.8 1472.6,267.6 1473.1,268.0 1473.7,266.8 1474.2,265.4 1474.8,267.1 1475.3,267.1 1475.9,267.5 1476.4,269.5 1476.9,267.8 1477.5,266.7 1478.0,266.4 1478.6,267.0 1479.1,266.6 1479.6,267.4 1480.2,267.4 1480.7,268.4 1481.3,266.3 1481.8,266.7 1482.4,264.5 1482.9,265.1 1483.4,264.9 1484.0,264.8 1484.5,265.7 1485.1,264.3 1485.6,266.5 1486.1,265.5 1486.7,264.5 1487.2,263.2 1487.8,264.7 1488.3,265.3 1488.9,263.5 1489.4,266.0 1489.9,265.7 1490.5,264.4 1491.0,265.4 1491.6,264.9 1492.1,263.0 1492.6,263.2 1493.2,262.9 1493.7,264.3 1494.3,263.6 1494.8,261.9 1495.4,263.7 1495.9,262.5 1496.4,262.5 1497.0,263.5 1497.5,262.9 1498.1,263.2 1498.6,264.2 1499.1,264.9 1499.7,265.2 1500.2,263.8 1500.8,265.4 1501.3,264.1 1501.9,264.6 1502.4,264.7 1502.9,264.3 1503.5,264.5 1504.0,263.9 1504.6,262.7 1505.1,262.7 1505.6,263.3 1506.2,263.5 1506.7,263.7 1507.3,263.0 1507.8,262.8 1508.4,263.1 1508.9,263.2 1509.4,262.1 1510.0,262.7 1510.5,262.6 1511.1,261.5 1511.6,261.7 1512.1,262.0 1512.7,263.5 1513.2,263.3 1513.8,262.8 1514.3,261.9 1514.9,262.4 1515.4,263.4 1515.9,263.7 1516.5,263.3 1517.0,262.9 1517.6,260.2 1518.1,262.2 1518.6,261.7 1519.2,262.7 1519.7,261.7 1520.3,262.1 1520.8,262.1 1521.4,261.5 1521.9,261.8 1522.4,261.0 1523.0,262.4 1523.5,263.7 1524.1,262.3 1524.6,260.8 1525.1,261.6 1525.7,261.7 1526.2,260.4 1526.8,262.6 1527.3,261.9 1527.9,261.4 1528.4,262.1 1528.9,263.1 1529.5,262.3 1530.0,262.2 1530.6,260.8 1531.1,261.1 1531.7,262.6 1532.2,261.5 1532.7,261.6 1533.3,261.4 1533.8,261.5 1534.4,259.2 1534.9,260.3 1535.4,261.7 1536.0,261.6 1536.5,260.8 1537.1,260.4 1537.6,261.4 1538.2,261.1 1538.7,259.3 1539.2,259.6 1539.8,259.7 1540.3,260.1 1540.9,260.2 1541.4,258.0 1541.9,257.4 1542.5,259.2 1543.0,258.9 1543.6,258.5 1544.1,257.7 1544.7,259.3 1545.2,258.1 1545.7,259.2 1546.3,259.0 1546.8,258.3 1547.4,258.5 1547.9,258.9 1548.4,257.6 1549.0,256.4 1549.5,256.8 1550.1,256.6 1550.6,256.5 1551.2,257.5 1551.7,258.9 1552.2,257.1 1552.8,258.3 1553.3,258.3 1553.9,257.9 1554.4,257.4 1554.9,258.3 1555.5,255.6 1556.0,258.1 1556.6,257.4 1557.1,256.7 1557.7,257.1 1558.2,257.4 1558.7,256.7 1559.3,256.8 1559.8,255.4 1560.4,255.9 1560.9,256.9 1561.4,255.5 1562.0,255.1 1562.5,256.1 1563.1,253.9 1563.6,253.0 1564.2,252.9 1564.7,251.8 1565.2,253.5 1565.8,254.5 1566.3,252.5 1566.9,253.6 1567.4,252.6 1567.9,252.2 1568.5,252.3 1569.0,253.5 1569.6,251.4 1570.1,252.3 1570.7,252.6 1571.2,252.9 1571.7,252.4 1572.3,252.5 1572.8,251.3 1573.4,250.6 1573.9,251.0 1574.4,251.9 1575.0,251.4 1575.5,252.2 1576.1,251.8 1576.6,249.9 1577.2,250.3 1577.7,249.9 1578.2,250.5 1578.8,251.6 1579.3,251.1 1579.9,252.8 1580.4,251.1 1580.9,252.3 1581.5,250.5 1582.0,250.9 1582.6,250.3 1583.1,250.8 1583.7,250.6 1584.2,250.3 1584.7,251.0 1585.3,251.0 1585.8,251.2 1586.4,251.5 1586.9,250.5 1587.4,251.5 1588.0,251.0 1588.5,250.9 1589.1,251.4 1589.6,251.2 1590.2,250.6 1590.7,252.9 1591.2,251.6 1591.8,251.3 1592.3,250.2 1592.9,252.1 1593.4,251.9 1593.9,252.1 1594.5,252.7 1595.0,251.4 1595.6,251.1 1596.1,250.5 1596.7,250.7 1597.2,252.5 1597.7,250.2 1598.3,250.1 1598.8,249.8 1599.4,248.9 1599.9,250.9 1600.4,250.3 1601.0,249.5 1601.5,250.2 1602.1,250.4 1602.6,249.7 1603.2,250.8 1603.7,249.8 1604.2,249.6 1604.8,250.6 1605.3,251.6 1605.9,250.7 1606.4,251.5 1606.9,250.7 1607.5,251.4 1608.0,251.4 1608.6,250.2 1609.1,247.4 1609.7,250.1 1610.2,249.9 1610.7,251.1 1611.3,252.8 1611.8,251.7 1612.4,252.0 1612.9,252.4 1613.4,251.8 1614.0,250.9 1614.5,252.3 1615.1,252.1 1615.6,251.3 1616.2,252.7 1616.7,253.6 1617.2,251.1 1617.8,252.5 1618.3,252.4 1618.9,252.8 1619.4,252.0 1619.9,251.8 1620.5,252.3 1621.0,253.0 1621.6,251.7 1622.1,253.4 1622.7,253.5 1623.2,251.7 1623.7,253.9 1624.3,253.2 1624.8,253.0 1625.4,253.1 1625.9,252.3 1626.4,253.3 1627.0,251.9 1627.5,252.3 1628.1,252.0 1628.6,253.5 1629.2,252.4 1629.7,252.7 1630.2,254.3 1630.8,253.2 1631.3,251.2 1631.9,251.4 1632.4,252.8 1632.9,253.2 1633.5,253.0 1634.0,253.3 1634.6,253.4 1635.1,255.3 1635.7,255.6 1636.2,255.0 1636.7,254.3 1637.3,255.1 1637.8,255.0 1638.4,253.8 1638.9,254.2 1639.4,253.5 1640.0,252.8 1640.5,253.5 1641.1,252.3 1641.6,254.3 1642.2,254.4 1642.7,254.9 1643.2,254.0 1643.8,256.6 1644.3,254.8 1644.9,255.5 1645.4,255.7 1645.9,253.4 1646.5,254.7 1647.0,254.9 1647.6,254.8 1648.1,255.5 1648.7,254.1 1649.2,254.1 1649.7,253.8 1650.3,253.1 1650.8,254.5 1651.4,254.4 1651.9,252.5 1652.4,255.1 1653.0,253.2 1653.5,254.8 1654.1,255.7 1654.6,255.8 1655.2,254.4 1655.7,253.6 1656.2,255.2 1656.8,255.2 1657.3,255.6 1657.9,254.5 1658.4,253.9 1658.9,256.3 1659.5,254.3 1660.0,255.7 1660.6,256.2 1661.1,254.3 1661.7,253.1 1662.2,252.9 1662.7,254.5 1663.3,255.3 1663.8,255.4 1664.4,253.7 1664.9,254.9 1665.5,254.6 1666.0,254.8 1666.5,253.8 1667.1,255.5 1667.6,253.3 1668.2,255.4 1668.7,255.0 1669.2,253.1 1669.8,254.9 1670.3,255.9 1670.9,254.9 1671.4,255.8 1672.0,255.3 1672.5,257.0 1673.0,255.2 1673.6,256.0 1674.1,254.8 1674.7,256.2 1675.2,256.3 1675.7,256.1 1676.3,258.1 1676.8,255.4 1677.4,255.2 1677.9,255.7 1678.5,255.1 1679.0,254.9 1679.5,253.9 1680.1,253.7 1680.6,255.4 1681.2,254.7 1681.7,253.9 1682.2,253.2 1682.8,252.9 1683.3,252.9 1683.9,253.9 1684.4,254.0 1685.0,254.2 1685.5,252.2 1686.0,252.7 1686.6,251.6 1687.1,252.9 1687.7,252.9 1688.2,252.7 1688.7,251.3 1689.3,251.2 1689.8,251.9 1690.4,253.3 1690.9,252.3 1691.5,252.7 1692.0,253.6 1692.5,252.7 1693.1,253.5 1693.6,251.9 1694.2,250.9 1694.7,250.3 1695.2,253.8 1695.8,252.1 1696.3,252.6 1696.9,253.3 1697.4,252.8 1698.0,251.3 1698.5,254.2 1699.0,252.9 1699.6,253.1 1700.1,251.9 1700.7,252.6 1701.2,251.1 1701.7,250.2 1702.3,252.1 1702.8,250.9 1703.4,251.5 1703.9,250.5 1704.5,251.1 1705.0,251.6 1705.5,250.7 1706.1,251.6 1706.6,250.8 1707.2,252.3 1707.7,251.4 1708.2,253.1 1708.8,251.6 1709.3,251.5 1709.9,252.9 1710.4,249.3 1711.0,252.0 1711.5,251.2 1712.0,250.1 1712.6,250.2 1713.1,250.1 1713.7,250.1 1714.2,249.5 1714.7,250.8 1715.3,250.7 1715.8,249.6 1716.4,248.4 1716.9,248.9 1717.5,249.3 1718.0,251.0 1718.5,249.6 1719.1,249.9 1719.6,250.7 1720.2,249.8 1720.7,250.5 1721.2,251.3 1721.8,250.5 1722.3,252.1 1722.9,251.8 1723.4,252.1 1724.0,250.5 1724.5,251.9 1725.0,251.5 1725.6,250.3 1726.1,250.1 1726.7,252.0 1727.2,250.5 1727.7,251.2 1728.3,251.7 1728.8,250.8 1729.4,251.7 1729.9,250.0 1730.5,250.2 1731.0,250.8 1731.5,251.8 1732.1,251.1 1732.6,250.1 1733.2,250.1 1733.7,249.6 1734.2,250.3 1734.8,251.1 1735.3,250.7 1735.9,248.9 1736.4,248.7 1737.0,250.1 1737.5,250.0 1738.0,251.1 1738.6,248.5 1739.1,251.1 1739.7,250.1 1740.2,251.8 1740.7,251.5 1741.3,252.4 1741.8,253.7 1742.4,251.5 1742.9,251.2 1743.5,252.6 1744.0,252.4 1744.5,253.8 1745.1,253.6 1745.6,253.2 1746.2,253.7 1746.7,254.2 1747.2,253.7 1747.8,253.4 1748.3,255.4 1748.9,255.1 1749.4,255.5 1750.0,254.2 1750.5,255.1 1751.0,254.5 1751.6,255.4 1752.1,255.2 1752.7,254.7 1753.2,254.7 1753.7,256.8 1754.3,255.6 1754.8,254.9 1755.4,253.7 1755.9,254.2 1756.5,257.7 1757.0,254.4 1757.5,256.3 1758.1,255.7 1758.6,256.0 1759.2,256.5 1759.7,258.6 1760.2,257.5 1760.8,257.2 1761.3,257.5 1761.9,257.6 1762.4,258.3 1763.0,258.6 1763.5,259.1 1764.0,257.6 1764.6,257.8 1765.1,260.1 1765.7,257.4 1766.2,258.2 1766.7,259.8 1767.3,258.8 1767.8,258.7 1768.4,259.5 1768.9,259.2 1769.5,259.5 1770.0,259.5 1770.5,260.3 1771.1,261.3 1771.6,260.0 1772.2,259.7 1772.7,260.9 1773.2,262.0 1773.8,261.4 1774.3,262.3 1774.9,261.3 1775.4,262.6 1776.0,263.6 1776.5,264.8 1777.0,263.2 1777.6,265.0 1778.1,265.5 1778.7,264.8 1779.2,264.5 1779.7,265.8 1780.3,265.5 1780.8,264.5 1781.4,264.9 1781.9,264.0 1782.5,264.5 1783.0,265.9 1783.5,265.6 1784.1,265.3 1784.6,265.6 1785.2,266.3 1785.7,265.3 1786.2,267.3 1786.8,265.5 1787.3,267.7 1787.9,267.6 1788.4,266.7 1789.0,269.0 1789.5,267.0 1790.0,267.7 1790.6,267.1 1791.1,267.5 1791.7,267.0 1792.2,266.8 1792.7,268.7 1793.3,267.7 1793.8,269.8 1794.4,267.4 1794.9,267.7 1795.5,268.3 1796.0,265.6 1796.5,267.9 1797.1,269.1 1797.6,267.8 1798.2,268.3 1798.7,268.0 1799.3,268.0 1799.8,268.1 1800.3,269.4 1800.9,268.9 1801.4,271.0 1802.0,270.1 1802.5,269.4 1803.0,270.2 1803.6,269.6 1804.1,270.5 1804.7,269.9 1805.2,269.8 1805.8,271.1 1806.3,270.8 1806.8,271.6 1807.4,271.7 1807.9,271.3 1808.5,269.9 1809.0,270.2 1809.5,271.0 1810.1,270.3 1810.6,269.7 1811.2,272.1 1811.7,269.7 1812.3,269.7 1812.8,270.8 1813.3,270.3 1813.9,271.3 1814.4,272.1 1815.0,270.9 1815.5,271.5 1816.0,272.6 1816.6,270.9 1817.1,272.1 1817.7,273.0 1818.2,271.3 1818.8,271.5 1819.3,272.6 1819.8,272.8 1820.4,272.4 1820.9,271.1 1821.5,273.0 1822.0,270.5 1822.5,271.0 1823.1,270.9 1823.6,272.3 1824.2,272.5 1824.7,272.6 1825.3,273.3 1825.8,273.6 1826.3,273.7 1826.9,273.6 1827.4,273.7 1828.0,272.5 1828.5,273.7 1829.0,273.0 1829.6,273.4 1830.1,272.9 1830.7,273.2 1831.2,273.1 1831.8,273.7 1832.3,273.9 1832.8,271.3 1833.4,270.9 1833.9,271.0 1834.5,269.9 1835.0,271.4 1835.5,271.5 1836.1,272.1 1836.6,271.4 1837.2,269.8 1837.7,271.7 1838.3,271.7 1838.8,272.0 1839.3,273.7 1839.9,272.6 1840.4,273.3 1841.0,273.1 1841.5,272.4 1842.0,272.2 1842.6,273.3 1843.1,273.4 1843.7,274.3 1844.2,274.5 1844.8,274.5 1845.3,274.9 1845.8,274.6 1846.4,273.6 1846.9,273.2 1847.5,272.9 1848.0,273.4 1848.5,272.3 1849.1,272.5 1849.6,272.5 1850.2,272.5 1850.7,272.9 1851.3,272.9 1851.8,272.8 1852.3,272.6 1852.9,273.1 1853.4,273.2 1854.0,273.5 1854.5,273.5 1855.0,273.0 1855.6,273.6 1856.1,271.5 1856.7,272.1 1857.2,271.8 1857.8,272.8 1858.3,273.6 1858.8,273.0 1859.4,273.2 1859.9,273.7 1860.5,273.6 1861.0,273.9 1861.5,273.6 1862.1,273.2 1862.6,273.8 1863.2,274.2 1863.7,273.2 1864.3,274.4 1864.8,274.8 1865.3,273.6 1865.9,273.4 1866.4,273.4 1867.0,272.5 1867.5,275.0 1868.0,276.4 1868.6,273.6 1869.1,273.4 1869.7,276.0 1870.2,273.8 1870.8,272.4 1871.3,273.7 1871.8,274.3 1872.4,273.7 1872.9,274.9 1873.5,275.5 1874.0,272.7 1874.5,276.2 1875.1,274.5 1875.6,275.6 1876.2,273.4 1876.7,273.8 1877.3,274.4 1877.8,275.1 1878.3,273.7 1878.9,274.3 1879.4,273.8 1880.0,272.3 1880.5,274.7 1881.0,271.5 1881.6,275.5 1882.1,275.5 1882.7,274.2 1883.2,275.2 1883.8,276.6 1884.3,275.5 1884.8,275.8 1885.4,274.7 1885.9,274.8 1886.5,275.1 1887.0,273.7 1887.5,277.3 1888.1,276.5 1888.6,276.9 1889.2,275.8 1889.7,277.4 1890.3,278.1 1890.8,277.5 1891.3,277.4 1891.9,277.9 1892.4,276.5 1893.0,278.3 1893.5,277.1 1894.0,277.4 1894.6,278.6 1895.1,278.0 1895.7,279.0 1896.2,278.8 1896.8,278.3 1897.3,277.5 1897.8,278.4 1898.4,279.0 1898.9,280.5 1899.5,279.5 1900.0,278.7 1900.5,279.8 1901.1,279.3 1901.6,280.4 1902.2,281.7 1902.7,279.6 1903.3,280.1 1903.8,280.6 1904.3,280.4 1904.9,281.5 1905.4,281.2 1906.0,280.7 1906.5,281.8 1907.0,279.2 1907.6,281.5 1908.1,280.5 1908.7,280.5 1909.2,281.7 1909.8,280.4 1910.3,280.3 1910.8,280.6 1911.4,280.8 1911.9,279.4 1912.5,279.5 1913.0,280.1 1913.5,279.4 1914.1,279.9 1914.6,280.6 1915.2,279.8 1915.7,280.3 1916.3,281.7 1916.8,280.6 1917.3,280.3 1917.9,281.9 1918.4,281.9 1919.0,281.6 1919.5,283.0 1920.0,283.1 1920.6,282.5 1921.1,285.0 1921.7,282.6 1922.2,283.9 1922.8,281.6 1923.3,282.7 1923.8,283.2 1924.4,284.4 1924.9,283.7 1925.5,284.0 1926.0,283.3 1926.5,282.1 1927.1,282.1 1927.6,282.8 1928.2,282.3 1928.7,282.6 1929.3,282.4 1929.8,283.3 1930.3,283.9 1930.9,282.0 1931.4,283.1 1932.0,282.2 1932.5,281.5 1933.1,280.7 1933.6,282.5 1934.1,281.3 1934.7,282.6 1935.2,283.1 1935.8,282.8 1936.3,283.5 1936.8,283.6 1937.4,283.6 1937.9,283.3 1938.5,283.8 1939.0,284.0 1939.6,285.0 1940.1,283.3 1940.6,284.3 1941.2,286.4 1941.7,285.7 1942.3,285.2 1942.8,283.6 1943.3,283.7 1943.9,284.8 1944.4,285.2 1945.0,284.9 1945.5,285.6 1946.1,285.6 1946.6,284.8 1947.1,284.8 1947.7,284.7 1948.2,284.0 1948.8,283.7 1949.3,283.0 1949.8,284.2 1950.4,284.5 1950.9,282.6 1951.5,282.1 1952.0,284.8 1952.6,281.4 1953.1,284.4 1953.6,284.8 1954.2,285.9 1954.7,285.3 1955.3,285.0 1955.8,284.8 1956.3,284.5 1956.9,283.5 1957.4,283.9 1958.0,284.6 1958.5,285.2 1959.1,286.8 1959.6,284.3 1960.1,284.3 1960.7,284.8 1961.2,284.9 1961.8,285.7 1962.3,285.2 1962.8,283.9 1963.4,284.1 1963.9,285.6 1964.5,284.2 1965.0,285.0 1965.6,286.2 1966.1,284.9 1966.6,286.5 1967.2,285.0 1967.7,284.8 1968.3,284.4 1968.8,284.7 1969.3,284.7 1969.9,284.4 1970.4,284.2 1971.0,285.0 1971.5,285.0 1972.1,284.5 1972.6,285.4 1973.1,285.1 1973.7,284.0 1974.2,287.7 1974.8,285.6 1975.3,285.3 1975.8,284.9 1976.4,284.7 1976.9,284.5 1977.5,284.7 1978.0,287.0 1978.6,285.4 1979.1,285.8 1979.6,284.3 1980.2,284.8 1980.7,286.0 1981.3,285.6 1981.8,285.6 1982.3,286.6 1982.9,285.3 1983.4,286.3 1984.0,286.5 1984.5,285.2 1985.1,286.1 1985.6,286.7 1986.1,286.2 1986.7,285.8 1987.2,285.1 1987.8,284.0 1988.3,284.2 1988.8,285.1 1989.4,285.3 1989.9,284.2 1990.5,284.5 1991.0,285.6 1991.6,285.9 1992.1,284.8 1992.6,284.5 1993.2,285.1 1993.7,284.8 1994.3,285.2 1994.8,285.0 1995.3,285.8 1995.9,287.1 1996.4,287.6 1997.0,286.4 1997.5,286.9 1998.1,287.7 1998.6,286.1 1999.1,287.3 1999.7,287.3 2000.2,286.9 2000.8,287.4 2001.3,285.5 2001.8,287.3 2002.4,286.0 2002.9,286.8 2003.5,285.8 2004.0,286.8 2004.6,286.3 2005.1,287.6 2005.6,287.6 2006.2,286.6 2006.7,285.6 2007.3,287.7 2007.8,287.9 2008.3,286.8 2008.9,287.0 2009.4,287.0 2010.0,285.6 2010.5,285.4 2011.1,286.8 2011.6,286.5 2012.1,286.5 2012.7,286.4 2013.2,286.2 2013.8,286.8 2014.3,287.6 2014.8,286.6 2015.4,286.6 2015.9,286.8 2016.5,287.8 2017.0,286.2 2017.6,285.0 2018.1,287.4 2018.6,286.0 2019.2,285.8 2019.7,285.3 2020.3,286.9 2020.8,286.2 2021.3,287.2 2021.9,287.9 2022.4,287.0 2023.0,286.4 2023.5,287.0 2024.1,286.6 2024.6,286.8 2025.1,287.5 2025.7,287.2 2026.2,286.9 2026.8,287.0 2027.3,288.4 2027.8,287.0 2028.4,288.5 2028.9,287.8 2029.5,287.0 2030.0,287.3 2030.6,285.3 2031.1,285.1 2031.6,286.5 2032.2,287.8 2032.7,285.5 2033.3,286.7 2033.8,286.3 2034.3,286.8 2034.9,287.1 2035.4,287.9 2036.0,286.6 2036.5,288.1 2037.1,287.2 2037.6,288.0 2038.1,286.4 2038.7,287.4 2039.2,286.8 2039.8,287.0 2040.3,287.5 2040.8,286.5 2041.4,284.8 2041.9,285.1 2042.5,286.0 2043.0,287.0 2043.6,287.8 2044.1,287.8 2044.6,289.3 2045.2,288.4 2045.7,287.6 2046.3,288.2 2046.8,289.9 2047.3,290.9 2047.9,288.0 2048.4,287.8 2049.0,287.8 2049.5,287.4 2050.1,288.2 2050.6,287.4 2051.1,288.4 2051.7,287.4 2052.2,286.8 2052.8,286.9 2053.3,287.1 2053.8,287.4 2054.4,286.4 2054.9,288.6 2055.5,289.5 2056.0,287.0 2056.6,286.3 2057.1,289.5 2057.6,288.3 2058.2,287.6 2058.7,287.7 2059.3,288.1 2059.8,289.5 2060.3,289.4 2060.9,288.5 2061.4,288.8 2062.0,289.7 2062.5,287.9 2063.1,287.2 2063.6,287.7 2064.1,286.0 2064.7,287.6 2065.2,287.3 2065.8,287.7 2066.3,286.5 2066.8,288.1 2067.4,288.3 2067.9,288.1 2068.5,288.1 2069.0,289.0 2069.6,287.7 2070.1,288.3 2070.6,289.2 2071.2,287.7 2071.7,288.4 2072.3,287.7 2072.8,288.2 2073.4,288.4 2073.9,288.9 2074.4,287.3 2075.0,287.2 2075.5,289.6 2076.1,289.6 2076.6,290.5 2077.1,290.9 2077.7,286.9 2078.2,289.4 2078.8,289.8 2079.3,291.1 2079.9,288.2 2080.4,287.1 2080.9,286.9 2081.5,288.6 2082.0,289.7 2082.6,288.6 2083.1,288.0 2083.6,290.2 2084.2,288.9 2084.7,289.4 2085.3,290.8 2085.8,289.9 2086.4,288.6 2086.9,288.5 2087.4,287.1 2088.0,287.9 2088.5,288.8 2089.1,288.0 2089.6,289.0 2090.1,288.9 2090.7,288.0 2091.2,288.5 2091.8,288.2 2092.3,286.8 2092.9,289.2 2093.4,289.3 2093.9,287.2 2094.5,288.0 2095.0,289.2 2095.6,287.5 2096.1,288.4 2096.6,288.3 2097.2,289.0 2097.7,290.1 2098.3,288.7 2098.8,290.8 2099.4,289.1 2099.9,289.0 2100.4,291.3 2101.0,290.3 2101.5,289.5 2102.1,289.5 2102.6,291.2 2103.1,290.3 2103.7,288.8 2104.2,288.7 2104.8,288.3 2105.3,288.2 2105.9,287.7 2106.4,288.5 2106.9,289.0 2107.5,288.3 2108.0,288.9 2108.6,288.4 2109.1,288.4 2109.6,288.8 2110.2,287.9 2110.7,288.2 2111.3,289.0 2111.8,289.7 2112.4,290.1 2112.9,291.1 2113.4,288.9 2114.0,291.0 2114.5,289.1 2115.1,289.9 2115.6,289.0 2116.1,289.3 2116.7,290.7 2117.2,290.2 2117.8,288.9 2118.3,288.1 2118.9,289.1 2119.4,289.7 2119.9,290.2 2120.5,288.5 2121.0,289.8 2121.6,289.8 2122.1,291.5 2122.6,289.8 2123.2,289.6 2123.7,289.2 2124.3,290.4 2124.8,291.6 2125.4,290.6 2125.9,288.8 2126.4,290.7 2127.0,290.4 2127.5,290.0 2128.1,290.7 2128.6,291.2 2129.1,291.0 2129.7,291.1 2130.2,292.3 2130.8,290.5 2131.3,290.8 2131.9,291.7 2132.4,290.6 2132.9,290.5 2133.5,288.6 2134.0,291.1 2134.6,290.0 2135.1,291.2 2135.6,290.9 2136.2,290.7 2136.7,289.6 2137.3,290.1 2137.8,290.4 2138.4,289.1 2138.9,289.8 2139.4,291.7 2140.0,292.0 2140.5,290.3 2141.1,289.8 2141.6,290.1 2142.1,286.7 2142.7,290.3 2143.2,290.4 2143.8,290.9 2144.3,289.1 2144.9,289.4 2145.4,289.8 2145.9,289.7 2146.5,290.5 2147.0,289.1 2147.6,288.5 2148.1,290.7 2148.6,290.1 2149.2,291.8 2149.7,290.1 2150.3,289.9 2150.8,290.5 2151.4,290.8 2151.9,290.6 2152.4,291.3 2153.0,291.1 2153.5,289.7 2154.1,290.9 2154.6,290.7 2155.1,291.4 2155.7,290.5 2156.2,292.4 2156.8,292.1 2157.3,291.7 2157.9,291.4 2158.4,291.2 2158.9,290.2 2159.5,291.0 2160.0,290.2 2160.6,291.5 2161.1,291.7 2161.6,290.5 2162.2,290.7 2162.7,291.1 2163.3,289.1 2163.8,289.2 2164.4,290.3 2164.9,290.9 2165.4,289.3 2166.0,288.5 2166.5,288.2 2167.1,290.2 2167.6,288.0 2168.1,289.0 2168.7,289.6 2169.2,289.2 2169.8,289.8 2170.3,290.9 2170.9,290.7 2171.4,290.1 2171.9,290.1 2172.5,289.6 2173.0,290.3 2173.6,288.8 2174.1,290.4 2174.6,287.9 2175.2,288.3 2175.7,290.7 2176.3,292.5 2176.8,289.1 2177.4,291.5 2177.9,290.5 2178.4,290.4 2179.0,289.8 2179.5,289.6 2180.1,288.7 2180.6,288.6 2181.1,289.7 2181.7,289.6 2182.2,290.5 2182.8,289.2 2183.3,289.1 2183.9,289.7 2184.4,289.3 2184.9,290.6 2185.5,290.2 2186.0,288.8 2186.6,290.0 2187.1,290.7 2187.6,290.5 2188.2,290.5 2188.7,290.7 2189.3,289.5 2189.8,290.0 2190.4,289.4 2190.9,290.6 2191.4,288.8 2192.0,289.8 2192.5,289.7 2193.1,290.8 2193.6,289.9 2194.1,290.6 2194.7,291.9 2195.2,289.8 2195.8,289.8 2196.3,289.6 2196.9,290.9 2197.4,290.3 2197.9,290.7 2198.5,288.7 2199.0,290.1 2199.6,290.1 2200.1,290.5 2200.6,292.0 2201.2,291.3 2201.7,291.5 2202.3,290.2 2202.8,290.2 2203.4,291.2 2203.9,290.1 2204.4,290.0 2205.0,290.4 2205.5,288.3 2206.1,288.6 2206.6,290.6 2207.2,288.6 2207.7,289.8 2208.2,288.3 2208.8,288.5 2209.3,289.5 2209.9,289.5 2210.4,290.3 2210.9,291.2 2211.5,291.2 2212.0,289.0 2212.6,290.1 2213.1,289.2 2213.7,289.4 2214.2,288.6 2214.7,290.0 2215.3,291.6 2215.8,290.3 2216.4,290.2 2216.9,289.3 2217.4,290.9 2218.0,290.5 2218.5,290.1 2219.1,290.5 2219.6,291.3 2220.2,290.5 2220.7,289.0 2221.2,289.3 2221.8,288.7 2222.3,289.9 2222.9,288.3 2223.4,290.8 2223.9,289.4 2224.5,290.8 2225.0,290.0 2225.6,289.4 2226.1,290.2 2226.7,290.0 2227.2,289.4 2227.7,290.6 2228.3,291.2 2228.8,288.4 2229.4,289.8 2229.9,290.0 2230.4,291.5 2231.0,291.1 2231.5,291.2 2232.1,290.4 2232.6,292.2 2233.2,289.7 2233.7,289.3 2234.2,290.7 2234.8,291.7 2235.3,290.2 2235.9,290.3 2236.4,291.0 2236.9,293.0 2237.5,290.2 2238.0,291.3 2238.6,291.0 2239.1,291.3 2239.7,290.8 2240.2,291.3 2240.7,289.8 2241.3,289.6 2241.8,289.4 2242.4,290.1 2242.9,291.2 2243.4,292.0 2244.0,291.4 2244.5,291.1 2245.1,290.6 2245.6,291.1 2246.2,289.8 2246.7,291.1 2247.2,291.8 2247.8,292.0 2248.3,292.2 2248.9,290.6 2249.4,292.7 2249.9,292.1 2250.5,291.2 2251.0,291.3 2251.6,289.2 2252.1,289.6 2252.7,291.0 2253.2,289.9 2253.7,290.7 2254.3,289.5 2254.8,290.5 2255.4,290.7 2255.9,290.7 2256.4,291.0 2257.0,290.2 2257.5,291.8 2258.1,291.3 2258.6,290.0 2259.2,291.0 2259.7,290.1 2260.2,290.7 2260.8,291.5 2261.3,290.7 2261.9,290.0 2262.4,290.0 2262.9,290.1 2263.5,290.9 2264.0,289.5 2264.6,289.5 2265.1,289.8 2265.7,289.4 2266.2,288.1 2266.7,290.8 2267.3,289.2 2267.8,290.4 2268.4,288.5 2268.9,289.8 2269.4,291.0 2270.0,290.5 2270.5,291.2 2271.1,290.1 2271.6,290.0 2272.2,289.9 2272.7,289.4 2273.2,291.2 2273.8,290.7 2274.3,290.5 2274.9,291.2 2275.4,289.5 2275.9,291.0 2276.5,290.2 2277.0,290.6 2277.6,291.7 2278.1,291.8 2278.7,291.6 2279.2,292.2 2279.7,291.5 2280.3,290.1 2280.8,290.8 2281.4,290.0 2281.9,291.5 2282.4,290.8 2283.0,288.5 2283.5,290.9 2284.1,290.1 2284.6,289.6 2285.2,292.2 2285.7,291.6 2286.2,290.7 2286.8,292.1 2287.3,289.6 2287.9,290.0 2288.4,291.6 2288.9,291.1 2289.5,294.5 2290.0,292.6 2290.6,293.4 2291.1,291.6 2291.7,294.1 2292.2,293.0 2292.7,290.9 2293.3,291.9 2293.8,292.1 2294.4,291.3 2294.9,291.1 2295.4,290.3 2296.0,291.5 2296.5,291.8 2297.1,291.2 2297.6,291.2 2298.2,291.7 2298.7,291.9 2299.2,290.8 2299.8,290.9 2300.3,290.7 2300.9,290.2 2301.4,290.3 2301.9,291.5 2302.5,290.7 2303.0,289.5 2303.6,289.2 2304.1,291.8 2304.7,290.7 2305.2,292.7 2305.7,291.4 2306.3,291.3 2306.8,291.7 2307.4,291.5 2307.9,291.1 2308.4,291.2 2309.0,291.9 2309.5,291.7 2310.1,291.1 2310.6,291.4 2311.2,291.0"/>
<polyline fill="none" stroke="#9900ff" stroke-width="10.8" points="168,297.1 181,297.1"/>
</g>
<text transform="translate(414.6,1238.8) scale(1,1.021)" text-anchor="middle" font-size="74.15" fill="#000">500</text>
<text transform="translate(685.5,1238.8) scale(1,1.021)" text-anchor="middle" font-size="74.15" fill="#000">1000</text>
<text transform="translate(956.3,1238.8) scale(1,1.021)" text-anchor="middle" font-size="74.15" fill="#000">1500</text>
<text transform="translate(1227.2,1238.8) scale(1,1.021)" text-anchor="middle" font-size="74.15" fill="#000">2000</text>
<text transform="translate(1498.1,1238.8) scale(1,1.021)" text-anchor="middle" font-size="74.15" fill="#000">2500</text>
<text transform="translate(1768.9,1238.8) scale(1,1.021)" text-anchor="middle" font-size="74.15" fill="#000">3000</text>
<text transform="translate(2039.8,1238.8) scale(1,1.021)" text-anchor="middle" font-size="74.15" fill="#000">3500</text>
<text transform="translate(2311.2,1238.8) scale(1,1.021)" text-anchor="middle" font-size="74.15" fill="#000">4000</text>
<text transform="translate(196.6,399.0) scale(1,1.044)" font-size="79.6" fill="#9900ff">HT-P-SC</text>
<text transform="translate(1764.8,375.7) scale(1,1.04)" font-size="79.4" fill="#9900ff">ID/IG=1.18</text>
<text transform="translate(196.0,680.5) scale(1,1.044)" font-size="79.6" fill="#00ff66">NF-P-SC</text>
<text transform="translate(1760.5,654.8) scale(1,1.04)" font-size="79.4" fill="#00ff66">ID/IG=0.99</text>
<text transform="translate(196.4,1077.4) scale(1,1.044)" font-size="79.6" fill="#ff0000">LF-P-SC</text>
<text transform="translate(1760.2,1066.5) scale(1,1.04)" font-size="79.4" fill="#ff0000">ID/IG=0.70</text>
<text transform="translate(77.6,861.1) rotate(-90) scale(1,1.03)" font-size="86.0" fill="#000">Intentsity(a.u.)</text>
<text transform="translate(907.9,1382.6) scale(1,1.03)" font-size="85.3" fill="#000">Raman shift(cm<tspan font-size="61" dy="-34" dx="1">-1</tspan><tspan dy="34" dx="0">)</tspan></text>
</svg>
</body>
</html>
